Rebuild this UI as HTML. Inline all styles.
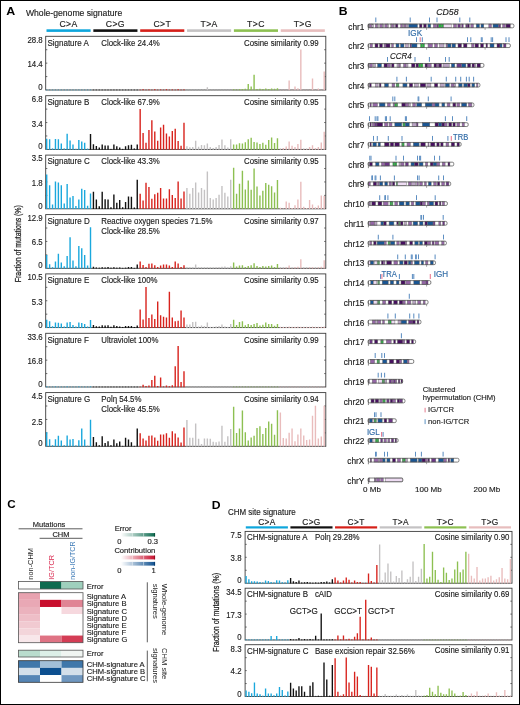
<!DOCTYPE html><html><head><meta charset="utf-8"><style>html,body{margin:0;padding:0;background:#fff;}#w{position:relative;width:520px;height:705px;overflow:hidden;background:#fff;}svg{display:block;position:absolute;left:0;top:0;filter:blur(0.3px);} text{font-family:"Liberation Sans", sans-serif;}.bd{position:absolute;left:0;top:0;width:518px;height:703px;border:1px solid #000;}</style></head><body><div id="w"><svg width="520" height="705" viewBox="0 0 520 705" font-family='"Liberation Sans", sans-serif'>
<rect x="0.00" y="0.00" width="520.00" height="705.00" fill="#fff" />
<text transform="translate(6.30,14.80) scale(1.17,1)" font-size="10.6" text-anchor="start" fill="#000" font-weight="bold" >A</text>
<text transform="translate(25.90,16.00) scale(0.94,1)" font-size="9.2" text-anchor="start" fill="#222" stroke="#222" stroke-width="0.15" font-weight="normal" >Whole-genome signature</text>
<rect x="46.50" y="29.30" width="44.10" height="2.60" fill="#0ea6dc" />
<text x="68.55" y="26.50" font-size="8.7" text-anchor="middle" fill="#222" stroke="#222" stroke-width="0.15" font-weight="normal" letter-spacing="0.35">C&gt;A</text>
<rect x="93.35" y="29.30" width="44.10" height="2.60" fill="#111111" />
<text x="115.40" y="26.50" font-size="8.7" text-anchor="middle" fill="#222" stroke="#222" stroke-width="0.15" font-weight="normal" letter-spacing="0.35">C&gt;G</text>
<rect x="140.20" y="29.30" width="44.10" height="2.60" fill="#d52019" />
<text x="162.25" y="26.50" font-size="8.7" text-anchor="middle" fill="#222" stroke="#222" stroke-width="0.15" font-weight="normal" letter-spacing="0.35">C&gt;T</text>
<rect x="187.05" y="29.30" width="44.10" height="2.60" fill="#c4c2c3" />
<text x="209.10" y="26.50" font-size="8.7" text-anchor="middle" fill="#222" stroke="#222" stroke-width="0.15" font-weight="normal" letter-spacing="0.35">T&gt;A</text>
<rect x="233.90" y="29.30" width="44.10" height="2.60" fill="#8dc052" />
<text x="255.95" y="26.50" font-size="8.7" text-anchor="middle" fill="#222" stroke="#222" stroke-width="0.15" font-weight="normal" letter-spacing="0.35">T&gt;C</text>
<rect x="280.75" y="29.30" width="44.10" height="2.60" fill="#e7bdbd" />
<text x="302.80" y="26.50" font-size="8.7" text-anchor="middle" fill="#222" stroke="#222" stroke-width="0.15" font-weight="normal" letter-spacing="0.35">T&gt;G</text>
<rect x="45.7" y="36.30" width="280.1" height="53.70" fill="none" stroke="#3c3c3c" stroke-width="0.9"/>
<path d="M45.7 49.72h1.6M325.8 49.72h-1.6M45.7 63.15h1.6M325.8 63.15h-1.6M45.7 76.58h1.6M325.8 76.58h-1.6" stroke="#444" stroke-width="0.8"/>
<path d="M46.70 90.00v-0.8M49.62 90.00v-0.8M52.54 90.00v-0.8M55.46 90.00v-0.8M58.38 90.00v-0.8M61.30 90.00v-0.8M64.23 90.00v-0.8M67.15 90.00v-0.8M70.07 90.00v-0.8M72.99 90.00v-0.8M75.91 90.00v-0.8M78.83 90.00v-0.8M81.75 90.00v-0.8M84.67 90.00v-0.8M87.59 90.00v-0.8M90.52 90.00v-0.8M93.44 90.00v-0.8M96.36 90.00v-0.8M99.28 90.00v-0.8M102.20 90.00v-0.8M105.12 90.00v-0.8M108.04 90.00v-0.8M110.96 90.00v-0.8M113.88 90.00v-0.8M116.80 90.00v-0.8M119.72 90.00v-0.8M122.65 90.00v-0.8M125.57 90.00v-0.8M128.49 90.00v-0.8M131.41 90.00v-0.8M134.33 90.00v-0.8M137.25 90.00v-0.8M140.17 90.00v-0.8M143.09 90.00v-0.8M146.01 90.00v-0.8M148.94 90.00v-0.8M151.86 90.00v-0.8M154.78 90.00v-0.8M157.70 90.00v-0.8M160.62 90.00v-0.8M163.54 90.00v-0.8M166.46 90.00v-0.8M169.38 90.00v-0.8M172.30 90.00v-0.8M175.22 90.00v-0.8M178.14 90.00v-0.8M181.07 90.00v-0.8M183.99 90.00v-0.8M186.91 90.00v-0.8M189.83 90.00v-0.8M192.75 90.00v-0.8M195.67 90.00v-0.8M198.59 90.00v-0.8M201.51 90.00v-0.8M204.43 90.00v-0.8M207.36 90.00v-0.8M210.28 90.00v-0.8M213.20 90.00v-0.8M216.12 90.00v-0.8M219.04 90.00v-0.8M221.96 90.00v-0.8M224.88 90.00v-0.8M227.80 90.00v-0.8M230.72 90.00v-0.8M233.64 90.00v-0.8M236.56 90.00v-0.8M239.49 90.00v-0.8M242.41 90.00v-0.8M245.33 90.00v-0.8M248.25 90.00v-0.8M251.17 90.00v-0.8M254.09 90.00v-0.8M257.01 90.00v-0.8M259.93 90.00v-0.8M262.85 90.00v-0.8M265.77 90.00v-0.8M268.70 90.00v-0.8M271.62 90.00v-0.8M274.54 90.00v-0.8M277.46 90.00v-0.8M280.38 90.00v-0.8M283.30 90.00v-0.8M286.22 90.00v-0.8M289.14 90.00v-0.8M292.06 90.00v-0.8M294.99 90.00v-0.8M297.91 90.00v-0.8M300.83 90.00v-0.8M303.75 90.00v-0.8M306.67 90.00v-0.8M309.59 90.00v-0.8M312.51 90.00v-0.8M315.43 90.00v-0.8M318.35 90.00v-0.8M321.27 90.00v-0.8M324.19 90.00v-0.8" stroke="#777" stroke-width="0.6"/>
<path d="M46.00 90.30h1.4v-0.60h-1.4zM48.92 90.30h1.4v-0.60h-1.4zM51.84 90.30h1.4v-0.60h-1.4zM54.76 90.30h1.4v-0.60h-1.4zM57.68 90.30h1.4v-0.60h-1.4zM60.60 90.30h1.4v-0.60h-1.4zM63.53 90.30h1.4v-0.60h-1.4zM66.45 90.30h1.4v-0.60h-1.4zM69.37 90.30h1.4v-0.60h-1.4zM72.29 90.30h1.4v-0.60h-1.4zM75.21 90.30h1.4v-0.60h-1.4zM78.13 90.30h1.4v-0.60h-1.4zM81.05 90.30h1.4v-0.60h-1.4zM83.97 90.30h1.4v-0.60h-1.4zM86.89 90.30h1.4v-0.60h-1.4zM89.81 90.30h1.4v-0.60h-1.4z" fill="#1aa8dd"/>
<path d="M92.74 90.30h1.4v-0.60h-1.4zM95.66 90.30h1.4v-0.60h-1.4zM98.58 90.30h1.4v-0.60h-1.4zM101.50 90.30h1.4v-0.60h-1.4zM104.42 90.30h1.4v-0.60h-1.4zM107.34 90.30h1.4v-0.60h-1.4zM110.26 90.30h1.4v-0.60h-1.4zM113.18 90.30h1.4v-0.60h-1.4zM116.10 90.30h1.4v-0.60h-1.4zM119.02 90.30h1.4v-0.60h-1.4zM121.95 90.30h1.4v-0.60h-1.4zM124.87 90.30h1.4v-0.60h-1.4zM127.79 90.30h1.4v-0.60h-1.4zM130.71 90.30h1.4v-0.60h-1.4zM133.63 90.30h1.4v-0.60h-1.4zM136.55 90.30h1.4v-0.60h-1.4z" fill="#111111"/>
<path d="M139.47 90.30h1.4v-0.60h-1.4zM142.39 90.30h1.4v-1.10h-1.4zM145.31 90.30h1.4v-0.60h-1.4zM148.24 90.30h1.4v-0.90h-1.4zM151.16 90.30h1.4v-0.60h-1.4zM154.08 90.30h1.4v-1.10h-1.4zM157.00 90.30h1.4v-0.60h-1.4zM159.92 90.30h1.4v-0.90h-1.4zM162.84 90.30h1.4v-0.60h-1.4zM165.76 90.30h1.4v-1.10h-1.4zM168.68 90.30h1.4v-0.60h-1.4zM171.60 90.30h1.4v-0.90h-1.4zM174.52 90.30h1.4v-0.60h-1.4zM177.44 90.30h1.4v-1.10h-1.4zM180.37 90.30h1.4v-0.60h-1.4zM183.29 90.30h1.4v-0.90h-1.4z" fill="#d8231d"/>
<path d="M186.21 90.30h1.4v-0.60h-1.4zM189.13 90.30h1.4v-0.60h-1.4zM192.05 90.30h1.4v-0.60h-1.4zM194.97 90.30h1.4v-0.60h-1.4zM197.89 90.30h1.4v-0.60h-1.4zM200.81 90.30h1.4v-0.60h-1.4zM203.73 90.30h1.4v-0.60h-1.4zM206.66 90.30h1.4v-3.10h-1.4zM209.58 90.30h1.4v-0.60h-1.4zM212.50 90.30h1.4v-0.60h-1.4zM215.42 90.30h1.4v-0.60h-1.4zM218.34 90.30h1.4v-0.60h-1.4zM221.26 90.30h1.4v-0.60h-1.4zM224.18 90.30h1.4v-0.60h-1.4zM227.10 90.30h1.4v-0.60h-1.4zM230.02 90.30h1.4v-0.60h-1.4z" fill="#c4c2c3"/>
<path d="M232.94 90.30h1.4v-1.10h-1.4zM235.87 90.30h1.4v-0.90h-1.4zM238.79 90.30h1.4v-1.10h-1.4zM241.71 90.30h1.4v-1.30h-1.4zM244.63 90.30h1.4v-1.50h-1.4zM247.55 90.30h1.4v-6.30h-1.4zM250.47 90.30h1.4v-3.70h-1.4zM253.39 90.30h1.4v-15.60h-1.4zM256.31 90.30h1.4v-1.30h-1.4zM259.23 90.30h1.4v-1.50h-1.4zM262.15 90.30h1.4v-1.30h-1.4zM265.07 90.30h1.4v-1.70h-1.4zM268.00 90.30h1.4v-1.30h-1.4zM270.92 90.30h1.4v-1.90h-1.4zM273.84 90.30h1.4v-1.50h-1.4zM276.76 90.30h1.4v-2.10h-1.4z" fill="#8dc052"/>
<path d="M279.68 90.30h1.4v-0.60h-1.4zM282.60 90.30h1.4v-0.60h-1.4zM285.52 90.30h1.4v-0.60h-1.4zM288.44 90.30h1.4v-9.90h-1.4zM291.36 90.30h1.4v-0.60h-1.4zM294.29 90.30h1.4v-3.90h-1.4zM297.21 90.30h1.4v-2.10h-1.4zM300.13 90.30h1.4v-40.90h-1.4zM303.05 90.30h1.4v-0.60h-1.4zM305.97 90.30h1.4v-0.60h-1.4zM308.89 90.30h1.4v-0.60h-1.4zM311.81 90.30h1.4v-11.80h-1.4zM314.73 90.30h1.4v-0.60h-1.4zM317.65 90.30h1.4v-1.80h-1.4zM320.57 90.30h1.4v-0.60h-1.4zM323.50 90.30h1.4v-18.90h-1.4z" fill="#e9bcbc"/>
<text transform="translate(42.70,42.60) scale(0.91,1)" font-size="8.6" text-anchor="end" fill="#222" stroke="#222" stroke-width="0.15" font-weight="normal" >28.8</text>
<text transform="translate(42.70,67.10) scale(0.91,1)" font-size="8.6" text-anchor="end" fill="#222" stroke="#222" stroke-width="0.15" font-weight="normal" >14.4</text>
<text transform="translate(42.70,90.00) scale(0.91,1)" font-size="8.6" text-anchor="end" fill="#222" stroke="#222" stroke-width="0.15" font-weight="normal" >0</text>
<text transform="translate(47.40,45.60) scale(0.945,1)" font-size="8.5" text-anchor="start" fill="#222" stroke="#222" stroke-width="0.15" font-weight="normal" >Signature A</text>
<text transform="translate(101.30,45.60) scale(0.925,1)" font-size="8.5" text-anchor="start" fill="#222" stroke="#222" stroke-width="0.15" font-weight="normal" >Clock-like 24.4%</text>
<text transform="translate(318.70,45.60) scale(0.927,1)" font-size="8.5" text-anchor="end" fill="#222" stroke="#222" stroke-width="0.15" font-weight="normal" >Cosine similarity 0.99</text>
<rect x="45.7" y="95.70" width="280.1" height="53.70" fill="none" stroke="#3c3c3c" stroke-width="0.9"/>
<path d="M45.7 109.12h1.6M325.8 109.12h-1.6M45.7 122.55h1.6M325.8 122.55h-1.6M45.7 135.98h1.6M325.8 135.98h-1.6" stroke="#444" stroke-width="0.8"/>
<path d="M46.70 149.40v-0.8M49.62 149.40v-0.8M52.54 149.40v-0.8M55.46 149.40v-0.8M58.38 149.40v-0.8M61.30 149.40v-0.8M64.23 149.40v-0.8M67.15 149.40v-0.8M70.07 149.40v-0.8M72.99 149.40v-0.8M75.91 149.40v-0.8M78.83 149.40v-0.8M81.75 149.40v-0.8M84.67 149.40v-0.8M87.59 149.40v-0.8M90.52 149.40v-0.8M93.44 149.40v-0.8M96.36 149.40v-0.8M99.28 149.40v-0.8M102.20 149.40v-0.8M105.12 149.40v-0.8M108.04 149.40v-0.8M110.96 149.40v-0.8M113.88 149.40v-0.8M116.80 149.40v-0.8M119.72 149.40v-0.8M122.65 149.40v-0.8M125.57 149.40v-0.8M128.49 149.40v-0.8M131.41 149.40v-0.8M134.33 149.40v-0.8M137.25 149.40v-0.8M140.17 149.40v-0.8M143.09 149.40v-0.8M146.01 149.40v-0.8M148.94 149.40v-0.8M151.86 149.40v-0.8M154.78 149.40v-0.8M157.70 149.40v-0.8M160.62 149.40v-0.8M163.54 149.40v-0.8M166.46 149.40v-0.8M169.38 149.40v-0.8M172.30 149.40v-0.8M175.22 149.40v-0.8M178.14 149.40v-0.8M181.07 149.40v-0.8M183.99 149.40v-0.8M186.91 149.40v-0.8M189.83 149.40v-0.8M192.75 149.40v-0.8M195.67 149.40v-0.8M198.59 149.40v-0.8M201.51 149.40v-0.8M204.43 149.40v-0.8M207.36 149.40v-0.8M210.28 149.40v-0.8M213.20 149.40v-0.8M216.12 149.40v-0.8M219.04 149.40v-0.8M221.96 149.40v-0.8M224.88 149.40v-0.8M227.80 149.40v-0.8M230.72 149.40v-0.8M233.64 149.40v-0.8M236.56 149.40v-0.8M239.49 149.40v-0.8M242.41 149.40v-0.8M245.33 149.40v-0.8M248.25 149.40v-0.8M251.17 149.40v-0.8M254.09 149.40v-0.8M257.01 149.40v-0.8M259.93 149.40v-0.8M262.85 149.40v-0.8M265.77 149.40v-0.8M268.70 149.40v-0.8M271.62 149.40v-0.8M274.54 149.40v-0.8M277.46 149.40v-0.8M280.38 149.40v-0.8M283.30 149.40v-0.8M286.22 149.40v-0.8M289.14 149.40v-0.8M292.06 149.40v-0.8M294.99 149.40v-0.8M297.91 149.40v-0.8M300.83 149.40v-0.8M303.75 149.40v-0.8M306.67 149.40v-0.8M309.59 149.40v-0.8M312.51 149.40v-0.8M315.43 149.40v-0.8M318.35 149.40v-0.8M321.27 149.40v-0.8M324.19 149.40v-0.8" stroke="#777" stroke-width="0.6"/>
<path d="M46.00 149.70h1.4v-11.00h-1.4zM48.92 149.70h1.4v-10.50h-1.4zM51.84 149.70h1.4v-1.30h-1.4zM54.76 149.70h1.4v-10.70h-1.4zM57.68 149.70h1.4v-10.50h-1.4zM60.60 149.70h1.4v-6.20h-1.4zM63.53 149.70h1.4v-1.30h-1.4zM66.45 149.70h1.4v-16.00h-1.4zM69.37 149.70h1.4v-9.20h-1.4zM72.29 149.70h1.4v-5.10h-1.4zM75.21 149.70h1.4v-0.70h-1.4zM78.13 149.70h1.4v-9.60h-1.4zM81.05 149.70h1.4v-8.20h-1.4zM83.97 149.70h1.4v-6.90h-1.4zM86.89 149.70h1.4v-1.00h-1.4z" fill="#1aa8dd"/>
<path d="M89.81 149.70h1.4v-15.70h-1.4zM92.74 149.70h1.4v-5.50h-1.4zM95.66 149.70h1.4v-3.70h-1.4zM98.58 149.70h1.4v-2.10h-1.4zM101.50 149.70h1.4v-5.10h-1.4zM104.42 149.70h1.4v-4.10h-1.4zM107.34 149.70h1.4v-4.10h-1.4zM110.26 149.70h1.4v-0.80h-1.4zM113.18 149.70h1.4v-5.10h-1.4zM116.10 149.70h1.4v-3.40h-1.4zM119.02 149.70h1.4v-2.10h-1.4zM121.95 149.70h1.4v-0.60h-1.4zM124.87 149.70h1.4v-3.40h-1.4zM127.79 149.70h1.4v-4.40h-1.4zM130.71 149.70h1.4v-4.90h-1.4zM133.63 149.70h1.4v-1.10h-1.4zM136.55 149.70h1.4v-5.30h-1.4z" fill="#111111"/>
<path d="M139.47 149.70h1.4v-40.70h-1.4zM142.39 149.70h1.4v-16.80h-1.4zM145.31 149.70h1.4v-6.90h-1.4zM148.24 149.70h1.4v-19.60h-1.4zM151.16 149.70h1.4v-29.40h-1.4zM154.08 149.70h1.4v-18.10h-1.4zM157.00 149.70h1.4v-8.90h-1.4zM159.92 149.70h1.4v-22.20h-1.4zM162.84 149.70h1.4v-24.90h-1.4zM165.76 149.70h1.4v-16.10h-1.4zM168.68 149.70h1.4v-13.30h-1.4zM171.60 149.70h1.4v-18.70h-1.4zM174.52 149.70h1.4v-20.90h-1.4zM177.44 149.70h1.4v-8.60h-1.4zM180.37 149.70h1.4v-3.90h-1.4zM183.29 149.70h1.4v-26.90h-1.4z" fill="#d8231d"/>
<path d="M186.21 149.70h1.4v-3.40h-1.4zM189.13 149.70h1.4v-2.50h-1.4zM192.05 149.70h1.4v-2.80h-1.4zM194.97 149.70h1.4v-8.90h-1.4zM197.89 149.70h1.4v-3.00h-1.4zM200.81 149.70h1.4v-4.80h-1.4zM203.73 149.70h1.4v-4.50h-1.4zM206.66 149.70h1.4v-6.20h-1.4zM209.58 149.70h1.4v-2.80h-1.4zM212.50 149.70h1.4v-1.70h-1.4zM215.42 149.70h1.4v-2.80h-1.4zM218.34 149.70h1.4v-4.80h-1.4zM221.26 149.70h1.4v-10.30h-1.4zM224.18 149.70h1.4v-4.50h-1.4zM227.10 149.70h1.4v-2.10h-1.4zM230.02 149.70h1.4v-10.50h-1.4z" fill="#c4c2c3"/>
<path d="M232.94 149.70h1.4v-5.10h-1.4zM235.87 149.70h1.4v-5.10h-1.4zM238.79 149.70h1.4v-6.40h-1.4zM241.71 149.70h1.4v-6.20h-1.4zM244.63 149.70h1.4v-7.50h-1.4zM247.55 149.70h1.4v-10.50h-1.4zM250.47 149.70h1.4v-11.90h-1.4zM253.39 149.70h1.4v-7.80h-1.4zM256.31 149.70h1.4v-7.20h-1.4zM259.23 149.70h1.4v-5.80h-1.4zM262.15 149.70h1.4v-6.90h-1.4zM265.07 149.70h1.4v-4.90h-1.4zM268.00 149.70h1.4v-9.70h-1.4zM270.92 149.70h1.4v-12.10h-1.4zM273.84 149.70h1.4v-6.70h-1.4zM276.76 149.70h1.4v-11.40h-1.4z" fill="#8dc052"/>
<path d="M279.68 149.70h1.4v-0.60h-1.4zM282.60 149.70h1.4v-1.70h-1.4zM285.52 149.70h1.4v-3.10h-1.4zM288.44 149.70h1.4v-8.10h-1.4zM291.36 149.70h1.4v-3.90h-1.4zM294.29 149.70h1.4v-2.80h-1.4zM297.21 149.70h1.4v-5.80h-1.4zM300.13 149.70h1.4v-10.00h-1.4zM303.05 149.70h1.4v-0.60h-1.4zM305.97 149.70h1.4v-0.70h-1.4zM308.89 149.70h1.4v-2.80h-1.4zM311.81 149.70h1.4v-4.50h-1.4zM314.73 149.70h1.4v-1.70h-1.4zM317.65 149.70h1.4v-2.80h-1.4zM320.57 149.70h1.4v-7.20h-1.4zM323.50 149.70h1.4v-18.00h-1.4z" fill="#e9bcbc"/>
<text transform="translate(42.70,102.00) scale(0.91,1)" font-size="8.6" text-anchor="end" fill="#222" stroke="#222" stroke-width="0.15" font-weight="normal" >6.8</text>
<text transform="translate(42.70,126.50) scale(0.91,1)" font-size="8.6" text-anchor="end" fill="#222" stroke="#222" stroke-width="0.15" font-weight="normal" >3.4</text>
<text transform="translate(42.70,149.40) scale(0.91,1)" font-size="8.6" text-anchor="end" fill="#222" stroke="#222" stroke-width="0.15" font-weight="normal" >0</text>
<text transform="translate(47.40,105.00) scale(0.945,1)" font-size="8.5" text-anchor="start" fill="#222" stroke="#222" stroke-width="0.15" font-weight="normal" >Signature B</text>
<text transform="translate(101.30,105.00) scale(0.925,1)" font-size="8.5" text-anchor="start" fill="#222" stroke="#222" stroke-width="0.15" font-weight="normal" >Clock-like 67.9%</text>
<text transform="translate(318.70,105.00) scale(0.927,1)" font-size="8.5" text-anchor="end" fill="#222" stroke="#222" stroke-width="0.15" font-weight="normal" >Cosine similarity 0.95</text>
<rect x="45.7" y="155.10" width="280.1" height="53.70" fill="none" stroke="#3c3c3c" stroke-width="0.9"/>
<path d="M45.7 168.53h1.6M325.8 168.53h-1.6M45.7 181.95h1.6M325.8 181.95h-1.6M45.7 195.38h1.6M325.8 195.38h-1.6" stroke="#444" stroke-width="0.8"/>
<path d="M46.70 208.80v-0.8M49.62 208.80v-0.8M52.54 208.80v-0.8M55.46 208.80v-0.8M58.38 208.80v-0.8M61.30 208.80v-0.8M64.23 208.80v-0.8M67.15 208.80v-0.8M70.07 208.80v-0.8M72.99 208.80v-0.8M75.91 208.80v-0.8M78.83 208.80v-0.8M81.75 208.80v-0.8M84.67 208.80v-0.8M87.59 208.80v-0.8M90.52 208.80v-0.8M93.44 208.80v-0.8M96.36 208.80v-0.8M99.28 208.80v-0.8M102.20 208.80v-0.8M105.12 208.80v-0.8M108.04 208.80v-0.8M110.96 208.80v-0.8M113.88 208.80v-0.8M116.80 208.80v-0.8M119.72 208.80v-0.8M122.65 208.80v-0.8M125.57 208.80v-0.8M128.49 208.80v-0.8M131.41 208.80v-0.8M134.33 208.80v-0.8M137.25 208.80v-0.8M140.17 208.80v-0.8M143.09 208.80v-0.8M146.01 208.80v-0.8M148.94 208.80v-0.8M151.86 208.80v-0.8M154.78 208.80v-0.8M157.70 208.80v-0.8M160.62 208.80v-0.8M163.54 208.80v-0.8M166.46 208.80v-0.8M169.38 208.80v-0.8M172.30 208.80v-0.8M175.22 208.80v-0.8M178.14 208.80v-0.8M181.07 208.80v-0.8M183.99 208.80v-0.8M186.91 208.80v-0.8M189.83 208.80v-0.8M192.75 208.80v-0.8M195.67 208.80v-0.8M198.59 208.80v-0.8M201.51 208.80v-0.8M204.43 208.80v-0.8M207.36 208.80v-0.8M210.28 208.80v-0.8M213.20 208.80v-0.8M216.12 208.80v-0.8M219.04 208.80v-0.8M221.96 208.80v-0.8M224.88 208.80v-0.8M227.80 208.80v-0.8M230.72 208.80v-0.8M233.64 208.80v-0.8M236.56 208.80v-0.8M239.49 208.80v-0.8M242.41 208.80v-0.8M245.33 208.80v-0.8M248.25 208.80v-0.8M251.17 208.80v-0.8M254.09 208.80v-0.8M257.01 208.80v-0.8M259.93 208.80v-0.8M262.85 208.80v-0.8M265.77 208.80v-0.8M268.70 208.80v-0.8M271.62 208.80v-0.8M274.54 208.80v-0.8M277.46 208.80v-0.8M280.38 208.80v-0.8M283.30 208.80v-0.8M286.22 208.80v-0.8M289.14 208.80v-0.8M292.06 208.80v-0.8M294.99 208.80v-0.8M297.91 208.80v-0.8M300.83 208.80v-0.8M303.75 208.80v-0.8M306.67 208.80v-0.8M309.59 208.80v-0.8M312.51 208.80v-0.8M315.43 208.80v-0.8M318.35 208.80v-0.8M321.27 208.80v-0.8M324.19 208.80v-0.8" stroke="#777" stroke-width="0.6"/>
<path d="M46.00 209.10h1.4v-34.50h-1.4zM48.92 209.10h1.4v-23.80h-1.4zM51.84 209.10h1.4v-4.70h-1.4zM54.76 209.10h1.4v-27.60h-1.4zM57.68 209.10h1.4v-26.50h-1.4zM60.60 209.10h1.4v-23.90h-1.4zM63.53 209.10h1.4v-5.50h-1.4zM66.45 209.10h1.4v-25.20h-1.4zM69.37 209.10h1.4v-11.60h-1.4zM72.29 209.10h1.4v-13.00h-1.4zM75.21 209.10h1.4v-3.00h-1.4zM78.13 209.10h1.4v-9.60h-1.4zM81.05 209.10h1.4v-20.40h-1.4zM83.97 209.10h1.4v-19.20h-1.4zM86.89 209.10h1.4v-3.30h-1.4zM89.81 209.10h1.4v-15.70h-1.4z" fill="#1aa8dd"/>
<path d="M92.74 209.10h1.4v-17.40h-1.4zM95.66 209.10h1.4v-9.60h-1.4zM98.58 209.10h1.4v-2.80h-1.4zM101.50 209.10h1.4v-17.40h-1.4zM104.42 209.10h1.4v-9.90h-1.4zM107.34 209.10h1.4v-9.60h-1.4zM110.26 209.10h1.4v-1.90h-1.4zM113.18 209.10h1.4v-14.60h-1.4zM116.10 209.10h1.4v-6.40h-1.4zM119.02 209.10h1.4v-9.20h-1.4zM121.95 209.10h1.4v-1.90h-1.4zM124.87 209.10h1.4v-7.10h-1.4zM127.79 209.10h1.4v-12.60h-1.4zM130.71 209.10h1.4v-12.30h-1.4zM133.63 209.10h1.4v-1.70h-1.4zM136.55 209.10h1.4v-29.40h-1.4z" fill="#111111"/>
<path d="M139.47 209.10h1.4v-15.30h-1.4zM142.39 209.10h1.4v-8.50h-1.4zM145.31 209.10h1.4v-26.30h-1.4zM148.24 209.10h1.4v-22.20h-1.4zM151.16 209.10h1.4v-10.30h-1.4zM154.08 209.10h1.4v-14.90h-1.4zM157.00 209.10h1.4v-16.40h-1.4zM159.92 209.10h1.4v-21.10h-1.4zM162.84 209.10h1.4v-10.50h-1.4zM165.76 209.10h1.4v-10.50h-1.4zM168.68 209.10h1.4v-19.80h-1.4zM171.60 209.10h1.4v-14.00h-1.4zM174.52 209.10h1.4v-11.00h-1.4zM177.44 209.10h1.4v-27.60h-1.4zM180.37 209.10h1.4v-10.50h-1.4zM183.29 209.10h1.4v-17.60h-1.4z" fill="#d8231d"/>
<path d="M186.21 209.10h1.4v-21.20h-1.4zM189.13 209.10h1.4v-15.30h-1.4zM192.05 209.10h1.4v-21.20h-1.4zM194.97 209.10h1.4v-26.50h-1.4zM197.89 209.10h1.4v-16.70h-1.4zM200.81 209.10h1.4v-21.20h-1.4zM203.73 209.10h1.4v-19.40h-1.4zM206.66 209.10h1.4v-37.50h-1.4zM209.58 209.10h1.4v-11.00h-1.4zM212.50 209.10h1.4v-9.50h-1.4zM215.42 209.10h1.4v-11.20h-1.4zM218.34 209.10h1.4v-14.40h-1.4zM221.26 209.10h1.4v-23.10h-1.4zM224.18 209.10h1.4v-16.40h-1.4zM227.10 209.10h1.4v-12.60h-1.4zM230.02 209.10h1.4v-29.30h-1.4z" fill="#c4c2c3"/>
<path d="M232.94 209.10h1.4v-41.30h-1.4zM235.87 209.10h1.4v-15.30h-1.4zM238.79 209.10h1.4v-25.30h-1.4zM241.71 209.10h1.4v-38.30h-1.4zM244.63 209.10h1.4v-19.70h-1.4zM247.55 209.10h1.4v-28.70h-1.4zM250.47 209.10h1.4v-19.40h-1.4zM253.39 209.10h1.4v-40.60h-1.4zM256.31 209.10h1.4v-22.60h-1.4zM259.23 209.10h1.4v-13.50h-1.4zM262.15 209.10h1.4v-18.30h-1.4zM265.07 209.10h1.4v-26.10h-1.4zM268.00 209.10h1.4v-24.30h-1.4zM270.92 209.10h1.4v-22.90h-1.4zM273.84 209.10h1.4v-16.60h-1.4zM276.76 209.10h1.4v-29.10h-1.4z" fill="#8dc052"/>
<path d="M279.68 209.10h1.4v-1.40h-1.4zM282.60 209.10h1.4v-0.70h-1.4zM285.52 209.10h1.4v-7.60h-1.4zM288.44 209.10h1.4v-6.30h-1.4zM291.36 209.10h1.4v-1.00h-1.4zM294.29 209.10h1.4v-3.90h-1.4zM297.21 209.10h1.4v-9.70h-1.4zM300.13 209.10h1.4v-27.30h-1.4zM303.05 209.10h1.4v-2.40h-1.4zM305.97 209.10h1.4v-1.00h-1.4zM308.89 209.10h1.4v-9.00h-1.4zM311.81 209.10h1.4v-4.60h-1.4zM314.73 209.10h1.4v-1.80h-1.4zM317.65 209.10h1.4v-3.50h-1.4zM320.57 209.10h1.4v-13.50h-1.4zM323.50 209.10h1.4v-13.20h-1.4z" fill="#e9bcbc"/>
<text transform="translate(42.70,161.40) scale(0.91,1)" font-size="8.6" text-anchor="end" fill="#222" stroke="#222" stroke-width="0.15" font-weight="normal" >3.5</text>
<text transform="translate(42.70,185.90) scale(0.91,1)" font-size="8.6" text-anchor="end" fill="#222" stroke="#222" stroke-width="0.15" font-weight="normal" >1.8</text>
<text transform="translate(42.70,208.80) scale(0.91,1)" font-size="8.6" text-anchor="end" fill="#222" stroke="#222" stroke-width="0.15" font-weight="normal" >0</text>
<text transform="translate(47.40,164.40) scale(0.945,1)" font-size="8.5" text-anchor="start" fill="#222" stroke="#222" stroke-width="0.15" font-weight="normal" >Signature C</text>
<text transform="translate(101.30,164.40) scale(0.925,1)" font-size="8.5" text-anchor="start" fill="#222" stroke="#222" stroke-width="0.15" font-weight="normal" >Clock-like 43.3%</text>
<text transform="translate(318.70,164.40) scale(0.927,1)" font-size="8.5" text-anchor="end" fill="#222" stroke="#222" stroke-width="0.15" font-weight="normal" >Cosine similarity 0.95</text>
<rect x="45.7" y="214.60" width="280.1" height="53.70" fill="none" stroke="#3c3c3c" stroke-width="0.9"/>
<path d="M45.7 228.03h1.6M325.8 228.03h-1.6M45.7 241.45h1.6M325.8 241.45h-1.6M45.7 254.88h1.6M325.8 254.88h-1.6" stroke="#444" stroke-width="0.8"/>
<path d="M46.70 268.30v-0.8M49.62 268.30v-0.8M52.54 268.30v-0.8M55.46 268.30v-0.8M58.38 268.30v-0.8M61.30 268.30v-0.8M64.23 268.30v-0.8M67.15 268.30v-0.8M70.07 268.30v-0.8M72.99 268.30v-0.8M75.91 268.30v-0.8M78.83 268.30v-0.8M81.75 268.30v-0.8M84.67 268.30v-0.8M87.59 268.30v-0.8M90.52 268.30v-0.8M93.44 268.30v-0.8M96.36 268.30v-0.8M99.28 268.30v-0.8M102.20 268.30v-0.8M105.12 268.30v-0.8M108.04 268.30v-0.8M110.96 268.30v-0.8M113.88 268.30v-0.8M116.80 268.30v-0.8M119.72 268.30v-0.8M122.65 268.30v-0.8M125.57 268.30v-0.8M128.49 268.30v-0.8M131.41 268.30v-0.8M134.33 268.30v-0.8M137.25 268.30v-0.8M140.17 268.30v-0.8M143.09 268.30v-0.8M146.01 268.30v-0.8M148.94 268.30v-0.8M151.86 268.30v-0.8M154.78 268.30v-0.8M157.70 268.30v-0.8M160.62 268.30v-0.8M163.54 268.30v-0.8M166.46 268.30v-0.8M169.38 268.30v-0.8M172.30 268.30v-0.8M175.22 268.30v-0.8M178.14 268.30v-0.8M181.07 268.30v-0.8M183.99 268.30v-0.8M186.91 268.30v-0.8M189.83 268.30v-0.8M192.75 268.30v-0.8M195.67 268.30v-0.8M198.59 268.30v-0.8M201.51 268.30v-0.8M204.43 268.30v-0.8M207.36 268.30v-0.8M210.28 268.30v-0.8M213.20 268.30v-0.8M216.12 268.30v-0.8M219.04 268.30v-0.8M221.96 268.30v-0.8M224.88 268.30v-0.8M227.80 268.30v-0.8M230.72 268.30v-0.8M233.64 268.30v-0.8M236.56 268.30v-0.8M239.49 268.30v-0.8M242.41 268.30v-0.8M245.33 268.30v-0.8M248.25 268.30v-0.8M251.17 268.30v-0.8M254.09 268.30v-0.8M257.01 268.30v-0.8M259.93 268.30v-0.8M262.85 268.30v-0.8M265.77 268.30v-0.8M268.70 268.30v-0.8M271.62 268.30v-0.8M274.54 268.30v-0.8M277.46 268.30v-0.8M280.38 268.30v-0.8M283.30 268.30v-0.8M286.22 268.30v-0.8M289.14 268.30v-0.8M292.06 268.30v-0.8M294.99 268.30v-0.8M297.91 268.30v-0.8M300.83 268.30v-0.8M303.75 268.30v-0.8M306.67 268.30v-0.8M309.59 268.30v-0.8M312.51 268.30v-0.8M315.43 268.30v-0.8M318.35 268.30v-0.8M321.27 268.30v-0.8M324.19 268.30v-0.8" stroke="#777" stroke-width="0.6"/>
<path d="M46.00 268.60h1.4v-13.60h-1.4zM48.92 268.60h1.4v-4.40h-1.4zM51.84 268.60h1.4v-1.30h-1.4zM54.76 268.60h1.4v-7.10h-1.4zM57.68 268.60h1.4v-14.90h-1.4zM60.60 268.60h1.4v-6.20h-1.4zM63.53 268.60h1.4v-2.30h-1.4zM66.45 268.60h1.4v-12.60h-1.4zM69.37 268.60h1.4v-31.30h-1.4zM72.29 268.60h1.4v-8.10h-1.4zM75.21 268.60h1.4v-2.30h-1.4zM78.13 268.60h1.4v-22.60h-1.4zM81.05 268.60h1.4v-20.40h-1.4zM83.97 268.60h1.4v-13.60h-1.4zM86.89 268.60h1.4v-3.00h-1.4zM89.81 268.60h1.4v-41.30h-1.4z" fill="#1aa8dd"/>
<path d="M92.74 268.60h1.4v-1.80h-1.4zM95.66 268.60h1.4v-1.10h-1.4zM98.58 268.60h1.4v-0.80h-1.4zM101.50 268.60h1.4v-1.30h-1.4zM104.42 268.60h1.4v-1.10h-1.4zM107.34 268.60h1.4v-1.50h-1.4zM110.26 268.60h1.4v-0.80h-1.4zM113.18 268.60h1.4v-1.30h-1.4zM116.10 268.60h1.4v-0.80h-1.4zM119.02 268.60h1.4v-1.10h-1.4zM121.95 268.60h1.4v-0.60h-1.4zM124.87 268.60h1.4v-0.80h-1.4zM127.79 268.60h1.4v-1.50h-1.4zM130.71 268.60h1.4v-1.50h-1.4zM133.63 268.60h1.4v-0.60h-1.4zM136.55 268.60h1.4v-4.00h-1.4z" fill="#111111"/>
<path d="M139.47 268.60h1.4v-7.10h-1.4zM142.39 268.60h1.4v-3.70h-1.4zM145.31 268.60h1.4v-1.70h-1.4zM148.24 268.60h1.4v-4.80h-1.4zM151.16 268.60h1.4v-5.10h-1.4zM154.08 268.60h1.4v-3.40h-1.4zM157.00 268.60h1.4v-1.70h-1.4zM159.92 268.60h1.4v-3.00h-1.4zM162.84 268.60h1.4v-4.00h-1.4zM165.76 268.60h1.4v-4.00h-1.4zM168.68 268.60h1.4v-3.00h-1.4zM171.60 268.60h1.4v-1.70h-1.4zM174.52 268.60h1.4v-7.10h-1.4zM177.44 268.60h1.4v-5.10h-1.4zM180.37 268.60h1.4v-1.70h-1.4zM183.29 268.60h1.4v-3.40h-1.4z" fill="#d8231d"/>
<path d="M186.21 268.60h1.4v-1.10h-1.4zM189.13 268.60h1.4v-0.90h-1.4zM192.05 268.60h1.4v-1.10h-1.4zM194.97 268.60h1.4v-4.00h-1.4zM197.89 268.60h1.4v-0.90h-1.4zM200.81 268.60h1.4v-1.10h-1.4zM203.73 268.60h1.4v-0.90h-1.4zM206.66 268.60h1.4v-1.10h-1.4zM209.58 268.60h1.4v-0.70h-1.4zM212.50 268.60h1.4v-0.70h-1.4zM215.42 268.60h1.4v-0.90h-1.4zM218.34 268.60h1.4v-1.10h-1.4zM221.26 268.60h1.4v-1.80h-1.4zM224.18 268.60h1.4v-2.10h-1.4zM227.10 268.60h1.4v-0.80h-1.4zM230.02 268.60h1.4v-2.30h-1.4z" fill="#c4c2c3"/>
<path d="M232.94 268.60h1.4v-6.20h-1.4zM235.87 268.60h1.4v-2.10h-1.4zM238.79 268.60h1.4v-3.00h-1.4zM241.71 268.60h1.4v-3.40h-1.4zM244.63 268.60h1.4v-1.70h-1.4zM247.55 268.60h1.4v-2.60h-1.4zM250.47 268.60h1.4v-3.40h-1.4zM253.39 268.60h1.4v-5.30h-1.4zM256.31 268.60h1.4v-2.50h-1.4zM259.23 268.60h1.4v-1.70h-1.4zM262.15 268.60h1.4v-2.50h-1.4zM265.07 268.60h1.4v-2.10h-1.4zM268.00 268.60h1.4v-2.50h-1.4zM270.92 268.60h1.4v-3.10h-1.4zM273.84 268.60h1.4v-1.70h-1.4zM276.76 268.60h1.4v-4.60h-1.4z" fill="#8dc052"/>
<path d="M279.68 268.60h1.4v-0.70h-1.4zM282.60 268.60h1.4v-0.70h-1.4zM285.52 268.60h1.4v-1.30h-1.4zM288.44 268.60h1.4v-3.10h-1.4zM291.36 268.60h1.4v-0.70h-1.4zM294.29 268.60h1.4v-1.30h-1.4zM297.21 268.60h1.4v-1.80h-1.4zM300.13 268.60h1.4v-9.40h-1.4zM303.05 268.60h1.4v-0.70h-1.4zM305.97 268.60h1.4v-0.70h-1.4zM308.89 268.60h1.4v-1.30h-1.4zM311.81 268.60h1.4v-1.30h-1.4zM314.73 268.60h1.4v-0.70h-1.4zM317.65 268.60h1.4v-1.30h-1.4zM320.57 268.60h1.4v-1.80h-1.4zM323.50 268.60h1.4v-8.30h-1.4z" fill="#e9bcbc"/>
<text transform="translate(42.70,220.90) scale(0.91,1)" font-size="8.6" text-anchor="end" fill="#222" stroke="#222" stroke-width="0.15" font-weight="normal" >12.9</text>
<text transform="translate(42.70,245.40) scale(0.91,1)" font-size="8.6" text-anchor="end" fill="#222" stroke="#222" stroke-width="0.15" font-weight="normal" >6.5</text>
<text transform="translate(42.70,268.30) scale(0.91,1)" font-size="8.6" text-anchor="end" fill="#222" stroke="#222" stroke-width="0.15" font-weight="normal" >0</text>
<text transform="translate(47.40,223.90) scale(0.945,1)" font-size="8.5" text-anchor="start" fill="#222" stroke="#222" stroke-width="0.15" font-weight="normal" >Signature D</text>
<text transform="translate(101.30,223.90) scale(0.925,1)" font-size="8.5" text-anchor="start" fill="#222" stroke="#222" stroke-width="0.15" font-weight="normal" >Reactive oxygen species 71.5%</text>
<text transform="translate(101.30,234.10) scale(0.925,1)" font-size="8.5" text-anchor="start" fill="#222" stroke="#222" stroke-width="0.15" font-weight="normal" >Clock-like 28.5%</text>
<text transform="translate(318.70,223.90) scale(0.927,1)" font-size="8.5" text-anchor="end" fill="#222" stroke="#222" stroke-width="0.15" font-weight="normal" >Cosine similarity 0.97</text>
<rect x="45.7" y="273.90" width="280.1" height="53.70" fill="none" stroke="#3c3c3c" stroke-width="0.9"/>
<path d="M45.7 287.32h1.6M325.8 287.32h-1.6M45.7 300.75h1.6M325.8 300.75h-1.6M45.7 314.17h1.6M325.8 314.17h-1.6" stroke="#444" stroke-width="0.8"/>
<path d="M46.70 327.60v-0.8M49.62 327.60v-0.8M52.54 327.60v-0.8M55.46 327.60v-0.8M58.38 327.60v-0.8M61.30 327.60v-0.8M64.23 327.60v-0.8M67.15 327.60v-0.8M70.07 327.60v-0.8M72.99 327.60v-0.8M75.91 327.60v-0.8M78.83 327.60v-0.8M81.75 327.60v-0.8M84.67 327.60v-0.8M87.59 327.60v-0.8M90.52 327.60v-0.8M93.44 327.60v-0.8M96.36 327.60v-0.8M99.28 327.60v-0.8M102.20 327.60v-0.8M105.12 327.60v-0.8M108.04 327.60v-0.8M110.96 327.60v-0.8M113.88 327.60v-0.8M116.80 327.60v-0.8M119.72 327.60v-0.8M122.65 327.60v-0.8M125.57 327.60v-0.8M128.49 327.60v-0.8M131.41 327.60v-0.8M134.33 327.60v-0.8M137.25 327.60v-0.8M140.17 327.60v-0.8M143.09 327.60v-0.8M146.01 327.60v-0.8M148.94 327.60v-0.8M151.86 327.60v-0.8M154.78 327.60v-0.8M157.70 327.60v-0.8M160.62 327.60v-0.8M163.54 327.60v-0.8M166.46 327.60v-0.8M169.38 327.60v-0.8M172.30 327.60v-0.8M175.22 327.60v-0.8M178.14 327.60v-0.8M181.07 327.60v-0.8M183.99 327.60v-0.8M186.91 327.60v-0.8M189.83 327.60v-0.8M192.75 327.60v-0.8M195.67 327.60v-0.8M198.59 327.60v-0.8M201.51 327.60v-0.8M204.43 327.60v-0.8M207.36 327.60v-0.8M210.28 327.60v-0.8M213.20 327.60v-0.8M216.12 327.60v-0.8M219.04 327.60v-0.8M221.96 327.60v-0.8M224.88 327.60v-0.8M227.80 327.60v-0.8M230.72 327.60v-0.8M233.64 327.60v-0.8M236.56 327.60v-0.8M239.49 327.60v-0.8M242.41 327.60v-0.8M245.33 327.60v-0.8M248.25 327.60v-0.8M251.17 327.60v-0.8M254.09 327.60v-0.8M257.01 327.60v-0.8M259.93 327.60v-0.8M262.85 327.60v-0.8M265.77 327.60v-0.8M268.70 327.60v-0.8M271.62 327.60v-0.8M274.54 327.60v-0.8M277.46 327.60v-0.8M280.38 327.60v-0.8M283.30 327.60v-0.8M286.22 327.60v-0.8M289.14 327.60v-0.8M292.06 327.60v-0.8M294.99 327.60v-0.8M297.91 327.60v-0.8M300.83 327.60v-0.8M303.75 327.60v-0.8M306.67 327.60v-0.8M309.59 327.60v-0.8M312.51 327.60v-0.8M315.43 327.60v-0.8M318.35 327.60v-0.8M321.27 327.60v-0.8M324.19 327.60v-0.8" stroke="#777" stroke-width="0.6"/>
<path d="M46.00 327.90h1.4v-8.10h-1.4zM48.92 327.90h1.4v-6.70h-1.4zM51.84 327.90h1.4v-1.70h-1.4zM54.76 327.90h1.4v-5.30h-1.4zM57.68 327.90h1.4v-5.10h-1.4zM60.60 327.90h1.4v-4.40h-1.4zM63.53 327.90h1.4v-1.30h-1.4zM66.45 327.90h1.4v-5.30h-1.4zM69.37 327.90h1.4v-5.80h-1.4zM72.29 327.90h1.4v-3.00h-1.4zM75.21 327.90h1.4v-1.30h-1.4zM78.13 327.90h1.4v-5.30h-1.4zM81.05 327.90h1.4v-4.80h-1.4zM83.97 327.90h1.4v-4.00h-1.4zM86.89 327.90h1.4v-1.30h-1.4zM89.81 327.90h1.4v-7.80h-1.4z" fill="#1aa8dd"/>
<path d="M92.74 327.90h1.4v-3.00h-1.4zM95.66 327.90h1.4v-1.70h-1.4zM98.58 327.90h1.4v-1.30h-1.4zM101.50 327.90h1.4v-2.60h-1.4zM104.42 327.90h1.4v-2.30h-1.4zM107.34 327.90h1.4v-2.60h-1.4zM110.26 327.90h1.4v-1.10h-1.4zM113.18 327.90h1.4v-2.60h-1.4zM116.10 327.90h1.4v-1.80h-1.4zM119.02 327.90h1.4v-1.30h-1.4zM121.95 327.90h1.4v-0.80h-1.4zM124.87 327.90h1.4v-1.80h-1.4zM127.79 327.90h1.4v-1.80h-1.4zM130.71 327.90h1.4v-1.80h-1.4zM133.63 327.90h1.4v-0.80h-1.4zM136.55 327.90h1.4v-2.30h-1.4z" fill="#111111"/>
<path d="M139.47 327.90h1.4v-18.50h-1.4zM142.39 327.90h1.4v-8.50h-1.4zM145.31 327.90h1.4v-41.00h-1.4zM148.24 327.90h1.4v-9.90h-1.4zM151.16 327.90h1.4v-13.30h-1.4zM154.08 327.90h1.4v-8.80h-1.4zM157.00 327.90h1.4v-26.30h-1.4zM159.92 327.90h1.4v-12.60h-1.4zM162.84 327.90h1.4v-11.20h-1.4zM165.76 327.90h1.4v-10.50h-1.4zM168.68 327.90h1.4v-36.20h-1.4zM171.60 327.90h1.4v-10.50h-1.4zM174.52 327.90h1.4v-6.70h-1.4zM177.44 327.90h1.4v-7.10h-1.4zM180.37 327.90h1.4v-17.40h-1.4zM183.29 327.90h1.4v-10.30h-1.4z" fill="#d8231d"/>
<path d="M186.21 327.90h1.4v-3.30h-1.4zM189.13 327.90h1.4v-3.30h-1.4zM192.05 327.90h1.4v-5.80h-1.4zM194.97 327.90h1.4v-6.20h-1.4zM197.89 327.90h1.4v-1.30h-1.4zM200.81 327.90h1.4v-2.30h-1.4zM203.73 327.90h1.4v-1.80h-1.4zM206.66 327.90h1.4v-5.30h-1.4zM209.58 327.90h1.4v-0.80h-1.4zM212.50 327.90h1.4v-0.80h-1.4zM215.42 327.90h1.4v-1.30h-1.4zM218.34 327.90h1.4v-1.80h-1.4zM221.26 327.90h1.4v-3.40h-1.4zM224.18 327.90h1.4v-1.30h-1.4zM227.10 327.90h1.4v-0.80h-1.4zM230.02 327.90h1.4v-4.00h-1.4z" fill="#c4c2c3"/>
<path d="M232.94 327.90h1.4v-8.10h-1.4zM235.87 327.90h1.4v-3.00h-1.4zM238.79 327.90h1.4v-5.80h-1.4zM241.71 327.90h1.4v-6.70h-1.4zM244.63 327.90h1.4v-2.60h-1.4zM247.55 327.90h1.4v-4.00h-1.4zM250.47 327.90h1.4v-3.00h-1.4zM253.39 327.90h1.4v-4.00h-1.4zM256.31 327.90h1.4v-4.90h-1.4zM259.23 327.90h1.4v-2.50h-1.4zM262.15 327.90h1.4v-3.10h-1.4zM265.07 327.90h1.4v-5.30h-1.4zM268.00 327.90h1.4v-3.90h-1.4zM270.92 327.90h1.4v-3.90h-1.4zM273.84 327.90h1.4v-2.10h-1.4zM276.76 327.90h1.4v-3.90h-1.4z" fill="#8dc052"/>
<path d="M279.68 327.90h1.4v-0.80h-1.4zM282.60 327.90h1.4v-0.90h-1.4zM285.52 327.90h1.4v-0.80h-1.4zM288.44 327.90h1.4v-1.10h-1.4zM291.36 327.90h1.4v-0.80h-1.4zM294.29 327.90h1.4v-0.90h-1.4zM297.21 327.90h1.4v-1.10h-1.4zM300.13 327.90h1.4v-0.90h-1.4zM303.05 327.90h1.4v-0.80h-1.4zM305.97 327.90h1.4v-0.90h-1.4zM308.89 327.90h1.4v-0.80h-1.4zM311.81 327.90h1.4v-1.10h-1.4zM314.73 327.90h1.4v-0.80h-1.4zM317.65 327.90h1.4v-0.90h-1.4zM320.57 327.90h1.4v-0.80h-1.4zM323.50 327.90h1.4v-1.10h-1.4z" fill="#e9bcbc"/>
<text transform="translate(42.70,280.20) scale(0.91,1)" font-size="8.6" text-anchor="end" fill="#222" stroke="#222" stroke-width="0.15" font-weight="normal" >10.5</text>
<text transform="translate(42.70,304.70) scale(0.91,1)" font-size="8.6" text-anchor="end" fill="#222" stroke="#222" stroke-width="0.15" font-weight="normal" >5.3</text>
<text transform="translate(42.70,327.60) scale(0.91,1)" font-size="8.6" text-anchor="end" fill="#222" stroke="#222" stroke-width="0.15" font-weight="normal" >0</text>
<text transform="translate(47.40,283.20) scale(0.945,1)" font-size="8.5" text-anchor="start" fill="#222" stroke="#222" stroke-width="0.15" font-weight="normal" >Signature E</text>
<text transform="translate(101.30,283.20) scale(0.925,1)" font-size="8.5" text-anchor="start" fill="#222" stroke="#222" stroke-width="0.15" font-weight="normal" >Clock-like 100%</text>
<text transform="translate(318.70,283.20) scale(0.927,1)" font-size="8.5" text-anchor="end" fill="#222" stroke="#222" stroke-width="0.15" font-weight="normal" >Cosine similarity 0.95</text>
<rect x="45.7" y="333.30" width="280.1" height="53.70" fill="none" stroke="#3c3c3c" stroke-width="0.9"/>
<path d="M45.7 346.73h1.6M325.8 346.73h-1.6M45.7 360.15h1.6M325.8 360.15h-1.6M45.7 373.58h1.6M325.8 373.58h-1.6" stroke="#444" stroke-width="0.8"/>
<path d="M46.70 387.00v-0.8M49.62 387.00v-0.8M52.54 387.00v-0.8M55.46 387.00v-0.8M58.38 387.00v-0.8M61.30 387.00v-0.8M64.23 387.00v-0.8M67.15 387.00v-0.8M70.07 387.00v-0.8M72.99 387.00v-0.8M75.91 387.00v-0.8M78.83 387.00v-0.8M81.75 387.00v-0.8M84.67 387.00v-0.8M87.59 387.00v-0.8M90.52 387.00v-0.8M93.44 387.00v-0.8M96.36 387.00v-0.8M99.28 387.00v-0.8M102.20 387.00v-0.8M105.12 387.00v-0.8M108.04 387.00v-0.8M110.96 387.00v-0.8M113.88 387.00v-0.8M116.80 387.00v-0.8M119.72 387.00v-0.8M122.65 387.00v-0.8M125.57 387.00v-0.8M128.49 387.00v-0.8M131.41 387.00v-0.8M134.33 387.00v-0.8M137.25 387.00v-0.8M140.17 387.00v-0.8M143.09 387.00v-0.8M146.01 387.00v-0.8M148.94 387.00v-0.8M151.86 387.00v-0.8M154.78 387.00v-0.8M157.70 387.00v-0.8M160.62 387.00v-0.8M163.54 387.00v-0.8M166.46 387.00v-0.8M169.38 387.00v-0.8M172.30 387.00v-0.8M175.22 387.00v-0.8M178.14 387.00v-0.8M181.07 387.00v-0.8M183.99 387.00v-0.8M186.91 387.00v-0.8M189.83 387.00v-0.8M192.75 387.00v-0.8M195.67 387.00v-0.8M198.59 387.00v-0.8M201.51 387.00v-0.8M204.43 387.00v-0.8M207.36 387.00v-0.8M210.28 387.00v-0.8M213.20 387.00v-0.8M216.12 387.00v-0.8M219.04 387.00v-0.8M221.96 387.00v-0.8M224.88 387.00v-0.8M227.80 387.00v-0.8M230.72 387.00v-0.8M233.64 387.00v-0.8M236.56 387.00v-0.8M239.49 387.00v-0.8M242.41 387.00v-0.8M245.33 387.00v-0.8M248.25 387.00v-0.8M251.17 387.00v-0.8M254.09 387.00v-0.8M257.01 387.00v-0.8M259.93 387.00v-0.8M262.85 387.00v-0.8M265.77 387.00v-0.8M268.70 387.00v-0.8M271.62 387.00v-0.8M274.54 387.00v-0.8M277.46 387.00v-0.8M280.38 387.00v-0.8M283.30 387.00v-0.8M286.22 387.00v-0.8M289.14 387.00v-0.8M292.06 387.00v-0.8M294.99 387.00v-0.8M297.91 387.00v-0.8M300.83 387.00v-0.8M303.75 387.00v-0.8M306.67 387.00v-0.8M309.59 387.00v-0.8M312.51 387.00v-0.8M315.43 387.00v-0.8M318.35 387.00v-0.8M321.27 387.00v-0.8M324.19 387.00v-0.8" stroke="#777" stroke-width="0.6"/>
<path d="M46.00 387.30h1.4v-0.90h-1.4zM48.92 387.30h1.4v-0.60h-1.4zM51.84 387.30h1.4v-0.60h-1.4zM54.76 387.30h1.4v-0.80h-1.4zM57.68 387.30h1.4v-0.60h-1.4zM60.60 387.30h1.4v-0.60h-1.4zM63.53 387.30h1.4v-0.60h-1.4zM66.45 387.30h1.4v-0.90h-1.4zM69.37 387.30h1.4v-0.60h-1.4zM72.29 387.30h1.4v-0.60h-1.4zM75.21 387.30h1.4v-0.60h-1.4zM78.13 387.30h1.4v-0.80h-1.4zM81.05 387.30h1.4v-0.60h-1.4zM83.97 387.30h1.4v-0.60h-1.4zM86.89 387.30h1.4v-0.60h-1.4zM89.81 387.30h1.4v-0.90h-1.4z" fill="#1aa8dd"/>
<path d="M92.74 387.30h1.4v-0.60h-1.4zM95.66 387.30h1.4v-0.60h-1.4zM98.58 387.30h1.4v-0.60h-1.4zM101.50 387.30h1.4v-0.60h-1.4zM104.42 387.30h1.4v-0.60h-1.4zM107.34 387.30h1.4v-0.60h-1.4zM110.26 387.30h1.4v-0.60h-1.4zM113.18 387.30h1.4v-0.60h-1.4zM116.10 387.30h1.4v-0.60h-1.4zM119.02 387.30h1.4v-0.60h-1.4zM121.95 387.30h1.4v-0.60h-1.4zM124.87 387.30h1.4v-0.60h-1.4zM127.79 387.30h1.4v-0.60h-1.4zM130.71 387.30h1.4v-0.60h-1.4zM133.63 387.30h1.4v-0.60h-1.4zM136.55 387.30h1.4v-0.60h-1.4z" fill="#111111"/>
<path d="M139.47 387.30h1.4v-0.60h-1.4zM142.39 387.30h1.4v-2.60h-1.4zM145.31 387.30h1.4v-1.30h-1.4zM148.24 387.30h1.4v-1.70h-1.4zM151.16 387.30h1.4v-7.40h-1.4zM154.08 387.30h1.4v-11.60h-1.4zM157.00 387.30h1.4v-1.30h-1.4zM159.92 387.30h1.4v-9.90h-1.4zM162.84 387.30h1.4v-0.70h-1.4zM165.76 387.30h1.4v-1.70h-1.4zM168.68 387.30h1.4v-1.00h-1.4zM171.60 387.30h1.4v-2.10h-1.4zM174.52 387.30h1.4v-21.10h-1.4zM177.44 387.30h1.4v-41.30h-1.4zM180.37 387.30h1.4v-5.30h-1.4zM183.29 387.30h1.4v-16.00h-1.4z" fill="#d8231d"/>
<path d="M186.21 387.30h1.4v-0.60h-1.4zM189.13 387.30h1.4v-0.60h-1.4zM192.05 387.30h1.4v-0.60h-1.4zM194.97 387.30h1.4v-0.60h-1.4zM197.89 387.30h1.4v-0.60h-1.4zM200.81 387.30h1.4v-0.60h-1.4zM203.73 387.30h1.4v-0.60h-1.4zM206.66 387.30h1.4v-0.60h-1.4zM209.58 387.30h1.4v-0.60h-1.4zM212.50 387.30h1.4v-0.60h-1.4zM215.42 387.30h1.4v-0.60h-1.4zM218.34 387.30h1.4v-0.60h-1.4zM221.26 387.30h1.4v-0.60h-1.4zM224.18 387.30h1.4v-0.60h-1.4zM227.10 387.30h1.4v-0.60h-1.4zM230.02 387.30h1.4v-0.60h-1.4z" fill="#c4c2c3"/>
<path d="M232.94 387.30h1.4v-0.60h-1.4zM235.87 387.30h1.4v-0.60h-1.4zM238.79 387.30h1.4v-0.60h-1.4zM241.71 387.30h1.4v-0.60h-1.4zM244.63 387.30h1.4v-0.60h-1.4zM247.55 387.30h1.4v-0.60h-1.4zM250.47 387.30h1.4v-0.60h-1.4zM253.39 387.30h1.4v-0.60h-1.4zM256.31 387.30h1.4v-0.60h-1.4zM259.23 387.30h1.4v-0.60h-1.4zM262.15 387.30h1.4v-0.60h-1.4zM265.07 387.30h1.4v-0.60h-1.4zM268.00 387.30h1.4v-0.60h-1.4zM270.92 387.30h1.4v-0.60h-1.4zM273.84 387.30h1.4v-0.60h-1.4zM276.76 387.30h1.4v-0.60h-1.4z" fill="#8dc052"/>
<path d="M279.68 387.30h1.4v-0.60h-1.4zM282.60 387.30h1.4v-0.60h-1.4zM285.52 387.30h1.4v-0.60h-1.4zM288.44 387.30h1.4v-0.60h-1.4zM291.36 387.30h1.4v-0.60h-1.4zM294.29 387.30h1.4v-0.60h-1.4zM297.21 387.30h1.4v-0.60h-1.4zM300.13 387.30h1.4v-0.60h-1.4zM303.05 387.30h1.4v-0.60h-1.4zM305.97 387.30h1.4v-0.60h-1.4zM308.89 387.30h1.4v-0.60h-1.4zM311.81 387.30h1.4v-0.60h-1.4zM314.73 387.30h1.4v-0.60h-1.4zM317.65 387.30h1.4v-0.60h-1.4zM320.57 387.30h1.4v-0.60h-1.4zM323.50 387.30h1.4v-0.60h-1.4z" fill="#e9bcbc"/>
<text transform="translate(42.70,339.60) scale(0.91,1)" font-size="8.6" text-anchor="end" fill="#222" stroke="#222" stroke-width="0.15" font-weight="normal" >33.6</text>
<text transform="translate(42.70,364.10) scale(0.91,1)" font-size="8.6" text-anchor="end" fill="#222" stroke="#222" stroke-width="0.15" font-weight="normal" >16.8</text>
<text transform="translate(42.70,387.00) scale(0.91,1)" font-size="8.6" text-anchor="end" fill="#222" stroke="#222" stroke-width="0.15" font-weight="normal" >0</text>
<text transform="translate(47.40,342.60) scale(0.945,1)" font-size="8.5" text-anchor="start" fill="#222" stroke="#222" stroke-width="0.15" font-weight="normal" >Signature F</text>
<text transform="translate(101.30,342.60) scale(0.925,1)" font-size="8.5" text-anchor="start" fill="#222" stroke="#222" stroke-width="0.15" font-weight="normal" >Ultraviolet 100%</text>
<text transform="translate(318.70,342.60) scale(0.927,1)" font-size="8.5" text-anchor="end" fill="#222" stroke="#222" stroke-width="0.15" font-weight="normal" >Cosine similarity 0.99</text>
<rect x="45.7" y="392.60" width="280.1" height="53.70" fill="none" stroke="#3c3c3c" stroke-width="0.9"/>
<path d="M45.7 406.03h1.6M325.8 406.03h-1.6M45.7 419.45h1.6M325.8 419.45h-1.6M45.7 432.88h1.6M325.8 432.88h-1.6" stroke="#444" stroke-width="0.8"/>
<path d="M46.70 446.30v-0.8M49.62 446.30v-0.8M52.54 446.30v-0.8M55.46 446.30v-0.8M58.38 446.30v-0.8M61.30 446.30v-0.8M64.23 446.30v-0.8M67.15 446.30v-0.8M70.07 446.30v-0.8M72.99 446.30v-0.8M75.91 446.30v-0.8M78.83 446.30v-0.8M81.75 446.30v-0.8M84.67 446.30v-0.8M87.59 446.30v-0.8M90.52 446.30v-0.8M93.44 446.30v-0.8M96.36 446.30v-0.8M99.28 446.30v-0.8M102.20 446.30v-0.8M105.12 446.30v-0.8M108.04 446.30v-0.8M110.96 446.30v-0.8M113.88 446.30v-0.8M116.80 446.30v-0.8M119.72 446.30v-0.8M122.65 446.30v-0.8M125.57 446.30v-0.8M128.49 446.30v-0.8M131.41 446.30v-0.8M134.33 446.30v-0.8M137.25 446.30v-0.8M140.17 446.30v-0.8M143.09 446.30v-0.8M146.01 446.30v-0.8M148.94 446.30v-0.8M151.86 446.30v-0.8M154.78 446.30v-0.8M157.70 446.30v-0.8M160.62 446.30v-0.8M163.54 446.30v-0.8M166.46 446.30v-0.8M169.38 446.30v-0.8M172.30 446.30v-0.8M175.22 446.30v-0.8M178.14 446.30v-0.8M181.07 446.30v-0.8M183.99 446.30v-0.8M186.91 446.30v-0.8M189.83 446.30v-0.8M192.75 446.30v-0.8M195.67 446.30v-0.8M198.59 446.30v-0.8M201.51 446.30v-0.8M204.43 446.30v-0.8M207.36 446.30v-0.8M210.28 446.30v-0.8M213.20 446.30v-0.8M216.12 446.30v-0.8M219.04 446.30v-0.8M221.96 446.30v-0.8M224.88 446.30v-0.8M227.80 446.30v-0.8M230.72 446.30v-0.8M233.64 446.30v-0.8M236.56 446.30v-0.8M239.49 446.30v-0.8M242.41 446.30v-0.8M245.33 446.30v-0.8M248.25 446.30v-0.8M251.17 446.30v-0.8M254.09 446.30v-0.8M257.01 446.30v-0.8M259.93 446.30v-0.8M262.85 446.30v-0.8M265.77 446.30v-0.8M268.70 446.30v-0.8M271.62 446.30v-0.8M274.54 446.30v-0.8M277.46 446.30v-0.8M280.38 446.30v-0.8M283.30 446.30v-0.8M286.22 446.30v-0.8M289.14 446.30v-0.8M292.06 446.30v-0.8M294.99 446.30v-0.8M297.91 446.30v-0.8M300.83 446.30v-0.8M303.75 446.30v-0.8M306.67 446.30v-0.8M309.59 446.30v-0.8M312.51 446.30v-0.8M315.43 446.30v-0.8M318.35 446.30v-0.8M321.27 446.30v-0.8M324.19 446.30v-0.8" stroke="#777" stroke-width="0.6"/>
<path d="M46.00 446.60h1.4v-14.40h-1.4zM48.92 446.60h1.4v-7.40h-1.4zM51.84 446.60h1.4v-1.30h-1.4zM54.76 446.60h1.4v-7.40h-1.4zM57.68 446.60h1.4v-10.80h-1.4zM60.60 446.60h1.4v-6.20h-1.4zM63.53 446.60h1.4v-1.30h-1.4zM66.45 446.60h1.4v-11.00h-1.4zM69.37 446.60h1.4v-7.10h-1.4zM72.29 446.60h1.4v-7.50h-1.4zM75.21 446.60h1.4v-1.00h-1.4zM78.13 446.60h1.4v-6.40h-1.4zM81.05 446.60h1.4v-18.10h-1.4zM83.97 446.60h1.4v-7.10h-1.4zM86.89 446.60h1.4v-0.70h-1.4zM89.81 446.60h1.4v-26.90h-1.4z" fill="#1aa8dd"/>
<path d="M92.74 446.60h1.4v-9.50h-1.4zM95.66 446.60h1.4v-4.40h-1.4zM98.58 446.60h1.4v-1.30h-1.4zM101.50 446.60h1.4v-10.30h-1.4zM104.42 446.60h1.4v-3.70h-1.4zM107.34 446.60h1.4v-5.30h-1.4zM110.26 446.60h1.4v-1.30h-1.4zM113.18 446.60h1.4v-7.10h-1.4zM116.10 446.60h1.4v-3.40h-1.4zM119.02 446.60h1.4v-5.10h-1.4zM121.95 446.60h1.4v-0.70h-1.4zM124.87 446.60h1.4v-8.90h-1.4zM127.79 446.60h1.4v-7.10h-1.4zM130.71 446.60h1.4v-4.40h-1.4zM133.63 446.60h1.4v-0.70h-1.4zM136.55 446.60h1.4v-18.10h-1.4z" fill="#111111"/>
<path d="M139.47 446.60h1.4v-13.30h-1.4zM142.39 446.60h1.4v-8.10h-1.4zM145.31 446.60h1.4v-6.20h-1.4zM148.24 446.60h1.4v-10.80h-1.4zM151.16 446.60h1.4v-11.20h-1.4zM154.08 446.60h1.4v-9.20h-1.4zM157.00 446.60h1.4v-5.80h-1.4zM159.92 446.60h1.4v-12.20h-1.4zM162.84 446.60h1.4v-12.20h-1.4zM165.76 446.60h1.4v-13.30h-1.4zM168.68 446.60h1.4v-8.90h-1.4zM171.60 446.60h1.4v-15.30h-1.4zM174.52 446.60h1.4v-13.00h-1.4zM177.44 446.60h1.4v-9.20h-1.4zM180.37 446.60h1.4v-4.00h-1.4zM183.29 446.60h1.4v-19.00h-1.4z" fill="#d8231d"/>
<path d="M186.21 446.60h1.4v-26.50h-1.4zM189.13 446.60h1.4v-8.90h-1.4zM192.05 446.60h1.4v-8.90h-1.4zM194.97 446.60h1.4v-23.10h-1.4zM197.89 446.60h1.4v-7.80h-1.4zM200.81 446.60h1.4v-2.60h-1.4zM203.73 446.60h1.4v-8.10h-1.4zM206.66 446.60h1.4v-8.10h-1.4zM209.58 446.60h1.4v-7.80h-1.4zM212.50 446.60h1.4v-4.80h-1.4zM215.42 446.60h1.4v-4.40h-1.4zM218.34 446.60h1.4v-5.10h-1.4zM221.26 446.60h1.4v-20.80h-1.4zM224.18 446.60h1.4v-4.80h-1.4zM227.10 446.60h1.4v-10.30h-1.4zM230.02 446.60h1.4v-17.60h-1.4z" fill="#c4c2c3"/>
<path d="M232.94 446.60h1.4v-39.90h-1.4zM235.87 446.60h1.4v-13.60h-1.4zM238.79 446.60h1.4v-18.10h-1.4zM241.71 446.60h1.4v-36.20h-1.4zM244.63 446.60h1.4v-14.40h-1.4zM247.55 446.60h1.4v-6.20h-1.4zM250.47 446.60h1.4v-9.20h-1.4zM253.39 446.60h1.4v-10.80h-1.4zM256.31 446.60h1.4v-18.70h-1.4zM259.23 446.60h1.4v-20.40h-1.4zM262.15 446.60h1.4v-12.50h-1.4zM265.07 446.60h1.4v-18.70h-1.4zM268.00 446.60h1.4v-25.00h-1.4zM270.92 446.60h1.4v-22.90h-1.4zM273.84 446.60h1.4v-11.80h-1.4zM276.76 446.60h1.4v-36.30h-1.4z" fill="#8dc052"/>
<path d="M279.68 446.60h1.4v-34.00h-1.4zM282.60 446.60h1.4v-8.60h-1.4zM285.52 446.60h1.4v-8.10h-1.4zM288.44 446.60h1.4v-13.90h-1.4zM291.36 446.60h1.4v-18.00h-1.4zM294.29 446.60h1.4v-5.30h-1.4zM297.21 446.60h1.4v-12.20h-1.4zM300.13 446.60h1.4v-18.00h-1.4zM303.05 446.60h1.4v-11.10h-1.4zM305.97 446.60h1.4v-6.70h-1.4zM308.89 446.60h1.4v-7.20h-1.4zM311.81 446.60h1.4v-30.80h-1.4zM314.73 446.60h1.4v-40.90h-1.4zM317.65 446.60h1.4v-8.10h-1.4zM320.57 446.60h1.4v-10.00h-1.4zM323.50 446.60h1.4v-40.90h-1.4z" fill="#e9bcbc"/>
<text transform="translate(42.70,398.90) scale(0.91,1)" font-size="8.6" text-anchor="end" fill="#222" stroke="#222" stroke-width="0.15" font-weight="normal" >4.5</text>
<text transform="translate(42.70,424.60) scale(0.91,1)" font-size="8.6" text-anchor="end" fill="#222" stroke="#222" stroke-width="0.15" font-weight="normal" >2.5</text>
<text transform="translate(42.70,446.30) scale(0.91,1)" font-size="8.6" text-anchor="end" fill="#222" stroke="#222" stroke-width="0.15" font-weight="normal" >0</text>
<text transform="translate(47.40,401.90) scale(0.945,1)" font-size="8.5" text-anchor="start" fill="#222" stroke="#222" stroke-width="0.15" font-weight="normal" >Signature G</text>
<text transform="translate(101.30,401.90) scale(0.925,1)" font-size="8.5" text-anchor="start" fill="#222" stroke="#222" stroke-width="0.15" font-weight="normal" >Polη 54.5%</text>
<text transform="translate(101.30,412.10) scale(0.925,1)" font-size="8.5" text-anchor="start" fill="#222" stroke="#222" stroke-width="0.15" font-weight="normal" >Clock-like 45.5%</text>
<text transform="translate(318.70,401.90) scale(0.927,1)" font-size="8.5" text-anchor="end" fill="#222" stroke="#222" stroke-width="0.15" font-weight="normal" >Cosine similarity 0.94</text>
<text transform="translate(21.4,243.7) rotate(-90)" font-size="9.6" text-anchor="middle" fill="#222" stroke="#222" stroke-width="0.25" textLength="77" lengthAdjust="spacingAndGlyphs">Fraction of mutations (%)</text>
<text transform="translate(338.80,15.00) scale(1.15,1)" font-size="10.6" text-anchor="start" fill="#000" font-weight="bold" >B</text>
<text x="364.40" y="29.50" font-size="8.3" text-anchor="end" fill="#222" stroke="#222" stroke-width="0.15" font-weight="normal" >chr1</text>
<rect x="368.10" y="24.00" width="145.81" height="3.8" rx="1.4" fill="#fff"/>
<rect x="368.10" y="24.00" width="1.50" height="3.80" fill="#b9a3c3" stroke="#707070" stroke-width="0.45"/>
<rect x="369.60" y="24.00" width="2.20" height="3.80" fill="#9466a6" stroke="#707070" stroke-width="0.45"/>
<rect x="371.80" y="24.00" width="1.70" height="3.80" fill="#b9a3c3" stroke="#707070" stroke-width="0.45"/>
<rect x="375.20" y="24.00" width="2.30" height="3.80" fill="#9466a6" stroke="#707070" stroke-width="0.45"/>
<rect x="377.50" y="24.00" width="0.80" height="3.80" fill="#b9a3c3" stroke="#707070" stroke-width="0.45"/>
<rect x="379.80" y="24.00" width="2.70" height="3.80" fill="#9466a6" stroke="#707070" stroke-width="0.45"/>
<rect x="382.50" y="24.00" width="1.20" height="3.80" fill="#b9a3c3" stroke="#707070" stroke-width="0.45"/>
<rect x="384.80" y="24.00" width="2.40" height="3.80" fill="#9466a6" stroke="#707070" stroke-width="0.45"/>
<rect x="387.20" y="24.00" width="1.30" height="3.80" fill="#b9a3c3" stroke="#707070" stroke-width="0.45"/>
<rect x="390.60" y="24.00" width="0.80" height="3.80" fill="#b9a3c3" stroke="#707070" stroke-width="0.45"/>
<rect x="391.40" y="24.00" width="2.30" height="3.80" fill="#9466a6" stroke="#707070" stroke-width="0.45"/>
<rect x="393.70" y="24.00" width="1.50" height="3.80" fill="#b9a3c3" stroke="#707070" stroke-width="0.45"/>
<rect x="395.60" y="24.00" width="2.30" height="3.80" fill="#46105f" stroke="#707070" stroke-width="0.45"/>
<rect x="400.60" y="24.00" width="1.90" height="3.80" fill="#9466a6" stroke="#707070" stroke-width="0.45"/>
<rect x="402.50" y="24.00" width="1.50" height="3.80" fill="#b9a3c3" stroke="#707070" stroke-width="0.45"/>
<rect x="404.00" y="24.00" width="2.00" height="3.80" fill="#9466a6" stroke="#707070" stroke-width="0.45"/>
<rect x="406.00" y="24.00" width="1.80" height="3.80" fill="#b9a3c3" stroke="#707070" stroke-width="0.45"/>
<rect x="408.60" y="24.00" width="8.90" height="3.80" fill="#1a5694" stroke="#707070" stroke-width="0.45"/>
<rect x="419.40" y="24.00" width="2.60" height="3.80" fill="#46105f" stroke="#707070" stroke-width="0.45"/>
<rect x="423.60" y="24.00" width="2.70" height="3.80" fill="#46105f" stroke="#707070" stroke-width="0.45"/>
<rect x="427.90" y="24.00" width="2.90" height="3.80" fill="#1a5694" stroke="#707070" stroke-width="0.45"/>
<rect x="433.30" y="24.00" width="2.90" height="3.80" fill="#9466a6" stroke="#707070" stroke-width="0.45"/>
<rect x="436.80" y="24.00" width="1.90" height="3.80" fill="#6b3685" stroke="#707070" stroke-width="0.45"/>
<rect x="438.70" y="24.00" width="2.50" height="3.80" fill="#22b53c" stroke="#707070" stroke-width="0.45"/>
<rect x="441.20" y="24.00" width="2.50" height="3.80" fill="#22b53c" stroke="#707070" stroke-width="0.45"/>
<rect x="443.70" y="24.00" width="7.50" height="3.80" fill="#eedcf3" stroke="#707070" stroke-width="0.45"/>
<rect x="453.50" y="24.00" width="3.10" height="3.80" fill="#9466a6" stroke="#707070" stroke-width="0.45"/>
<rect x="457.80" y="24.00" width="2.70" height="3.80" fill="#6b3685" stroke="#707070" stroke-width="0.45"/>
<rect x="461.60" y="24.00" width="1.60" height="3.80" fill="#6b3685" stroke="#707070" stroke-width="0.45"/>
<rect x="465.80" y="24.00" width="1.60" height="3.80" fill="#6b3685" stroke="#707070" stroke-width="0.45"/>
<rect x="467.40" y="24.00" width="1.90" height="3.80" fill="#46105f" stroke="#707070" stroke-width="0.45"/>
<rect x="470.80" y="24.00" width="2.70" height="3.80" fill="#9466a6" stroke="#707070" stroke-width="0.45"/>
<rect x="476.20" y="24.00" width="3.30" height="3.80" fill="#1a5694" stroke="#707070" stroke-width="0.45"/>
<rect x="481.00" y="24.00" width="2.80" height="3.80" fill="#1a5694" stroke="#707070" stroke-width="0.45"/>
<rect x="488.80" y="24.00" width="2.70" height="3.80" fill="#9466a6" stroke="#707070" stroke-width="0.45"/>
<rect x="493.00" y="24.00" width="5.80" height="3.80" fill="#1a5694" stroke="#707070" stroke-width="0.45"/>
<rect x="498.80" y="24.00" width="1.90" height="3.80" fill="#6b3685" stroke="#707070" stroke-width="0.45"/>
<rect x="502.60" y="24.00" width="2.70" height="3.80" fill="#9466a6" stroke="#707070" stroke-width="0.45"/>
<rect x="506.00" y="24.00" width="4.30" height="3.80" fill="#46105f" stroke="#707070" stroke-width="0.45"/>
<rect x="368.10" y="24.00" width="145.81" height="3.8" rx="1.4" fill="none" stroke="#4a4a4a" stroke-width="0.7"/>
<line x1="368.40" y1="24.00" x2="368.40" y2="30.00" stroke="#555" stroke-width="0.7" />
<line x1="375.80" y1="17.50" x2="375.80" y2="22.30" stroke="#5e8fc2" stroke-width="1.05" />
<line x1="410.20" y1="17.50" x2="410.20" y2="22.30" stroke="#5e8fc2" stroke-width="1.05" />
<line x1="429.50" y1="17.50" x2="429.50" y2="22.30" stroke="#5e8fc2" stroke-width="1.05" />
<line x1="437.00" y1="17.50" x2="437.00" y2="22.30" stroke="#5e8fc2" stroke-width="1.05" />
<line x1="459.80" y1="17.50" x2="459.80" y2="22.30" stroke="#5e8fc2" stroke-width="1.05" />
<line x1="469.80" y1="17.50" x2="469.80" y2="22.30" stroke="#5e8fc2" stroke-width="1.05" />
<line x1="426.60" y1="27.80" x2="426.60" y2="29.90" stroke="#666" stroke-width="0.6" />
<line x1="485.10" y1="27.80" x2="485.10" y2="29.90" stroke="#666" stroke-width="0.6" />
<text x="364.40" y="49.24" font-size="8.3" text-anchor="end" fill="#222" stroke="#222" stroke-width="0.15" font-weight="normal" >chr2</text>
<rect x="368.10" y="43.74" width="142.27" height="3.8" rx="1.4" fill="#fff"/>
<rect x="370.00" y="43.74" width="2.50" height="3.80" fill="#9466a6" stroke="#707070" stroke-width="0.45"/>
<rect x="375.00" y="43.74" width="3.00" height="3.80" fill="#46105f" stroke="#707070" stroke-width="0.45"/>
<rect x="379.50" y="43.74" width="3.00" height="3.80" fill="#46105f" stroke="#707070" stroke-width="0.45"/>
<rect x="384.00" y="43.74" width="2.00" height="3.80" fill="#9466a6" stroke="#707070" stroke-width="0.45"/>
<rect x="386.00" y="43.74" width="4.00" height="3.80" fill="#46105f" stroke="#707070" stroke-width="0.45"/>
<rect x="391.50" y="43.74" width="2.00" height="3.80" fill="#9466a6" stroke="#707070" stroke-width="0.45"/>
<rect x="396.00" y="43.74" width="3.00" height="3.80" fill="#1a5694" stroke="#707070" stroke-width="0.45"/>
<rect x="400.50" y="43.74" width="3.50" height="3.80" fill="#1a5694" stroke="#707070" stroke-width="0.45"/>
<rect x="405.50" y="43.74" width="3.00" height="3.80" fill="#b9a3c3" stroke="#707070" stroke-width="0.45"/>
<rect x="410.00" y="43.74" width="1.50" height="3.80" fill="#6b3685" stroke="#707070" stroke-width="0.45"/>
<rect x="411.50" y="43.74" width="5.50" height="3.80" fill="#1a5694" stroke="#707070" stroke-width="0.45"/>
<rect x="420.50" y="43.74" width="2.00" height="3.80" fill="#22b53c" stroke="#707070" stroke-width="0.45"/>
<rect x="422.50" y="43.74" width="2.00" height="3.80" fill="#22b53c" stroke="#707070" stroke-width="0.45"/>
<rect x="428.00" y="43.74" width="4.50" height="3.80" fill="#9466a6" stroke="#707070" stroke-width="0.45"/>
<rect x="434.50" y="43.74" width="3.00" height="3.80" fill="#9466a6" stroke="#707070" stroke-width="0.45"/>
<rect x="439.50" y="43.74" width="4.50" height="3.80" fill="#b9a3c3" stroke="#707070" stroke-width="0.45"/>
<rect x="446.00" y="43.74" width="1.50" height="3.80" fill="#9466a6" stroke="#707070" stroke-width="0.45"/>
<rect x="447.50" y="43.74" width="3.50" height="3.80" fill="#1a5694" stroke="#707070" stroke-width="0.45"/>
<rect x="452.00" y="43.74" width="3.50" height="3.80" fill="#1a5694" stroke="#707070" stroke-width="0.45"/>
<rect x="458.00" y="43.74" width="3.50" height="3.80" fill="#46105f" stroke="#707070" stroke-width="0.45"/>
<rect x="463.50" y="43.74" width="3.50" height="3.80" fill="#46105f" stroke="#707070" stroke-width="0.45"/>
<rect x="471.50" y="43.74" width="2.50" height="3.80" fill="#9466a6" stroke="#707070" stroke-width="0.45"/>
<rect x="475.00" y="43.74" width="3.50" height="3.80" fill="#46105f" stroke="#707070" stroke-width="0.45"/>
<rect x="480.50" y="43.74" width="3.00" height="3.80" fill="#46105f" stroke="#707070" stroke-width="0.45"/>
<rect x="486.00" y="43.74" width="1.50" height="3.80" fill="#46105f" stroke="#707070" stroke-width="0.45"/>
<rect x="490.00" y="43.74" width="4.00" height="3.80" fill="#1a5694" stroke="#707070" stroke-width="0.45"/>
<rect x="497.00" y="43.74" width="3.00" height="3.80" fill="#46105f" stroke="#707070" stroke-width="0.45"/>
<rect x="500.00" y="43.74" width="2.00" height="3.80" fill="#1a5694" stroke="#707070" stroke-width="0.45"/>
<rect x="503.50" y="43.74" width="2.50" height="3.80" fill="#6b3685" stroke="#707070" stroke-width="0.45"/>
<rect x="368.10" y="43.74" width="142.27" height="3.8" rx="1.4" fill="none" stroke="#4a4a4a" stroke-width="0.7"/>
<line x1="368.40" y1="43.74" x2="368.40" y2="49.74" stroke="#555" stroke-width="0.7" />
<line x1="416.50" y1="37.24" x2="416.50" y2="42.04" stroke="#5e8fc2" stroke-width="1.05" />
<line x1="420.20" y1="37.24" x2="420.20" y2="42.04" stroke="#e8758b" stroke-width="1.05" />
<line x1="422.30" y1="37.24" x2="422.30" y2="42.04" stroke="#5e8fc2" stroke-width="1.05" />
<line x1="467.50" y1="37.24" x2="467.50" y2="42.04" stroke="#5e8fc2" stroke-width="1.05" />
<line x1="470.80" y1="37.24" x2="470.80" y2="42.04" stroke="#5e8fc2" stroke-width="1.05" />
<line x1="481.30" y1="37.24" x2="481.30" y2="42.04" stroke="#5e8fc2" stroke-width="1.05" />
<line x1="482.20" y1="37.24" x2="482.20" y2="42.04" stroke="#5e8fc2" stroke-width="1.05" />
<line x1="491.20" y1="37.24" x2="491.20" y2="42.04" stroke="#5e8fc2" stroke-width="1.05" />
<line x1="492.60" y1="37.24" x2="492.60" y2="42.04" stroke="#5e8fc2" stroke-width="1.05" />
<line x1="506.00" y1="37.24" x2="506.00" y2="42.04" stroke="#5e8fc2" stroke-width="1.05" />
<line x1="509.00" y1="37.24" x2="509.00" y2="42.04" stroke="#5e8fc2" stroke-width="1.05" />
<line x1="426.60" y1="47.54" x2="426.60" y2="49.64" stroke="#666" stroke-width="0.6" />
<line x1="485.10" y1="47.54" x2="485.10" y2="49.64" stroke="#666" stroke-width="0.6" />
<text x="364.40" y="68.98" font-size="8.3" text-anchor="end" fill="#222" stroke="#222" stroke-width="0.15" font-weight="normal" >chr3</text>
<rect x="368.10" y="63.48" width="115.83" height="3.8" rx="1.4" fill="#fff"/>
<rect x="368.20" y="63.48" width="1.80" height="3.80" fill="#b9a3c3" stroke="#707070" stroke-width="0.45"/>
<rect x="370.00" y="63.48" width="2.50" height="3.80" fill="#9466a6" stroke="#707070" stroke-width="0.45"/>
<rect x="373.50" y="63.48" width="2.00" height="3.80" fill="#b9a3c3" stroke="#707070" stroke-width="0.45"/>
<rect x="377.50" y="63.48" width="4.00" height="3.80" fill="#1a5694" stroke="#707070" stroke-width="0.45"/>
<rect x="384.00" y="63.48" width="3.50" height="3.80" fill="#46105f" stroke="#707070" stroke-width="0.45"/>
<rect x="387.50" y="63.48" width="3.00" height="3.80" fill="#9466a6" stroke="#707070" stroke-width="0.45"/>
<rect x="391.50" y="63.48" width="2.50" height="3.80" fill="#46105f" stroke="#707070" stroke-width="0.45"/>
<rect x="397.00" y="63.48" width="2.00" height="3.80" fill="#b9a3c3" stroke="#707070" stroke-width="0.45"/>
<rect x="399.00" y="63.48" width="1.50" height="3.80" fill="#9466a6" stroke="#707070" stroke-width="0.45"/>
<rect x="403.50" y="63.48" width="2.50" height="3.80" fill="#9466a6" stroke="#707070" stroke-width="0.45"/>
<rect x="406.00" y="63.48" width="2.00" height="3.80" fill="#b9a3c3" stroke="#707070" stroke-width="0.45"/>
<rect x="411.50" y="63.48" width="3.50" height="3.80" fill="#46105f" stroke="#707070" stroke-width="0.45"/>
<rect x="416.00" y="63.48" width="2.80" height="3.80" fill="#46105f" stroke="#707070" stroke-width="0.45"/>
<rect x="418.80" y="63.48" width="2.05" height="3.80" fill="#22b53c" stroke="#707070" stroke-width="0.45"/>
<rect x="420.85" y="63.48" width="2.05" height="3.80" fill="#22b53c" stroke="#707070" stroke-width="0.45"/>
<rect x="425.00" y="63.48" width="2.80" height="3.80" fill="#46105f" stroke="#707070" stroke-width="0.45"/>
<rect x="427.80" y="63.48" width="3.40" height="3.80" fill="#9466a6" stroke="#707070" stroke-width="0.45"/>
<rect x="434.00" y="63.48" width="2.80" height="3.80" fill="#46105f" stroke="#707070" stroke-width="0.45"/>
<rect x="436.80" y="63.48" width="2.10" height="3.80" fill="#9466a6" stroke="#707070" stroke-width="0.45"/>
<rect x="438.90" y="63.48" width="2.70" height="3.80" fill="#46105f" stroke="#707070" stroke-width="0.45"/>
<rect x="443.00" y="63.48" width="6.20" height="3.80" fill="#b9a3c3" stroke="#707070" stroke-width="0.45"/>
<rect x="451.30" y="63.48" width="3.50" height="3.80" fill="#1a5694" stroke="#707070" stroke-width="0.45"/>
<rect x="456.90" y="63.48" width="4.80" height="3.80" fill="#6b3685" stroke="#707070" stroke-width="0.45"/>
<rect x="461.70" y="63.48" width="4.20" height="3.80" fill="#1a5694" stroke="#707070" stroke-width="0.45"/>
<rect x="467.50" y="63.48" width="3.20" height="3.80" fill="#46105f" stroke="#707070" stroke-width="0.45"/>
<rect x="472.00" y="63.48" width="2.20" height="3.80" fill="#46105f" stroke="#707070" stroke-width="0.45"/>
<rect x="474.20" y="63.48" width="1.30" height="3.80" fill="#9466a6" stroke="#707070" stroke-width="0.45"/>
<rect x="477.00" y="63.48" width="3.40" height="3.80" fill="#46105f" stroke="#707070" stroke-width="0.45"/>
<rect x="368.10" y="63.48" width="115.83" height="3.8" rx="1.4" fill="none" stroke="#4a4a4a" stroke-width="0.7"/>
<line x1="368.40" y1="63.48" x2="368.40" y2="69.48" stroke="#555" stroke-width="0.7" />
<line x1="387.50" y1="56.98" x2="387.50" y2="61.78" stroke="#5e8fc2" stroke-width="1.05" />
<line x1="415.00" y1="56.98" x2="415.00" y2="61.78" stroke="#5e8fc2" stroke-width="1.05" />
<line x1="429.40" y1="56.98" x2="429.40" y2="61.78" stroke="#5e8fc2" stroke-width="1.05" />
<line x1="445.50" y1="56.98" x2="445.50" y2="61.78" stroke="#5e8fc2" stroke-width="1.05" />
<line x1="449.20" y1="56.98" x2="449.20" y2="61.78" stroke="#5e8fc2" stroke-width="1.05" />
<line x1="426.60" y1="67.28" x2="426.60" y2="69.38" stroke="#666" stroke-width="0.6" />
<text x="364.40" y="88.72" font-size="8.3" text-anchor="end" fill="#222" stroke="#222" stroke-width="0.15" font-weight="normal" >chr4</text>
<rect x="368.10" y="83.22" width="111.82" height="3.8" rx="1.4" fill="#fff"/>
<rect x="369.50" y="83.22" width="1.70" height="3.80" fill="#46105f" stroke="#707070" stroke-width="0.45"/>
<rect x="375.20" y="83.22" width="2.90" height="3.80" fill="#b9a3c3" stroke="#707070" stroke-width="0.45"/>
<rect x="379.30" y="83.22" width="1.70" height="3.80" fill="#46105f" stroke="#707070" stroke-width="0.45"/>
<rect x="384.50" y="83.22" width="4.00" height="3.80" fill="#1a5694" stroke="#707070" stroke-width="0.45"/>
<rect x="392.00" y="83.22" width="2.80" height="3.80" fill="#9466a6" stroke="#707070" stroke-width="0.45"/>
<rect x="396.20" y="83.22" width="1.35" height="3.80" fill="#22b53c" stroke="#707070" stroke-width="0.45"/>
<rect x="397.55" y="83.22" width="1.35" height="3.80" fill="#22b53c" stroke="#707070" stroke-width="0.45"/>
<rect x="402.90" y="83.22" width="4.10" height="3.80" fill="#1a5694" stroke="#707070" stroke-width="0.45"/>
<rect x="409.30" y="83.22" width="3.40" height="3.80" fill="#46105f" stroke="#707070" stroke-width="0.45"/>
<rect x="414.40" y="83.22" width="4.10" height="3.80" fill="#b9a3c3" stroke="#707070" stroke-width="0.45"/>
<rect x="420.20" y="83.22" width="5.50" height="3.80" fill="#46105f" stroke="#707070" stroke-width="0.45"/>
<rect x="426.90" y="83.22" width="4.00" height="3.80" fill="#b9a3c3" stroke="#707070" stroke-width="0.45"/>
<rect x="434.40" y="83.22" width="3.40" height="3.80" fill="#46105f" stroke="#707070" stroke-width="0.45"/>
<rect x="440.10" y="83.22" width="4.10" height="3.80" fill="#b9a3c3" stroke="#707070" stroke-width="0.45"/>
<rect x="445.30" y="83.22" width="4.10" height="3.80" fill="#1a5694" stroke="#707070" stroke-width="0.45"/>
<rect x="451.10" y="83.22" width="2.90" height="3.80" fill="#9466a6" stroke="#707070" stroke-width="0.45"/>
<rect x="454.00" y="83.22" width="1.70" height="3.80" fill="#b9a3c3" stroke="#707070" stroke-width="0.45"/>
<rect x="458.60" y="83.22" width="3.50" height="3.80" fill="#1a5694" stroke="#707070" stroke-width="0.45"/>
<rect x="463.80" y="83.22" width="4.00" height="3.80" fill="#1a5694" stroke="#707070" stroke-width="0.45"/>
<rect x="467.80" y="83.22" width="2.30" height="3.80" fill="#46105f" stroke="#707070" stroke-width="0.45"/>
<rect x="471.90" y="83.22" width="2.80" height="3.80" fill="#1a5694" stroke="#707070" stroke-width="0.45"/>
<rect x="476.50" y="83.22" width="1.50" height="3.80" fill="#9466a6" stroke="#707070" stroke-width="0.45"/>
<rect x="368.10" y="83.22" width="111.82" height="3.8" rx="1.4" fill="none" stroke="#4a4a4a" stroke-width="0.7"/>
<line x1="368.40" y1="83.22" x2="368.40" y2="89.22" stroke="#555" stroke-width="0.7" />
<line x1="396.90" y1="76.72" x2="396.90" y2="81.52" stroke="#5e8fc2" stroke-width="1.05" />
<line x1="406.40" y1="76.72" x2="406.40" y2="81.52" stroke="#5e8fc2" stroke-width="1.05" />
<line x1="431.20" y1="76.72" x2="431.20" y2="81.52" stroke="#5e8fc2" stroke-width="1.05" />
<line x1="446.30" y1="76.72" x2="446.30" y2="81.52" stroke="#5e8fc2" stroke-width="1.05" />
<line x1="455.70" y1="76.72" x2="455.70" y2="81.52" stroke="#5e8fc2" stroke-width="1.05" />
<line x1="460.70" y1="76.72" x2="460.70" y2="81.52" stroke="#5e8fc2" stroke-width="1.05" />
<line x1="466.40" y1="76.72" x2="466.40" y2="81.52" stroke="#5e8fc2" stroke-width="1.05" />
<line x1="469.20" y1="76.72" x2="469.20" y2="81.52" stroke="#5e8fc2" stroke-width="1.05" />
<line x1="473.60" y1="76.72" x2="473.60" y2="81.52" stroke="#5e8fc2" stroke-width="1.05" />
<line x1="426.60" y1="87.02" x2="426.60" y2="89.12" stroke="#666" stroke-width="0.6" />
<text x="364.40" y="108.46" font-size="8.3" text-anchor="end" fill="#222" stroke="#222" stroke-width="0.15" font-weight="normal" >chr5</text>
<rect x="368.10" y="102.96" width="105.83" height="3.8" rx="1.4" fill="#fff"/>
<rect x="370.00" y="102.96" width="1.20" height="3.80" fill="#6b3685" stroke="#707070" stroke-width="0.45"/>
<rect x="372.90" y="102.96" width="4.60" height="3.80" fill="#9466a6" stroke="#707070" stroke-width="0.45"/>
<rect x="379.30" y="102.96" width="5.70" height="3.80" fill="#1a5694" stroke="#707070" stroke-width="0.45"/>
<rect x="387.30" y="102.96" width="2.90" height="3.80" fill="#9466a6" stroke="#707070" stroke-width="0.45"/>
<rect x="393.10" y="102.96" width="1.70" height="3.80" fill="#9466a6" stroke="#707070" stroke-width="0.45"/>
<rect x="394.80" y="102.96" width="1.45" height="3.80" fill="#22b53c" stroke="#707070" stroke-width="0.45"/>
<rect x="396.25" y="102.96" width="1.45" height="3.80" fill="#22b53c" stroke="#707070" stroke-width="0.45"/>
<rect x="401.80" y="102.96" width="4.00" height="3.80" fill="#46105f" stroke="#707070" stroke-width="0.45"/>
<rect x="405.80" y="102.96" width="2.90" height="3.80" fill="#9466a6" stroke="#707070" stroke-width="0.45"/>
<rect x="408.70" y="102.96" width="1.70" height="3.80" fill="#b9a3c3" stroke="#707070" stroke-width="0.45"/>
<rect x="412.70" y="102.96" width="2.90" height="3.80" fill="#9466a6" stroke="#707070" stroke-width="0.45"/>
<rect x="416.70" y="102.96" width="5.00" height="3.80" fill="#1a5694" stroke="#707070" stroke-width="0.45"/>
<rect x="425.20" y="102.96" width="6.90" height="3.80" fill="#1a5694" stroke="#707070" stroke-width="0.45"/>
<rect x="432.10" y="102.96" width="2.90" height="3.80" fill="#9466a6" stroke="#707070" stroke-width="0.45"/>
<rect x="435.00" y="102.96" width="4.00" height="3.80" fill="#1a5694" stroke="#707070" stroke-width="0.45"/>
<rect x="441.90" y="102.96" width="2.90" height="3.80" fill="#1a5694" stroke="#707070" stroke-width="0.45"/>
<rect x="447.10" y="102.96" width="2.90" height="3.80" fill="#9466a6" stroke="#707070" stroke-width="0.45"/>
<rect x="452.90" y="102.96" width="2.90" height="3.80" fill="#46105f" stroke="#707070" stroke-width="0.45"/>
<rect x="456.90" y="102.96" width="2.90" height="3.80" fill="#9466a6" stroke="#707070" stroke-width="0.45"/>
<rect x="461.50" y="102.96" width="5.20" height="3.80" fill="#1a5694" stroke="#707070" stroke-width="0.45"/>
<rect x="468.40" y="102.96" width="3.50" height="3.80" fill="#9466a6" stroke="#707070" stroke-width="0.45"/>
<rect x="368.10" y="102.96" width="105.83" height="3.8" rx="1.4" fill="none" stroke="#4a4a4a" stroke-width="0.7"/>
<line x1="368.40" y1="102.96" x2="368.40" y2="108.96" stroke="#555" stroke-width="0.7" />
<line x1="392.80" y1="96.46" x2="392.80" y2="101.26" stroke="#5e8fc2" stroke-width="1.05" />
<line x1="394.80" y1="96.46" x2="394.80" y2="101.26" stroke="#5e8fc2" stroke-width="1.05" />
<line x1="418.10" y1="96.46" x2="418.10" y2="101.26" stroke="#5e8fc2" stroke-width="1.05" />
<line x1="418.80" y1="96.46" x2="418.80" y2="101.26" stroke="#5e8fc2" stroke-width="1.05" />
<line x1="428.30" y1="96.46" x2="428.30" y2="101.26" stroke="#5e8fc2" stroke-width="1.05" />
<line x1="451.10" y1="96.46" x2="451.10" y2="101.26" stroke="#5e8fc2" stroke-width="1.05" />
<line x1="426.60" y1="106.76" x2="426.60" y2="108.86" stroke="#666" stroke-width="0.6" />
<text x="364.40" y="128.20" font-size="8.3" text-anchor="end" fill="#222" stroke="#222" stroke-width="0.15" font-weight="normal" >chr6</text>
<rect x="368.10" y="122.70" width="100.09" height="3.8" rx="1.4" fill="#fff"/>
<rect x="370.00" y="122.70" width="1.20" height="3.80" fill="#46105f" stroke="#707070" stroke-width="0.45"/>
<rect x="372.30" y="122.70" width="2.40" height="3.80" fill="#9466a6" stroke="#707070" stroke-width="0.45"/>
<rect x="374.70" y="122.70" width="2.30" height="3.80" fill="#6b3685" stroke="#707070" stroke-width="0.45"/>
<rect x="377.00" y="122.70" width="5.70" height="3.80" fill="#46105f" stroke="#707070" stroke-width="0.45"/>
<rect x="384.50" y="122.70" width="3.40" height="3.80" fill="#9466a6" stroke="#707070" stroke-width="0.45"/>
<rect x="389.10" y="122.70" width="2.90" height="3.80" fill="#9466a6" stroke="#707070" stroke-width="0.45"/>
<rect x="394.80" y="122.70" width="7.00" height="3.80" fill="#1a5694" stroke="#707070" stroke-width="0.45"/>
<rect x="402.90" y="122.70" width="1.15" height="3.80" fill="#22b53c" stroke="#707070" stroke-width="0.45"/>
<rect x="404.05" y="122.70" width="1.15" height="3.80" fill="#22b53c" stroke="#707070" stroke-width="0.45"/>
<rect x="405.20" y="122.70" width="4.10" height="3.80" fill="#1a5694" stroke="#707070" stroke-width="0.45"/>
<rect x="412.10" y="122.70" width="4.60" height="3.80" fill="#b9a3c3" stroke="#707070" stroke-width="0.45"/>
<rect x="416.70" y="122.70" width="1.30" height="3.80" fill="#6b3685" stroke="#707070" stroke-width="0.45"/>
<rect x="422.30" y="122.70" width="7.50" height="3.80" fill="#1a5694" stroke="#707070" stroke-width="0.45"/>
<rect x="435.00" y="122.70" width="3.50" height="3.80" fill="#46105f" stroke="#707070" stroke-width="0.45"/>
<rect x="438.50" y="122.70" width="3.40" height="3.80" fill="#1a5694" stroke="#707070" stroke-width="0.45"/>
<rect x="441.90" y="122.70" width="2.90" height="3.80" fill="#46105f" stroke="#707070" stroke-width="0.45"/>
<rect x="444.80" y="122.70" width="2.30" height="3.80" fill="#9466a6" stroke="#707070" stroke-width="0.45"/>
<rect x="448.80" y="122.70" width="2.90" height="3.80" fill="#46105f" stroke="#707070" stroke-width="0.45"/>
<rect x="452.90" y="122.70" width="2.30" height="3.80" fill="#46105f" stroke="#707070" stroke-width="0.45"/>
<rect x="456.90" y="122.70" width="2.90" height="3.80" fill="#9466a6" stroke="#707070" stroke-width="0.45"/>
<rect x="462.10" y="122.70" width="2.30" height="3.80" fill="#9466a6" stroke="#707070" stroke-width="0.45"/>
<rect x="368.10" y="122.70" width="100.09" height="3.8" rx="1.4" fill="none" stroke="#4a4a4a" stroke-width="0.7"/>
<line x1="368.40" y1="122.70" x2="368.40" y2="128.70" stroke="#555" stroke-width="0.7" />
<line x1="369.50" y1="116.20" x2="369.50" y2="121.00" stroke="#5e8fc2" stroke-width="1.05" />
<line x1="375.20" y1="116.20" x2="375.20" y2="121.00" stroke="#5e8fc2" stroke-width="1.05" />
<line x1="377.00" y1="116.20" x2="377.00" y2="121.00" stroke="#5e8fc2" stroke-width="1.05" />
<line x1="377.90" y1="116.20" x2="377.90" y2="121.00" stroke="#5e8fc2" stroke-width="1.05" />
<line x1="385.40" y1="116.20" x2="385.40" y2="121.00" stroke="#5e8fc2" stroke-width="1.05" />
<line x1="386.50" y1="116.20" x2="386.50" y2="121.00" stroke="#5e8fc2" stroke-width="1.05" />
<line x1="390.20" y1="116.20" x2="390.20" y2="121.00" stroke="#5e8fc2" stroke-width="1.05" />
<line x1="405.40" y1="116.20" x2="405.40" y2="121.00" stroke="#5e8fc2" stroke-width="1.05" />
<line x1="406.40" y1="116.20" x2="406.40" y2="121.00" stroke="#5e8fc2" stroke-width="1.05" />
<line x1="445.40" y1="116.20" x2="445.40" y2="121.00" stroke="#5e8fc2" stroke-width="1.05" />
<line x1="452.50" y1="116.20" x2="452.50" y2="121.00" stroke="#5e8fc2" stroke-width="1.05" />
<line x1="466.70" y1="116.20" x2="466.70" y2="121.00" stroke="#5e8fc2" stroke-width="1.05" />
<line x1="426.60" y1="126.50" x2="426.60" y2="128.60" stroke="#666" stroke-width="0.6" />
<text x="364.40" y="147.94" font-size="8.3" text-anchor="end" fill="#222" stroke="#222" stroke-width="0.15" font-weight="normal" >chr7</text>
<rect x="368.10" y="142.44" width="93.07" height="3.8" rx="1.4" fill="#fff"/>
<rect x="370.00" y="142.44" width="1.20" height="3.80" fill="#46105f" stroke="#707070" stroke-width="0.45"/>
<rect x="372.90" y="142.44" width="3.50" height="3.80" fill="#1a5694" stroke="#707070" stroke-width="0.45"/>
<rect x="378.10" y="142.44" width="2.30" height="3.80" fill="#1a5694" stroke="#707070" stroke-width="0.45"/>
<rect x="384.50" y="142.44" width="4.60" height="3.80" fill="#46105f" stroke="#707070" stroke-width="0.45"/>
<rect x="390.20" y="142.44" width="3.50" height="3.80" fill="#46105f" stroke="#707070" stroke-width="0.45"/>
<rect x="394.80" y="142.44" width="4.60" height="3.80" fill="#46105f" stroke="#707070" stroke-width="0.45"/>
<rect x="401.80" y="142.44" width="1.15" height="3.80" fill="#22b53c" stroke="#707070" stroke-width="0.45"/>
<rect x="402.95" y="142.44" width="1.15" height="3.80" fill="#22b53c" stroke="#707070" stroke-width="0.45"/>
<rect x="407.00" y="142.44" width="3.40" height="3.80" fill="#9466a6" stroke="#707070" stroke-width="0.45"/>
<rect x="413.30" y="142.44" width="5.80" height="3.80" fill="#1a5694" stroke="#707070" stroke-width="0.45"/>
<rect x="420.80" y="142.44" width="4.50" height="3.80" fill="#46105f" stroke="#707070" stroke-width="0.45"/>
<rect x="428.00" y="142.44" width="1.00" height="3.80" fill="#9466a6" stroke="#707070" stroke-width="0.45"/>
<rect x="430.60" y="142.44" width="4.30" height="3.80" fill="#46105f" stroke="#707070" stroke-width="0.45"/>
<rect x="436.80" y="142.44" width="2.40" height="3.80" fill="#46105f" stroke="#707070" stroke-width="0.45"/>
<rect x="440.70" y="142.44" width="2.40" height="3.80" fill="#46105f" stroke="#707070" stroke-width="0.45"/>
<rect x="446.00" y="142.44" width="2.80" height="3.80" fill="#9466a6" stroke="#707070" stroke-width="0.45"/>
<rect x="451.20" y="142.44" width="3.40" height="3.80" fill="#46105f" stroke="#707070" stroke-width="0.45"/>
<rect x="457.00" y="142.44" width="2.40" height="3.80" fill="#46105f" stroke="#707070" stroke-width="0.45"/>
<rect x="368.10" y="142.44" width="93.07" height="3.8" rx="1.4" fill="none" stroke="#4a4a4a" stroke-width="0.7"/>
<line x1="368.40" y1="142.44" x2="368.40" y2="148.44" stroke="#555" stroke-width="0.7" />
<line x1="373.50" y1="135.94" x2="373.50" y2="140.74" stroke="#5e8fc2" stroke-width="1.05" />
<line x1="377.30" y1="135.94" x2="377.30" y2="140.74" stroke="#5e8fc2" stroke-width="1.05" />
<line x1="388.30" y1="135.94" x2="388.30" y2="140.74" stroke="#5e8fc2" stroke-width="1.05" />
<line x1="402.00" y1="135.94" x2="402.00" y2="140.74" stroke="#5e8fc2" stroke-width="1.05" />
<line x1="432.50" y1="135.94" x2="432.50" y2="140.74" stroke="#5e8fc2" stroke-width="1.05" />
<line x1="447.90" y1="135.94" x2="447.90" y2="140.74" stroke="#5e8fc2" stroke-width="1.05" />
<line x1="451.30" y1="135.94" x2="451.30" y2="140.74" stroke="#e8758b" stroke-width="1.05" />
<line x1="426.60" y1="146.24" x2="426.60" y2="148.34" stroke="#666" stroke-width="0.6" />
<text x="364.40" y="167.68" font-size="8.3" text-anchor="end" fill="#222" stroke="#222" stroke-width="0.15" font-weight="normal" >chr8</text>
<rect x="368.10" y="162.18" width="85.64" height="3.8" rx="1.4" fill="#fff"/>
<rect x="369.40" y="162.18" width="2.90" height="3.80" fill="#46105f" stroke="#707070" stroke-width="0.45"/>
<rect x="375.60" y="162.18" width="3.40" height="3.80" fill="#1a5694" stroke="#707070" stroke-width="0.45"/>
<rect x="381.40" y="162.18" width="3.40" height="3.80" fill="#9466a6" stroke="#707070" stroke-width="0.45"/>
<rect x="384.80" y="162.18" width="4.80" height="3.80" fill="#6b3685" stroke="#707070" stroke-width="0.45"/>
<rect x="392.90" y="162.18" width="1.95" height="3.80" fill="#22b53c" stroke="#707070" stroke-width="0.45"/>
<rect x="394.85" y="162.18" width="1.95" height="3.80" fill="#22b53c" stroke="#707070" stroke-width="0.45"/>
<rect x="399.00" y="162.18" width="2.10" height="3.80" fill="#b9a3c3" stroke="#707070" stroke-width="0.45"/>
<rect x="401.10" y="162.18" width="2.90" height="3.80" fill="#9466a6" stroke="#707070" stroke-width="0.45"/>
<rect x="405.40" y="162.18" width="2.90" height="3.80" fill="#6b3685" stroke="#707070" stroke-width="0.45"/>
<rect x="411.00" y="162.18" width="3.30" height="3.80" fill="#1a5694" stroke="#707070" stroke-width="0.45"/>
<rect x="414.30" y="162.18" width="3.90" height="3.80" fill="#46105f" stroke="#707070" stroke-width="0.45"/>
<rect x="419.10" y="162.18" width="3.90" height="3.80" fill="#1a5694" stroke="#707070" stroke-width="0.45"/>
<rect x="425.40" y="162.18" width="2.40" height="3.80" fill="#9466a6" stroke="#707070" stroke-width="0.45"/>
<rect x="430.20" y="162.18" width="2.90" height="3.80" fill="#46105f" stroke="#707070" stroke-width="0.45"/>
<rect x="433.10" y="162.18" width="3.80" height="3.80" fill="#1a5694" stroke="#707070" stroke-width="0.45"/>
<rect x="436.90" y="162.18" width="2.90" height="3.80" fill="#9466a6" stroke="#707070" stroke-width="0.45"/>
<rect x="442.20" y="162.18" width="2.90" height="3.80" fill="#9466a6" stroke="#707070" stroke-width="0.45"/>
<rect x="448.00" y="162.18" width="1.90" height="3.80" fill="#46105f" stroke="#707070" stroke-width="0.45"/>
<rect x="368.10" y="162.18" width="85.64" height="3.8" rx="1.4" fill="none" stroke="#4a4a4a" stroke-width="0.7"/>
<line x1="368.40" y1="162.18" x2="368.40" y2="168.18" stroke="#555" stroke-width="0.7" />
<line x1="369.80" y1="155.68" x2="369.80" y2="160.48" stroke="#5e8fc2" stroke-width="1.05" />
<line x1="371.00" y1="155.68" x2="371.00" y2="160.48" stroke="#5e8fc2" stroke-width="1.05" />
<line x1="396.00" y1="155.68" x2="396.00" y2="160.48" stroke="#5e8fc2" stroke-width="1.05" />
<line x1="403.50" y1="155.68" x2="403.50" y2="160.48" stroke="#5e8fc2" stroke-width="1.05" />
<line x1="417.50" y1="155.68" x2="417.50" y2="160.48" stroke="#5e8fc2" stroke-width="1.05" />
<line x1="419.60" y1="155.68" x2="419.60" y2="160.48" stroke="#5e8fc2" stroke-width="1.05" />
<line x1="420.60" y1="155.68" x2="420.60" y2="160.48" stroke="#5e8fc2" stroke-width="1.05" />
<line x1="434.50" y1="155.68" x2="434.50" y2="160.48" stroke="#5e8fc2" stroke-width="1.05" />
<line x1="439.60" y1="155.68" x2="439.60" y2="160.48" stroke="#5e8fc2" stroke-width="1.05" />
<line x1="426.60" y1="165.98" x2="426.60" y2="168.08" stroke="#666" stroke-width="0.6" />
<text x="364.40" y="187.42" font-size="8.3" text-anchor="end" fill="#222" stroke="#222" stroke-width="0.15" font-weight="normal" >chr9</text>
<rect x="368.10" y="181.92" width="82.60" height="3.8" rx="1.4" fill="#fff"/>
<rect x="368.10" y="181.92" width="2.20" height="3.80" fill="#9466a6" stroke="#707070" stroke-width="0.45"/>
<rect x="373.20" y="181.92" width="3.40" height="3.80" fill="#46105f" stroke="#707070" stroke-width="0.45"/>
<rect x="377.50" y="181.92" width="1.50" height="3.80" fill="#9466a6" stroke="#707070" stroke-width="0.45"/>
<rect x="379.50" y="181.92" width="3.30" height="3.80" fill="#1a5694" stroke="#707070" stroke-width="0.45"/>
<rect x="384.80" y="181.92" width="2.80" height="3.80" fill="#1a5694" stroke="#707070" stroke-width="0.45"/>
<rect x="389.10" y="181.92" width="2.40" height="3.80" fill="#9466a6" stroke="#707070" stroke-width="0.45"/>
<rect x="392.40" y="181.92" width="2.40" height="3.80" fill="#46105f" stroke="#707070" stroke-width="0.45"/>
<rect x="396.30" y="181.92" width="0.70" height="3.80" fill="#22b53c" stroke="#707070" stroke-width="0.45"/>
<rect x="397.00" y="181.92" width="0.70" height="3.80" fill="#22b53c" stroke="#707070" stroke-width="0.45"/>
<rect x="397.70" y="181.92" width="8.70" height="3.80" fill="#eedcf3" stroke="#707070" stroke-width="0.45"/>
<rect x="408.30" y="181.92" width="2.90" height="3.80" fill="#9466a6" stroke="#707070" stroke-width="0.45"/>
<rect x="411.20" y="181.92" width="4.60" height="3.80" fill="#b9a3c3" stroke="#707070" stroke-width="0.45"/>
<rect x="416.70" y="181.92" width="1.80" height="3.80" fill="#9466a6" stroke="#707070" stroke-width="0.45"/>
<rect x="419.60" y="181.92" width="2.90" height="3.80" fill="#9466a6" stroke="#707070" stroke-width="0.45"/>
<rect x="424.40" y="181.92" width="1.90" height="3.80" fill="#9466a6" stroke="#707070" stroke-width="0.45"/>
<rect x="428.30" y="181.92" width="2.90" height="3.80" fill="#1a5694" stroke="#707070" stroke-width="0.45"/>
<rect x="433.60" y="181.92" width="2.80" height="3.80" fill="#9466a6" stroke="#707070" stroke-width="0.45"/>
<rect x="437.40" y="181.92" width="2.40" height="3.80" fill="#46105f" stroke="#707070" stroke-width="0.45"/>
<rect x="441.70" y="181.92" width="2.90" height="3.80" fill="#9466a6" stroke="#707070" stroke-width="0.45"/>
<rect x="446.10" y="181.92" width="2.80" height="3.80" fill="#6b3685" stroke="#707070" stroke-width="0.45"/>
<rect x="368.10" y="181.92" width="82.60" height="3.8" rx="1.4" fill="none" stroke="#4a4a4a" stroke-width="0.7"/>
<line x1="368.40" y1="181.92" x2="368.40" y2="187.92" stroke="#555" stroke-width="0.7" />
<line x1="371.80" y1="175.42" x2="371.80" y2="180.22" stroke="#5e8fc2" stroke-width="1.05" />
<line x1="372.50" y1="175.42" x2="372.50" y2="180.22" stroke="#5e8fc2" stroke-width="1.05" />
<line x1="375.10" y1="175.42" x2="375.10" y2="180.22" stroke="#5e8fc2" stroke-width="1.05" />
<line x1="375.90" y1="175.42" x2="375.90" y2="180.22" stroke="#5e8fc2" stroke-width="1.05" />
<line x1="380.40" y1="175.42" x2="380.40" y2="180.22" stroke="#5e8fc2" stroke-width="1.05" />
<line x1="394.40" y1="175.42" x2="394.40" y2="180.22" stroke="#5e8fc2" stroke-width="1.05" />
<line x1="417.50" y1="175.42" x2="417.50" y2="180.22" stroke="#5e8fc2" stroke-width="1.05" />
<line x1="419.10" y1="175.42" x2="419.10" y2="180.22" stroke="#5e8fc2" stroke-width="1.05" />
<line x1="438.70" y1="175.42" x2="438.70" y2="180.22" stroke="#5e8fc2" stroke-width="1.05" />
<line x1="443.50" y1="175.42" x2="443.50" y2="180.22" stroke="#5e8fc2" stroke-width="1.05" />
<line x1="426.60" y1="185.72" x2="426.60" y2="187.82" stroke="#666" stroke-width="0.6" />
<text x="364.40" y="207.16" font-size="8.3" text-anchor="end" fill="#222" stroke="#222" stroke-width="0.15" font-weight="normal" >chr10</text>
<rect x="368.10" y="201.66" width="79.27" height="3.8" rx="1.4" fill="#fff"/>
<rect x="369.40" y="201.66" width="0.90" height="3.80" fill="#6b3685" stroke="#707070" stroke-width="0.45"/>
<rect x="371.80" y="201.66" width="3.80" height="3.80" fill="#46105f" stroke="#707070" stroke-width="0.45"/>
<rect x="378.00" y="201.66" width="3.90" height="3.80" fill="#46105f" stroke="#707070" stroke-width="0.45"/>
<rect x="383.30" y="201.66" width="4.80" height="3.80" fill="#9466a6" stroke="#707070" stroke-width="0.45"/>
<rect x="390.00" y="201.66" width="1.45" height="3.80" fill="#22b53c" stroke="#707070" stroke-width="0.45"/>
<rect x="391.45" y="201.66" width="1.45" height="3.80" fill="#22b53c" stroke="#707070" stroke-width="0.45"/>
<rect x="394.80" y="201.66" width="2.90" height="3.80" fill="#9466a6" stroke="#707070" stroke-width="0.45"/>
<rect x="399.20" y="201.66" width="4.80" height="3.80" fill="#1a5694" stroke="#707070" stroke-width="0.45"/>
<rect x="405.90" y="201.66" width="3.40" height="3.80" fill="#1a5694" stroke="#707070" stroke-width="0.45"/>
<rect x="411.20" y="201.66" width="2.60" height="3.80" fill="#9466a6" stroke="#707070" stroke-width="0.45"/>
<rect x="415.80" y="201.66" width="4.30" height="3.80" fill="#1a5694" stroke="#707070" stroke-width="0.45"/>
<rect x="420.10" y="201.66" width="2.40" height="3.80" fill="#46105f" stroke="#707070" stroke-width="0.45"/>
<rect x="422.50" y="201.66" width="2.90" height="3.80" fill="#9466a6" stroke="#707070" stroke-width="0.45"/>
<rect x="427.30" y="201.66" width="1.90" height="3.80" fill="#9466a6" stroke="#707070" stroke-width="0.45"/>
<rect x="429.20" y="201.66" width="4.40" height="3.80" fill="#1a5694" stroke="#707070" stroke-width="0.45"/>
<rect x="435.00" y="201.66" width="2.90" height="3.80" fill="#46105f" stroke="#707070" stroke-width="0.45"/>
<rect x="439.40" y="201.66" width="1.50" height="3.80" fill="#46105f" stroke="#707070" stroke-width="0.45"/>
<rect x="442.20" y="201.66" width="2.40" height="3.80" fill="#9466a6" stroke="#707070" stroke-width="0.45"/>
<rect x="368.10" y="201.66" width="79.27" height="3.8" rx="1.4" fill="none" stroke="#4a4a4a" stroke-width="0.7"/>
<line x1="368.40" y1="201.66" x2="368.40" y2="207.66" stroke="#555" stroke-width="0.7" />
<line x1="379.70" y1="195.16" x2="379.70" y2="199.96" stroke="#5e8fc2" stroke-width="1.05" />
<line x1="384.80" y1="195.16" x2="384.80" y2="199.96" stroke="#5e8fc2" stroke-width="1.05" />
<line x1="385.50" y1="195.16" x2="385.50" y2="199.96" stroke="#5e8fc2" stroke-width="1.05" />
<line x1="387.90" y1="195.16" x2="387.90" y2="199.96" stroke="#5e8fc2" stroke-width="1.05" />
<line x1="416.50" y1="195.16" x2="416.50" y2="199.96" stroke="#5e8fc2" stroke-width="1.05" />
<line x1="435.20" y1="195.16" x2="435.20" y2="199.96" stroke="#5e8fc2" stroke-width="1.05" />
<line x1="426.60" y1="205.46" x2="426.60" y2="207.56" stroke="#666" stroke-width="0.6" />
<text x="364.40" y="226.90" font-size="8.3" text-anchor="end" fill="#222" stroke="#222" stroke-width="0.15" font-weight="normal" >chr11</text>
<rect x="368.10" y="221.40" width="78.97" height="3.8" rx="1.4" fill="#fff"/>
<rect x="368.50" y="221.40" width="1.80" height="3.80" fill="#b9a3c3" stroke="#707070" stroke-width="0.45"/>
<rect x="370.30" y="221.40" width="4.40" height="3.80" fill="#9466a6" stroke="#707070" stroke-width="0.45"/>
<rect x="374.70" y="221.40" width="2.30" height="3.80" fill="#b9a3c3" stroke="#707070" stroke-width="0.45"/>
<rect x="380.90" y="221.40" width="2.90" height="3.80" fill="#1a5694" stroke="#707070" stroke-width="0.45"/>
<rect x="383.80" y="221.40" width="2.40" height="3.80" fill="#46105f" stroke="#707070" stroke-width="0.45"/>
<rect x="389.10" y="221.40" width="4.80" height="3.80" fill="#1a5694" stroke="#707070" stroke-width="0.45"/>
<rect x="396.80" y="221.40" width="1.90" height="3.80" fill="#46105f" stroke="#707070" stroke-width="0.45"/>
<rect x="398.70" y="221.40" width="0.95" height="3.80" fill="#22b53c" stroke="#707070" stroke-width="0.45"/>
<rect x="399.65" y="221.40" width="0.95" height="3.80" fill="#22b53c" stroke="#707070" stroke-width="0.45"/>
<rect x="400.60" y="221.40" width="2.40" height="3.80" fill="#46105f" stroke="#707070" stroke-width="0.45"/>
<rect x="404.50" y="221.40" width="2.00" height="3.80" fill="#b9a3c3" stroke="#707070" stroke-width="0.45"/>
<rect x="408.30" y="221.40" width="3.40" height="3.80" fill="#9466a6" stroke="#707070" stroke-width="0.45"/>
<rect x="413.10" y="221.40" width="4.60" height="3.80" fill="#1a5694" stroke="#707070" stroke-width="0.45"/>
<rect x="419.60" y="221.40" width="3.40" height="3.80" fill="#1a5694" stroke="#707070" stroke-width="0.45"/>
<rect x="424.90" y="221.40" width="2.40" height="3.80" fill="#46105f" stroke="#707070" stroke-width="0.45"/>
<rect x="427.30" y="221.40" width="5.80" height="3.80" fill="#1a5694" stroke="#707070" stroke-width="0.45"/>
<rect x="433.10" y="221.40" width="1.90" height="3.80" fill="#6b3685" stroke="#707070" stroke-width="0.45"/>
<rect x="438.80" y="221.40" width="2.00" height="3.80" fill="#9466a6" stroke="#707070" stroke-width="0.45"/>
<rect x="442.70" y="221.40" width="1.90" height="3.80" fill="#6b3685" stroke="#707070" stroke-width="0.45"/>
<rect x="368.10" y="221.40" width="78.97" height="3.8" rx="1.4" fill="none" stroke="#4a4a4a" stroke-width="0.7"/>
<line x1="368.40" y1="221.40" x2="368.40" y2="227.40" stroke="#555" stroke-width="0.7" />
<line x1="420.90" y1="214.90" x2="420.90" y2="219.70" stroke="#5e8fc2" stroke-width="1.05" />
<line x1="421.60" y1="214.90" x2="421.60" y2="219.70" stroke="#5e8fc2" stroke-width="1.05" />
<line x1="423.50" y1="214.90" x2="423.50" y2="219.70" stroke="#5e8fc2" stroke-width="1.05" />
<line x1="443.20" y1="214.90" x2="443.20" y2="219.70" stroke="#5e8fc2" stroke-width="1.05" />
<line x1="426.60" y1="225.20" x2="426.60" y2="227.30" stroke="#666" stroke-width="0.6" />
<text x="364.40" y="246.64" font-size="8.3" text-anchor="end" fill="#222" stroke="#222" stroke-width="0.15" font-weight="normal" >chr12</text>
<rect x="368.10" y="241.14" width="78.30" height="3.8" rx="1.4" fill="#fff"/>
<rect x="369.80" y="241.14" width="2.00" height="3.80" fill="#9466a6" stroke="#707070" stroke-width="0.45"/>
<rect x="373.70" y="241.14" width="2.40" height="3.80" fill="#46105f" stroke="#707070" stroke-width="0.45"/>
<rect x="377.10" y="241.14" width="7.20" height="3.80" fill="#1a5694" stroke="#707070" stroke-width="0.45"/>
<rect x="384.30" y="241.14" width="1.90" height="3.80" fill="#9466a6" stroke="#707070" stroke-width="0.45"/>
<rect x="388.10" y="241.14" width="1.20" height="3.80" fill="#22b53c" stroke="#707070" stroke-width="0.45"/>
<rect x="389.30" y="241.14" width="1.20" height="3.80" fill="#22b53c" stroke="#707070" stroke-width="0.45"/>
<rect x="390.50" y="241.14" width="4.30" height="3.80" fill="#1a5694" stroke="#707070" stroke-width="0.45"/>
<rect x="396.80" y="241.14" width="2.40" height="3.80" fill="#9466a6" stroke="#707070" stroke-width="0.45"/>
<rect x="400.60" y="241.14" width="4.80" height="3.80" fill="#46105f" stroke="#707070" stroke-width="0.45"/>
<rect x="405.40" y="241.14" width="1.40" height="3.80" fill="#9466a6" stroke="#707070" stroke-width="0.45"/>
<rect x="409.80" y="241.14" width="2.80" height="3.80" fill="#46105f" stroke="#707070" stroke-width="0.45"/>
<rect x="414.80" y="241.14" width="3.40" height="3.80" fill="#1a5694" stroke="#707070" stroke-width="0.45"/>
<rect x="419.60" y="241.14" width="2.90" height="3.80" fill="#1a5694" stroke="#707070" stroke-width="0.45"/>
<rect x="424.40" y="241.14" width="2.90" height="3.80" fill="#46105f" stroke="#707070" stroke-width="0.45"/>
<rect x="427.30" y="241.14" width="3.40" height="3.80" fill="#9466a6" stroke="#707070" stroke-width="0.45"/>
<rect x="432.10" y="241.14" width="1.90" height="3.80" fill="#6b3685" stroke="#707070" stroke-width="0.45"/>
<rect x="435.00" y="241.14" width="3.80" height="3.80" fill="#9466a6" stroke="#707070" stroke-width="0.45"/>
<rect x="441.70" y="241.14" width="2.40" height="3.80" fill="#9466a6" stroke="#707070" stroke-width="0.45"/>
<rect x="368.10" y="241.14" width="78.30" height="3.8" rx="1.4" fill="none" stroke="#4a4a4a" stroke-width="0.7"/>
<line x1="368.40" y1="241.14" x2="368.40" y2="247.14" stroke="#555" stroke-width="0.7" />
<line x1="378.30" y1="234.64" x2="378.30" y2="239.44" stroke="#5e8fc2" stroke-width="1.05" />
<line x1="392.90" y1="234.64" x2="392.90" y2="239.44" stroke="#5e8fc2" stroke-width="1.05" />
<line x1="443.50" y1="234.64" x2="443.50" y2="239.44" stroke="#5e8fc2" stroke-width="1.05" />
<line x1="426.60" y1="244.94" x2="426.60" y2="247.04" stroke="#666" stroke-width="0.6" />
<text x="364.40" y="266.38" font-size="8.3" text-anchor="end" fill="#222" stroke="#222" stroke-width="0.15" font-weight="normal" >chr13</text>
<rect x="368.10" y="260.88" width="67.39" height="3.8" rx="1.4" fill="#fff"/>
<rect x="368.10" y="260.88" width="2.20" height="3.80" fill="#eedcf3" stroke="#707070" stroke-width="0.45"/>
<rect x="370.30" y="260.88" width="3.40" height="3.80" fill="#1a5694" stroke="#707070" stroke-width="0.45"/>
<rect x="374.70" y="260.88" width="2.40" height="3.80" fill="#eedcf3" stroke="#707070" stroke-width="0.45"/>
<rect x="377.50" y="260.88" width="1.00" height="3.80" fill="#22b53c" stroke="#707070" stroke-width="0.45"/>
<rect x="378.50" y="260.88" width="1.00" height="3.80" fill="#22b53c" stroke="#707070" stroke-width="0.45"/>
<rect x="381.40" y="260.88" width="1.90" height="3.80" fill="#46105f" stroke="#707070" stroke-width="0.45"/>
<rect x="383.30" y="260.88" width="1.70" height="3.80" fill="#9466a6" stroke="#707070" stroke-width="0.45"/>
<rect x="386.70" y="260.88" width="4.80" height="3.80" fill="#46105f" stroke="#707070" stroke-width="0.45"/>
<rect x="393.90" y="260.88" width="3.80" height="3.80" fill="#9466a6" stroke="#707070" stroke-width="0.45"/>
<rect x="399.70" y="260.88" width="3.30" height="3.80" fill="#1a5694" stroke="#707070" stroke-width="0.45"/>
<rect x="404.10" y="260.88" width="3.20" height="3.80" fill="#46105f" stroke="#707070" stroke-width="0.45"/>
<rect x="408.30" y="260.88" width="2.70" height="3.80" fill="#1a5694" stroke="#707070" stroke-width="0.45"/>
<rect x="411.00" y="260.88" width="1.50" height="3.80" fill="#9466a6" stroke="#707070" stroke-width="0.45"/>
<rect x="414.40" y="260.88" width="4.80" height="3.80" fill="#1a5694" stroke="#707070" stroke-width="0.45"/>
<rect x="421.20" y="260.88" width="2.40" height="3.80" fill="#1a5694" stroke="#707070" stroke-width="0.45"/>
<rect x="425.50" y="260.88" width="2.40" height="3.80" fill="#9466a6" stroke="#707070" stroke-width="0.45"/>
<rect x="430.30" y="260.88" width="2.90" height="3.80" fill="#1a5694" stroke="#707070" stroke-width="0.45"/>
<rect x="368.10" y="260.88" width="67.39" height="3.8" rx="1.4" fill="none" stroke="#4a4a4a" stroke-width="0.7"/>
<line x1="368.40" y1="260.88" x2="368.40" y2="266.88" stroke="#555" stroke-width="0.7" />
<line x1="397.70" y1="254.38" x2="397.70" y2="259.18" stroke="#5e8fc2" stroke-width="1.05" />
<line x1="405.30" y1="254.38" x2="405.30" y2="259.18" stroke="#5e8fc2" stroke-width="1.05" />
<line x1="411.30" y1="254.38" x2="411.30" y2="259.18" stroke="#5e8fc2" stroke-width="1.05" />
<line x1="412.20" y1="254.38" x2="412.20" y2="259.18" stroke="#5e8fc2" stroke-width="1.05" />
<line x1="415.60" y1="254.38" x2="415.60" y2="259.18" stroke="#5e8fc2" stroke-width="1.05" />
<line x1="416.30" y1="254.38" x2="416.30" y2="259.18" stroke="#5e8fc2" stroke-width="1.05" />
<line x1="418.50" y1="254.38" x2="418.50" y2="259.18" stroke="#5e8fc2" stroke-width="1.05" />
<line x1="435.10" y1="254.38" x2="435.10" y2="259.18" stroke="#5e8fc2" stroke-width="1.05" />
<line x1="426.60" y1="264.68" x2="426.60" y2="266.78" stroke="#666" stroke-width="0.6" />
<text x="364.40" y="286.12" font-size="8.3" text-anchor="end" fill="#222" stroke="#222" stroke-width="0.15" font-weight="normal" >chr14</text>
<rect x="368.10" y="280.62" width="62.77" height="3.8" rx="1.4" fill="#fff"/>
<rect x="370.70" y="280.62" width="2.70" height="3.80" fill="#1a5694" stroke="#707070" stroke-width="0.45"/>
<rect x="373.40" y="280.62" width="3.40" height="3.80" fill="#eedcf3" stroke="#707070" stroke-width="0.45"/>
<rect x="377.80" y="280.62" width="0.85" height="3.80" fill="#22b53c" stroke="#707070" stroke-width="0.45"/>
<rect x="378.65" y="280.62" width="0.85" height="3.80" fill="#22b53c" stroke="#707070" stroke-width="0.45"/>
<rect x="382.20" y="280.62" width="6.00" height="3.80" fill="#1a5694" stroke="#707070" stroke-width="0.45"/>
<rect x="390.20" y="280.62" width="3.40" height="3.80" fill="#1a5694" stroke="#707070" stroke-width="0.45"/>
<rect x="396.30" y="280.62" width="2.70" height="3.80" fill="#1a5694" stroke="#707070" stroke-width="0.45"/>
<rect x="401.00" y="280.62" width="4.00" height="3.80" fill="#46105f" stroke="#707070" stroke-width="0.45"/>
<rect x="405.70" y="280.62" width="4.70" height="3.80" fill="#9466a6" stroke="#707070" stroke-width="0.45"/>
<rect x="413.80" y="280.62" width="6.00" height="3.80" fill="#1a5694" stroke="#707070" stroke-width="0.45"/>
<rect x="421.90" y="280.62" width="4.00" height="3.80" fill="#9466a6" stroke="#707070" stroke-width="0.45"/>
<rect x="426.00" y="280.62" width="2.00" height="3.80" fill="#6b3685" stroke="#707070" stroke-width="0.45"/>
<rect x="368.10" y="280.62" width="62.77" height="3.8" rx="1.4" fill="none" stroke="#4a4a4a" stroke-width="0.7"/>
<line x1="368.40" y1="280.62" x2="368.40" y2="286.62" stroke="#555" stroke-width="0.7" />
<line x1="380.50" y1="274.12" x2="380.50" y2="278.92" stroke="#5e8fc2" stroke-width="1.05" />
<line x1="381.90" y1="274.12" x2="381.90" y2="278.92" stroke="#e8758b" stroke-width="1.05" />
<line x1="399.40" y1="274.12" x2="399.40" y2="278.92" stroke="#5e8fc2" stroke-width="1.05" />
<line x1="412.40" y1="274.12" x2="412.40" y2="278.92" stroke="#5e8fc2" stroke-width="1.05" />
<line x1="413.80" y1="274.12" x2="413.80" y2="278.92" stroke="#5e8fc2" stroke-width="1.05" />
<line x1="430.30" y1="274.12" x2="430.30" y2="278.92" stroke="#e8758b" stroke-width="1.05" />
<line x1="426.60" y1="284.42" x2="426.60" y2="286.52" stroke="#666" stroke-width="0.6" />
<text x="364.40" y="305.86" font-size="8.3" text-anchor="end" fill="#222" stroke="#222" stroke-width="0.15" font-weight="normal" >chr15</text>
<rect x="368.10" y="300.36" width="59.96" height="3.8" rx="1.4" fill="#fff"/>
<rect x="370.30" y="300.36" width="3.30" height="3.80" fill="#1a5694" stroke="#707070" stroke-width="0.45"/>
<rect x="373.60" y="300.36" width="3.50" height="3.80" fill="#eedcf3" stroke="#707070" stroke-width="0.45"/>
<rect x="377.70" y="300.36" width="1.05" height="3.80" fill="#22b53c" stroke="#707070" stroke-width="0.45"/>
<rect x="378.75" y="300.36" width="1.05" height="3.80" fill="#22b53c" stroke="#707070" stroke-width="0.45"/>
<rect x="382.60" y="300.36" width="3.10" height="3.80" fill="#9466a6" stroke="#707070" stroke-width="0.45"/>
<rect x="388.20" y="300.36" width="3.60" height="3.80" fill="#46105f" stroke="#707070" stroke-width="0.45"/>
<rect x="393.70" y="300.36" width="3.70" height="3.80" fill="#46105f" stroke="#707070" stroke-width="0.45"/>
<rect x="399.20" y="300.36" width="3.70" height="3.80" fill="#46105f" stroke="#707070" stroke-width="0.45"/>
<rect x="402.90" y="300.36" width="2.30" height="3.80" fill="#9466a6" stroke="#707070" stroke-width="0.45"/>
<rect x="407.20" y="300.36" width="3.70" height="3.80" fill="#9466a6" stroke="#707070" stroke-width="0.45"/>
<rect x="412.80" y="300.36" width="3.00" height="3.80" fill="#b9a3c3" stroke="#707070" stroke-width="0.45"/>
<rect x="417.70" y="300.36" width="3.10" height="3.80" fill="#9466a6" stroke="#707070" stroke-width="0.45"/>
<rect x="423.20" y="300.36" width="1.90" height="3.80" fill="#9466a6" stroke="#707070" stroke-width="0.45"/>
<rect x="368.10" y="300.36" width="59.96" height="3.8" rx="1.4" fill="none" stroke="#4a4a4a" stroke-width="0.7"/>
<line x1="368.40" y1="300.36" x2="368.40" y2="306.36" stroke="#555" stroke-width="0.7" />
<line x1="409.30" y1="293.86" x2="409.30" y2="298.66" stroke="#5e8fc2" stroke-width="1.05" />
<line x1="426.60" y1="304.16" x2="426.60" y2="306.26" stroke="#666" stroke-width="0.6" />
<text x="364.40" y="325.60" font-size="8.3" text-anchor="end" fill="#222" stroke="#222" stroke-width="0.15" font-weight="normal" >chr16</text>
<rect x="368.10" y="320.10" width="52.85" height="3.8" rx="1.4" fill="#fff"/>
<rect x="372.20" y="320.10" width="3.00" height="3.80" fill="#9466a6" stroke="#707070" stroke-width="0.45"/>
<rect x="375.20" y="320.10" width="2.50" height="3.80" fill="#b9a3c3" stroke="#707070" stroke-width="0.45"/>
<rect x="377.70" y="320.10" width="3.10" height="3.80" fill="#9466a6" stroke="#707070" stroke-width="0.45"/>
<rect x="382.60" y="320.10" width="1.90" height="3.80" fill="#9466a6" stroke="#707070" stroke-width="0.45"/>
<rect x="388.20" y="320.10" width="1.50" height="3.80" fill="#22b53c" stroke="#707070" stroke-width="0.45"/>
<rect x="389.70" y="320.10" width="1.50" height="3.80" fill="#22b53c" stroke="#707070" stroke-width="0.45"/>
<rect x="391.20" y="320.10" width="3.70" height="3.80" fill="#eedcf3" stroke="#707070" stroke-width="0.45"/>
<rect x="398.00" y="320.10" width="3.10" height="3.80" fill="#b9a3c3" stroke="#707070" stroke-width="0.45"/>
<rect x="401.10" y="320.10" width="5.50" height="3.80" fill="#1a5694" stroke="#707070" stroke-width="0.45"/>
<rect x="408.50" y="320.10" width="3.70" height="3.80" fill="#6b3685" stroke="#707070" stroke-width="0.45"/>
<rect x="412.20" y="320.10" width="3.00" height="3.80" fill="#46105f" stroke="#707070" stroke-width="0.45"/>
<rect x="417.10" y="320.10" width="1.80" height="3.80" fill="#46105f" stroke="#707070" stroke-width="0.45"/>
<rect x="368.10" y="320.10" width="52.85" height="3.8" rx="1.4" fill="none" stroke="#4a4a4a" stroke-width="0.7"/>
<line x1="368.40" y1="320.10" x2="368.40" y2="326.10" stroke="#555" stroke-width="0.7" />
<line x1="387.90" y1="313.60" x2="387.90" y2="318.40" stroke="#5e8fc2" stroke-width="1.05" />
<line x1="395.30" y1="313.60" x2="395.30" y2="318.40" stroke="#5e8fc2" stroke-width="1.05" />
<line x1="409.70" y1="313.60" x2="409.70" y2="318.40" stroke="#5e8fc2" stroke-width="1.05" />
<line x1="413.80" y1="313.60" x2="413.80" y2="318.40" stroke="#5e8fc2" stroke-width="1.05" />
<line x1="418.90" y1="313.60" x2="418.90" y2="318.40" stroke="#5e8fc2" stroke-width="1.05" />
<text x="364.40" y="345.34" font-size="8.3" text-anchor="end" fill="#222" stroke="#222" stroke-width="0.15" font-weight="normal" >chr17</text>
<rect x="368.10" y="339.84" width="47.50" height="3.8" rx="1.4" fill="#fff"/>
<rect x="369.70" y="339.84" width="2.50" height="3.80" fill="#6b3685" stroke="#707070" stroke-width="0.45"/>
<rect x="374.60" y="339.84" width="3.10" height="3.80" fill="#46105f" stroke="#707070" stroke-width="0.45"/>
<rect x="380.80" y="339.84" width="1.20" height="3.80" fill="#22b53c" stroke="#707070" stroke-width="0.45"/>
<rect x="382.00" y="339.84" width="1.20" height="3.80" fill="#22b53c" stroke="#707070" stroke-width="0.45"/>
<rect x="386.30" y="339.84" width="4.90" height="3.80" fill="#9466a6" stroke="#707070" stroke-width="0.45"/>
<rect x="393.70" y="339.84" width="1.80" height="3.80" fill="#46105f" stroke="#707070" stroke-width="0.45"/>
<rect x="397.40" y="339.84" width="5.50" height="3.80" fill="#46105f" stroke="#707070" stroke-width="0.45"/>
<rect x="402.90" y="339.84" width="1.90" height="3.80" fill="#9466a6" stroke="#707070" stroke-width="0.45"/>
<rect x="406.60" y="339.84" width="3.10" height="3.80" fill="#46105f" stroke="#707070" stroke-width="0.45"/>
<rect x="411.50" y="339.84" width="1.90" height="3.80" fill="#46105f" stroke="#707070" stroke-width="0.45"/>
<rect x="368.10" y="339.84" width="47.50" height="3.8" rx="1.4" fill="none" stroke="#4a4a4a" stroke-width="0.7"/>
<line x1="368.40" y1="339.84" x2="368.40" y2="345.84" stroke="#555" stroke-width="0.7" />
<line x1="401.40" y1="333.34" x2="401.40" y2="338.14" stroke="#5e8fc2" stroke-width="1.05" />
<text x="364.40" y="365.08" font-size="8.3" text-anchor="end" fill="#222" stroke="#222" stroke-width="0.15" font-weight="normal" >chr18</text>
<rect x="368.10" y="359.58" width="45.69" height="3.8" rx="1.4" fill="#fff"/>
<rect x="370.30" y="359.58" width="4.30" height="3.80" fill="#9466a6" stroke="#707070" stroke-width="0.45"/>
<rect x="377.10" y="359.58" width="1.20" height="3.80" fill="#22b53c" stroke="#707070" stroke-width="0.45"/>
<rect x="378.30" y="359.58" width="1.20" height="3.80" fill="#22b53c" stroke="#707070" stroke-width="0.45"/>
<rect x="382.60" y="359.58" width="4.30" height="3.80" fill="#1a5694" stroke="#707070" stroke-width="0.45"/>
<rect x="389.40" y="359.58" width="4.30" height="3.80" fill="#46105f" stroke="#707070" stroke-width="0.45"/>
<rect x="396.20" y="359.58" width="3.60" height="3.80" fill="#46105f" stroke="#707070" stroke-width="0.45"/>
<rect x="399.80" y="359.58" width="1.90" height="3.80" fill="#9466a6" stroke="#707070" stroke-width="0.45"/>
<rect x="403.50" y="359.58" width="3.70" height="3.80" fill="#1a5694" stroke="#707070" stroke-width="0.45"/>
<rect x="407.20" y="359.58" width="1.80" height="3.80" fill="#9466a6" stroke="#707070" stroke-width="0.45"/>
<rect x="368.10" y="359.58" width="45.69" height="3.8" rx="1.4" fill="none" stroke="#4a4a4a" stroke-width="0.7"/>
<line x1="368.40" y1="359.58" x2="368.40" y2="365.58" stroke="#555" stroke-width="0.7" />
<line x1="375.20" y1="353.08" x2="375.20" y2="357.88" stroke="#5e8fc2" stroke-width="1.05" />
<line x1="381.80" y1="353.08" x2="381.80" y2="357.88" stroke="#5e8fc2" stroke-width="1.05" />
<line x1="384.50" y1="353.08" x2="384.50" y2="357.88" stroke="#5e8fc2" stroke-width="1.05" />
<text x="364.40" y="384.82" font-size="8.3" text-anchor="end" fill="#222" stroke="#222" stroke-width="0.15" font-weight="normal" >chr19</text>
<rect x="368.10" y="379.32" width="34.57" height="3.8" rx="1.4" fill="#fff"/>
<rect x="368.20" y="379.32" width="1.30" height="3.80" fill="#b9a3c3" stroke="#707070" stroke-width="0.45"/>
<rect x="372.20" y="379.32" width="4.20" height="3.80" fill="#9466a6" stroke="#707070" stroke-width="0.45"/>
<rect x="378.50" y="379.32" width="3.70" height="3.80" fill="#eedcf3" stroke="#707070" stroke-width="0.45"/>
<rect x="382.20" y="379.32" width="1.30" height="3.80" fill="#22b53c" stroke="#707070" stroke-width="0.45"/>
<rect x="383.50" y="379.32" width="1.30" height="3.80" fill="#22b53c" stroke="#707070" stroke-width="0.45"/>
<rect x="384.80" y="379.32" width="2.00" height="3.80" fill="#b9a3c3" stroke="#707070" stroke-width="0.45"/>
<rect x="389.10" y="379.32" width="2.30" height="3.80" fill="#6b3685" stroke="#707070" stroke-width="0.45"/>
<rect x="391.40" y="379.32" width="2.30" height="3.80" fill="#9466a6" stroke="#707070" stroke-width="0.45"/>
<rect x="393.70" y="379.32" width="1.90" height="3.80" fill="#6b3685" stroke="#707070" stroke-width="0.45"/>
<rect x="395.60" y="379.32" width="1.20" height="3.80" fill="#9466a6" stroke="#707070" stroke-width="0.45"/>
<rect x="398.30" y="379.32" width="1.50" height="3.80" fill="#46105f" stroke="#707070" stroke-width="0.45"/>
<rect x="401.00" y="379.32" width="1.50" height="3.80" fill="#46105f" stroke="#707070" stroke-width="0.45"/>
<rect x="368.10" y="379.32" width="34.57" height="3.8" rx="1.4" fill="none" stroke="#4a4a4a" stroke-width="0.7"/>
<line x1="368.40" y1="379.32" x2="368.40" y2="385.32" stroke="#555" stroke-width="0.7" />
<line x1="378.20" y1="372.82" x2="378.20" y2="377.62" stroke="#5e8fc2" stroke-width="1.05" />
<line x1="381.40" y1="372.82" x2="381.40" y2="377.62" stroke="#5e8fc2" stroke-width="1.05" />
<line x1="384.60" y1="372.82" x2="384.60" y2="377.62" stroke="#5e8fc2" stroke-width="1.05" />
<text x="364.40" y="404.56" font-size="8.3" text-anchor="end" fill="#222" stroke="#222" stroke-width="0.15" font-weight="normal" >chr20</text>
<rect x="368.10" y="399.06" width="36.85" height="3.8" rx="1.4" fill="#fff"/>
<rect x="371.00" y="399.06" width="3.10" height="3.80" fill="#46105f" stroke="#707070" stroke-width="0.45"/>
<rect x="375.20" y="399.06" width="3.50" height="3.80" fill="#46105f" stroke="#707070" stroke-width="0.45"/>
<rect x="379.80" y="399.06" width="2.40" height="3.80" fill="#9466a6" stroke="#707070" stroke-width="0.45"/>
<rect x="382.80" y="399.06" width="1.20" height="3.80" fill="#22b53c" stroke="#707070" stroke-width="0.45"/>
<rect x="384.00" y="399.06" width="1.20" height="3.80" fill="#22b53c" stroke="#707070" stroke-width="0.45"/>
<rect x="386.80" y="399.06" width="2.30" height="3.80" fill="#6b3685" stroke="#707070" stroke-width="0.45"/>
<rect x="390.20" y="399.06" width="2.70" height="3.80" fill="#46105f" stroke="#707070" stroke-width="0.45"/>
<rect x="392.90" y="399.06" width="2.70" height="3.80" fill="#9466a6" stroke="#707070" stroke-width="0.45"/>
<rect x="397.20" y="399.06" width="2.60" height="3.80" fill="#46105f" stroke="#707070" stroke-width="0.45"/>
<rect x="399.80" y="399.06" width="2.70" height="3.80" fill="#6b3685" stroke="#707070" stroke-width="0.45"/>
<rect x="368.10" y="399.06" width="36.85" height="3.8" rx="1.4" fill="none" stroke="#4a4a4a" stroke-width="0.7"/>
<line x1="368.40" y1="399.06" x2="368.40" y2="405.06" stroke="#555" stroke-width="0.7" />
<text x="364.40" y="424.30" font-size="8.3" text-anchor="end" fill="#222" stroke="#222" stroke-width="0.15" font-weight="normal" >chr21</text>
<rect x="368.10" y="418.80" width="28.14" height="3.8" rx="1.4" fill="#fff"/>
<rect x="368.20" y="418.80" width="1.30" height="3.80" fill="#eedcf3" stroke="#707070" stroke-width="0.45"/>
<rect x="369.50" y="418.80" width="3.00" height="3.80" fill="#1a5694" stroke="#707070" stroke-width="0.45"/>
<rect x="372.50" y="418.80" width="1.60" height="3.80" fill="#eedcf3" stroke="#707070" stroke-width="0.45"/>
<rect x="374.10" y="418.80" width="1.15" height="3.80" fill="#22b53c" stroke="#707070" stroke-width="0.45"/>
<rect x="375.25" y="418.80" width="1.15" height="3.80" fill="#22b53c" stroke="#707070" stroke-width="0.45"/>
<rect x="377.90" y="418.80" width="4.30" height="3.80" fill="#1a5694" stroke="#707070" stroke-width="0.45"/>
<rect x="384.10" y="418.80" width="2.70" height="3.80" fill="#46105f" stroke="#707070" stroke-width="0.45"/>
<rect x="388.70" y="418.80" width="3.80" height="3.80" fill="#6b3685" stroke="#707070" stroke-width="0.45"/>
<rect x="368.10" y="418.80" width="28.14" height="3.8" rx="1.4" fill="none" stroke="#4a4a4a" stroke-width="0.7"/>
<line x1="368.40" y1="418.80" x2="368.40" y2="424.80" stroke="#555" stroke-width="0.7" />
<line x1="374.50" y1="412.30" x2="374.50" y2="417.10" stroke="#5e8fc2" stroke-width="1.05" />
<line x1="376.00" y1="412.30" x2="376.00" y2="417.10" stroke="#5e8fc2" stroke-width="1.05" />
<line x1="381.00" y1="412.30" x2="381.00" y2="417.10" stroke="#5e8fc2" stroke-width="1.05" />
<text x="364.40" y="444.04" font-size="8.3" text-anchor="end" fill="#222" stroke="#222" stroke-width="0.15" font-weight="normal" >chr22</text>
<rect x="368.10" y="438.54" width="30.01" height="3.8" rx="1.4" fill="#fff"/>
<rect x="369.60" y="438.54" width="2.90" height="3.80" fill="#1a5694" stroke="#707070" stroke-width="0.45"/>
<rect x="372.50" y="438.54" width="1.50" height="3.80" fill="#eedcf3" stroke="#707070" stroke-width="0.45"/>
<rect x="375.40" y="438.54" width="1.70" height="3.80" fill="#22b53c" stroke="#707070" stroke-width="0.45"/>
<rect x="377.10" y="438.54" width="1.70" height="3.80" fill="#22b53c" stroke="#707070" stroke-width="0.45"/>
<rect x="380.70" y="438.54" width="1.90" height="3.80" fill="#6b3685" stroke="#707070" stroke-width="0.45"/>
<rect x="384.00" y="438.54" width="2.40" height="3.80" fill="#9466a6" stroke="#707070" stroke-width="0.45"/>
<rect x="387.90" y="438.54" width="1.90" height="3.80" fill="#9466a6" stroke="#707070" stroke-width="0.45"/>
<rect x="391.30" y="438.54" width="2.40" height="3.80" fill="#6b3685" stroke="#707070" stroke-width="0.45"/>
<rect x="395.10" y="438.54" width="1.40" height="3.80" fill="#46105f" stroke="#707070" stroke-width="0.45"/>
<rect x="368.10" y="438.54" width="30.01" height="3.8" rx="1.4" fill="none" stroke="#4a4a4a" stroke-width="0.7"/>
<line x1="368.40" y1="438.54" x2="368.40" y2="444.54" stroke="#555" stroke-width="0.7" />
<line x1="381.60" y1="432.04" x2="381.60" y2="436.84" stroke="#e8758b" stroke-width="1.05" />
<line x1="383.10" y1="432.04" x2="383.10" y2="436.84" stroke="#5e8fc2" stroke-width="1.05" />
<text x="364.40" y="463.78" font-size="8.3" text-anchor="end" fill="#222" stroke="#222" stroke-width="0.15" font-weight="normal" >chrX</text>
<rect x="368.10" y="458.28" width="90.85" height="3.8" rx="1.4" fill="#fff"/>
<rect x="370.30" y="458.28" width="1.20" height="3.80" fill="#46105f" stroke="#707070" stroke-width="0.45"/>
<rect x="374.00" y="458.28" width="4.30" height="3.80" fill="#9466a6" stroke="#707070" stroke-width="0.45"/>
<rect x="378.30" y="458.28" width="1.70" height="3.80" fill="#b9a3c3" stroke="#707070" stroke-width="0.45"/>
<rect x="380.00" y="458.28" width="2.60" height="3.80" fill="#9466a6" stroke="#707070" stroke-width="0.45"/>
<rect x="382.60" y="458.28" width="2.50" height="3.80" fill="#1a5694" stroke="#707070" stroke-width="0.45"/>
<rect x="386.90" y="458.28" width="3.10" height="3.80" fill="#1a5694" stroke="#707070" stroke-width="0.45"/>
<rect x="392.50" y="458.28" width="3.00" height="3.80" fill="#46105f" stroke="#707070" stroke-width="0.45"/>
<rect x="397.40" y="458.28" width="3.10" height="3.80" fill="#9466a6" stroke="#707070" stroke-width="0.45"/>
<rect x="402.30" y="458.28" width="1.55" height="3.80" fill="#22b53c" stroke="#707070" stroke-width="0.45"/>
<rect x="403.85" y="458.28" width="1.55" height="3.80" fill="#22b53c" stroke="#707070" stroke-width="0.45"/>
<rect x="405.40" y="458.28" width="2.10" height="3.80" fill="#b9a3c3" stroke="#707070" stroke-width="0.45"/>
<rect x="410.30" y="458.28" width="6.80" height="3.80" fill="#1a5694" stroke="#707070" stroke-width="0.45"/>
<rect x="418.30" y="458.28" width="3.70" height="3.80" fill="#1a5694" stroke="#707070" stroke-width="0.45"/>
<rect x="422.00" y="458.28" width="3.70" height="3.80" fill="#46105f" stroke="#707070" stroke-width="0.45"/>
<rect x="425.70" y="458.28" width="1.80" height="3.80" fill="#9466a6" stroke="#707070" stroke-width="0.45"/>
<rect x="428.00" y="458.28" width="1.50" height="3.80" fill="#46105f" stroke="#707070" stroke-width="0.45"/>
<rect x="431.50" y="458.28" width="4.30" height="3.80" fill="#6b3685" stroke="#707070" stroke-width="0.45"/>
<rect x="438.50" y="458.28" width="5.30" height="3.80" fill="#1a5694" stroke="#707070" stroke-width="0.45"/>
<rect x="443.80" y="458.28" width="2.70" height="3.80" fill="#9466a6" stroke="#707070" stroke-width="0.45"/>
<rect x="448.10" y="458.28" width="1.50" height="3.80" fill="#46105f" stroke="#707070" stroke-width="0.45"/>
<rect x="450.80" y="458.28" width="3.00" height="3.80" fill="#1a5694" stroke="#707070" stroke-width="0.45"/>
<rect x="368.10" y="458.28" width="90.85" height="3.8" rx="1.4" fill="none" stroke="#4a4a4a" stroke-width="0.7"/>
<line x1="368.40" y1="458.28" x2="368.40" y2="464.28" stroke="#555" stroke-width="0.7" />
<line x1="375.50" y1="451.78" x2="375.50" y2="456.58" stroke="#5e8fc2" stroke-width="1.05" />
<line x1="376.30" y1="451.78" x2="376.30" y2="456.58" stroke="#5e8fc2" stroke-width="1.05" />
<line x1="384.50" y1="451.78" x2="384.50" y2="456.58" stroke="#5e8fc2" stroke-width="1.05" />
<line x1="387.50" y1="451.78" x2="387.50" y2="456.58" stroke="#5e8fc2" stroke-width="1.05" />
<line x1="415.50" y1="451.78" x2="415.50" y2="456.58" stroke="#5e8fc2" stroke-width="1.05" />
<line x1="421.40" y1="451.78" x2="421.40" y2="456.58" stroke="#5e8fc2" stroke-width="1.05" />
<line x1="443.10" y1="451.78" x2="443.10" y2="456.58" stroke="#5e8fc2" stroke-width="1.05" />
<line x1="426.60" y1="462.08" x2="426.60" y2="464.18" stroke="#666" stroke-width="0.6" />
<text x="364.40" y="483.52" font-size="8.3" text-anchor="end" fill="#222" stroke="#222" stroke-width="0.15" font-weight="normal" >chrY</text>
<rect x="368.10" y="478.02" width="34.75" height="3.8" rx="1.4" fill="#fff"/>
<rect x="368.20" y="478.02" width="1.60" height="3.80" fill="#b9a3c3" stroke="#707070" stroke-width="0.45"/>
<rect x="374.50" y="478.02" width="1.10" height="3.80" fill="#46105f" stroke="#707070" stroke-width="0.45"/>
<rect x="376.40" y="478.02" width="3.40" height="3.80" fill="#9466a6" stroke="#707070" stroke-width="0.45"/>
<rect x="380.60" y="478.02" width="2.70" height="3.80" fill="#9466a6" stroke="#707070" stroke-width="0.45"/>
<rect x="385.20" y="478.02" width="17.00" height="3.80" fill="#eedcf3" stroke="#707070" stroke-width="0.45"/>
<rect x="368.10" y="478.02" width="34.75" height="3.8" rx="1.4" fill="none" stroke="#4a4a4a" stroke-width="0.7"/>
<line x1="368.40" y1="478.02" x2="368.40" y2="484.02" stroke="#555" stroke-width="0.7" />
<text x="436.30" y="15.40" font-size="8.7" text-anchor="start" fill="#222" stroke="#222" stroke-width="0.15" font-weight="normal" font-style="italic">CD58</text>
<text transform="translate(390.10,59.40) scale(0.9,1)" font-size="8.8" text-anchor="start" fill="#222" stroke="#222" stroke-width="0.15" font-weight="normal" font-style="italic">CCR4</text>
<text transform="translate(408.10,35.90) scale(0.95,1)" font-size="8.6" text-anchor="start" fill="#2f6aa6" stroke="#2f6aa6" stroke-width="0.15" font-weight="normal" >IGK</text>
<text transform="translate(453.10,140.10) scale(0.86,1)" font-size="8.8" text-anchor="start" fill="#2f6aa6" stroke="#2f6aa6" stroke-width="0.15" font-weight="normal" >TRB</text>
<text transform="translate(381.50,277.25) scale(0.87,1)" font-size="8.8" text-anchor="start" fill="#2f6aa6" stroke="#2f6aa6" stroke-width="0.15" font-weight="normal" >TRA</text>
<text transform="translate(433.80,277.20) scale(0.92,1)" font-size="8.8" text-anchor="start" fill="#2f6aa6" stroke="#2f6aa6" stroke-width="0.15" font-weight="normal" >IGH</text>
<text transform="translate(366.90,435.40) scale(0.9,1)" font-size="8.9" text-anchor="start" fill="#2f6aa6" stroke="#2f6aa6" stroke-width="0.15" font-weight="normal" >IGL</text>
<text transform="translate(422.80,391.80) scale(0.94,1)" font-size="8.1" text-anchor="start" fill="#222" stroke="#222" stroke-width="0.15" font-weight="normal" >Clustered</text>
<text transform="translate(422.80,399.90) scale(0.94,1)" font-size="8.1" text-anchor="start" fill="#222" stroke="#222" stroke-width="0.15" font-weight="normal" >hypermutation (CHM)</text>
<line x1="425.10" y1="407.80" x2="425.10" y2="412.40" stroke="#e06a80" stroke-width="0.9" />
<text transform="translate(428.10,411.90) scale(0.94,1)" font-size="8.1" text-anchor="start" fill="#222" stroke="#222" stroke-width="0.15" font-weight="normal" >IG/TCR</text>
<line x1="425.10" y1="419.20" x2="425.10" y2="424.10" stroke="#4a84bb" stroke-width="0.9" />
<text transform="translate(428.10,423.80) scale(0.94,1)" font-size="8.1" text-anchor="start" fill="#222" stroke="#222" stroke-width="0.15" font-weight="normal" >non-IG/TCR</text>
<text x="372.00" y="491.80" font-size="8.0" text-anchor="middle" fill="#222" stroke="#222" stroke-width="0.15" font-weight="normal" >0 Mb</text>
<text x="428.40" y="491.80" font-size="8.0" text-anchor="middle" fill="#222" stroke="#222" stroke-width="0.15" font-weight="normal" >100 Mb</text>
<text x="486.90" y="491.80" font-size="8.0" text-anchor="middle" fill="#222" stroke="#222" stroke-width="0.15" font-weight="normal" >200 Mb</text>
<text transform="translate(7.20,508.30) scale(1.1,1)" font-size="10.6" text-anchor="start" fill="#000" font-weight="bold" >C</text>
<text x="32.80" y="527.10" font-size="7.5" text-anchor="start" fill="#222" stroke="#222" stroke-width="0.15" font-weight="normal" >Mutations</text>
<line x1="18.60" y1="528.80" x2="82.50" y2="528.80" stroke="#333" stroke-width="0.8" />
<text x="52.40" y="536.90" font-size="7.5" text-anchor="start" fill="#222" stroke="#222" stroke-width="0.15" font-weight="normal" >CHM</text>
<line x1="39.60" y1="538.30" x2="82.50" y2="538.30" stroke="#333" stroke-width="0.8" />
<text transform="translate(32.6,579.7) rotate(-90)" font-size="7.4" fill="#222">non-CHM</text>
<text transform="translate(53.9,579.7) rotate(-90)" font-size="7.3" fill="#d9284e">IG/TCR</text>
<text transform="translate(74.9,579.7) rotate(-90)" font-size="7.1" fill="#3a78b5">non-IG/TCR</text>
<rect x="18.40" y="581.50" width="21.60" height="7.50" fill="#ffffff" />
<rect x="40.00" y="581.50" width="21.50" height="7.50" fill="#0e6b50" />
<rect x="61.50" y="581.50" width="21.50" height="7.50" fill="#9fd0bd" />
<rect x="18.4" y="581.5" width="64.6" height="7.5" fill="none" stroke="#555" stroke-width="0.8"/>
<rect x="18.40" y="592.70" width="21.60" height="7.14" fill="#e8a3b0" />
<rect x="40.00" y="592.70" width="21.50" height="7.14" fill="#ffffff" />
<rect x="61.50" y="592.70" width="21.50" height="7.14" fill="#ffffff" />
<rect x="18.40" y="599.84" width="21.60" height="7.14" fill="#e9a8b5" />
<rect x="40.00" y="599.84" width="21.50" height="7.14" fill="#c8102e" />
<rect x="61.50" y="599.84" width="21.50" height="7.14" fill="#e08494" />
<rect x="18.40" y="606.99" width="21.60" height="7.14" fill="#ebb2bd" />
<rect x="40.00" y="606.99" width="21.50" height="7.14" fill="#ffffff" />
<rect x="61.50" y="606.99" width="21.50" height="7.14" fill="#f6d8de" />
<rect x="18.40" y="614.13" width="21.60" height="7.14" fill="#eebec7" />
<rect x="40.00" y="614.13" width="21.50" height="7.14" fill="#ffffff" />
<rect x="61.50" y="614.13" width="21.50" height="7.14" fill="#ffffff" />
<rect x="18.40" y="621.27" width="21.60" height="7.14" fill="#f1cad1" />
<rect x="40.00" y="621.27" width="21.50" height="7.14" fill="#ffffff" />
<rect x="61.50" y="621.27" width="21.50" height="7.14" fill="#ffffff" />
<rect x="18.40" y="628.42" width="21.60" height="7.14" fill="#f3d5da" />
<rect x="40.00" y="628.42" width="21.50" height="7.14" fill="#ffffff" />
<rect x="61.50" y="628.42" width="21.50" height="7.14" fill="#ffffff" />
<rect x="18.40" y="635.56" width="21.60" height="7.14" fill="#f8e7ea" />
<rect x="40.00" y="635.56" width="21.50" height="7.14" fill="#df7384" />
<rect x="61.50" y="635.56" width="21.50" height="7.14" fill="#d43d55" />
<rect x="18.4" y="592.7" width="64.6" height="50.0" fill="none" stroke="#555" stroke-width="0.8"/>
<rect x="18.40" y="650.20" width="21.60" height="6.80" fill="#b9dccd" />
<rect x="40.00" y="650.20" width="21.50" height="6.80" fill="#dcefe8" />
<rect x="61.50" y="650.20" width="21.50" height="6.80" fill="#f0f5f2" />
<rect x="18.4" y="650.2" width="64.6" height="6.8" fill="none" stroke="#555" stroke-width="0.8"/>
<rect x="18.40" y="660.70" width="21.60" height="7.20" fill="#3f77aa" />
<rect x="40.00" y="660.70" width="21.50" height="7.20" fill="#a2bfd8" />
<rect x="61.50" y="660.70" width="21.50" height="7.20" fill="#3f77aa" />
<rect x="18.40" y="667.90" width="21.60" height="7.20" fill="#d3dfea" />
<rect x="40.00" y="667.90" width="21.50" height="7.20" fill="#0d5090" />
<rect x="61.50" y="667.90" width="21.50" height="7.20" fill="#d3dfea" />
<rect x="18.40" y="675.10" width="21.60" height="7.20" fill="#5585b5" />
<rect x="40.00" y="675.10" width="21.50" height="7.20" fill="#ffffff" />
<rect x="61.50" y="675.10" width="21.50" height="7.20" fill="#6f97c0" />
<rect x="18.4" y="660.7" width="64.6" height="21.6" fill="none" stroke="#333" stroke-width="0.8"/>
<text transform="translate(86.70,588.50) scale(0.94,1)" font-size="8.1" text-anchor="start" fill="#222" stroke="#222" stroke-width="0.15" font-weight="normal" >Error</text>
<text transform="translate(86.70,599.30) scale(0.94,1)" font-size="8.1" text-anchor="start" fill="#222" stroke="#222" stroke-width="0.15" font-weight="normal" >Signature A</text>
<text transform="translate(86.70,606.45) scale(0.94,1)" font-size="8.1" text-anchor="start" fill="#222" stroke="#222" stroke-width="0.15" font-weight="normal" >Signature B</text>
<text transform="translate(86.70,613.60) scale(0.94,1)" font-size="8.1" text-anchor="start" fill="#222" stroke="#222" stroke-width="0.15" font-weight="normal" >Signature C</text>
<text transform="translate(86.70,620.75) scale(0.94,1)" font-size="8.1" text-anchor="start" fill="#222" stroke="#222" stroke-width="0.15" font-weight="normal" >Signature D</text>
<text transform="translate(86.70,627.90) scale(0.94,1)" font-size="8.1" text-anchor="start" fill="#222" stroke="#222" stroke-width="0.15" font-weight="normal" >Signature E</text>
<text transform="translate(86.70,635.05) scale(0.94,1)" font-size="8.1" text-anchor="start" fill="#222" stroke="#222" stroke-width="0.15" font-weight="normal" >Signature F</text>
<text transform="translate(86.70,642.20) scale(0.94,1)" font-size="8.1" text-anchor="start" fill="#222" stroke="#222" stroke-width="0.15" font-weight="normal" >Signature G</text>
<text transform="translate(86.70,656.10) scale(0.94,1)" font-size="8.1" text-anchor="start" fill="#222" stroke="#222" stroke-width="0.15" font-weight="normal" >Error</text>
<text transform="translate(86.70,667.00) scale(0.94,1)" font-size="8.1" text-anchor="start" fill="#222" stroke="#222" stroke-width="0.15" font-weight="normal" >CHM-signature A</text>
<text transform="translate(86.70,674.15) scale(0.94,1)" font-size="8.1" text-anchor="start" fill="#222" stroke="#222" stroke-width="0.15" font-weight="normal" >CHM-signature B</text>
<text transform="translate(86.70,681.30) scale(0.94,1)" font-size="8.1" text-anchor="start" fill="#222" stroke="#222" stroke-width="0.15" font-weight="normal" >CHM-signature C</text>
<line x1="147.30" y1="582.30" x2="147.30" y2="642.30" stroke="#333" stroke-width="0.8" />
<line x1="147.30" y1="650.60" x2="147.30" y2="681.30" stroke="#333" stroke-width="0.8" />
<text transform="translate(162.0,583.7) rotate(90)" font-size="7.6" fill="#222">Whole-genome</text>
<text transform="translate(153.4,583.7) rotate(90)" font-size="7.6" fill="#222">signatures</text>
<text transform="translate(162.0,648.0) rotate(90)" font-size="7.6" fill="#222">CHM site</text>
<text transform="translate(153.4,648.0) rotate(90)" font-size="7.6" fill="#222">signatures</text>
<defs><linearGradient id="gT" x1="0" x2="1"><stop offset="0" stop-color="#ffffff"/><stop offset="1" stop-color="#0b6a4e"/></linearGradient><linearGradient id="gR" x1="0" x2="1"><stop offset="0" stop-color="#ffffff"/><stop offset="1" stop-color="#c8102e"/></linearGradient><linearGradient id="gB" x1="0" x2="1"><stop offset="0" stop-color="#ffffff"/><stop offset="1" stop-color="#0d4f8f"/></linearGradient></defs>
<text x="114.75" y="530.60" font-size="7.6" text-anchor="start" fill="#222" stroke="#222" stroke-width="0.15" font-weight="normal" >Error</text>
<rect x="121.00" y="533.10" width="34.00" height="3.40" fill="url(#gT)" />
<text x="119.40" y="543.50" font-size="7.6" text-anchor="middle" fill="#222" stroke="#222" stroke-width="0.15" font-weight="normal" >0</text>
<text x="158.10" y="543.50" font-size="7.6" text-anchor="end" fill="#222" stroke="#222" stroke-width="0.15" font-weight="normal" >0.3</text>
<text x="114.40" y="552.80" font-size="7.6" text-anchor="start" fill="#222" stroke="#222" stroke-width="0.15" font-weight="normal" >Contribution</text>
<rect x="121.00" y="555.60" width="34.00" height="3.80" fill="url(#gR)" />
<rect x="121.00" y="561.90" width="34.00" height="3.70" fill="url(#gB)" />
<line x1="132.30" y1="533.10" x2="132.30" y2="536.50" stroke="#fff" stroke-width="0.5" />
<line x1="132.30" y1="555.60" x2="132.30" y2="559.40" stroke="#fff" stroke-width="0.5" />
<line x1="132.30" y1="561.90" x2="132.30" y2="565.60" stroke="#fff" stroke-width="0.5" />
<line x1="143.60" y1="533.10" x2="143.60" y2="536.50" stroke="#fff" stroke-width="0.5" />
<line x1="143.60" y1="555.60" x2="143.60" y2="559.40" stroke="#fff" stroke-width="0.5" />
<line x1="143.60" y1="561.90" x2="143.60" y2="565.60" stroke="#fff" stroke-width="0.5" />
<rect x="154.20" y="533.10" width="0.90" height="3.40" fill="#074a36" />
<rect x="154.20" y="555.60" width="0.90" height="3.80" fill="#8a0a20" />
<rect x="154.20" y="561.90" width="0.90" height="3.70" fill="#083a6a" />
<text x="119.40" y="572.50" font-size="7.6" text-anchor="middle" fill="#222" stroke="#222" stroke-width="0.15" font-weight="normal" >0</text>
<text x="153.50" y="572.50" font-size="7.6" text-anchor="middle" fill="#222" stroke="#222" stroke-width="0.15" font-weight="normal" >1</text>
<text transform="translate(211.80,508.70) scale(1.15,1)" font-size="10.6" text-anchor="start" fill="#000" font-weight="bold" >D</text>
<text transform="translate(227.90,515.20) scale(0.94,1)" font-size="8.5" text-anchor="start" fill="#222" stroke="#222" stroke-width="0.15" font-weight="normal" >CHM site signature</text>
<rect x="245.80" y="526.30" width="42.10" height="2.20" fill="#0ea6dc" />
<text x="266.85" y="524.60" font-size="8.4" text-anchor="middle" fill="#222" stroke="#222" stroke-width="0.15" font-weight="normal" letter-spacing="0.3">C&gt;A</text>
<rect x="290.42" y="526.30" width="42.10" height="2.20" fill="#111111" />
<text x="311.47" y="524.60" font-size="8.4" text-anchor="middle" fill="#222" stroke="#222" stroke-width="0.15" font-weight="normal" letter-spacing="0.3">C&gt;G</text>
<rect x="335.04" y="526.30" width="42.10" height="2.20" fill="#d52019" />
<text x="356.09" y="524.60" font-size="8.4" text-anchor="middle" fill="#222" stroke="#222" stroke-width="0.15" font-weight="normal" letter-spacing="0.3">C&gt;T</text>
<rect x="379.66" y="526.30" width="42.10" height="2.20" fill="#c4c2c3" />
<text x="400.71" y="524.60" font-size="8.4" text-anchor="middle" fill="#222" stroke="#222" stroke-width="0.15" font-weight="normal" letter-spacing="0.3">T&gt;A</text>
<rect x="424.28" y="526.30" width="42.10" height="2.20" fill="#8dc052" />
<text x="445.33" y="524.60" font-size="8.4" text-anchor="middle" fill="#222" stroke="#222" stroke-width="0.15" font-weight="normal" letter-spacing="0.3">T&gt;C</text>
<rect x="468.90" y="526.30" width="42.10" height="2.20" fill="#e7bdbd" />
<text x="489.95" y="524.60" font-size="8.4" text-anchor="middle" fill="#222" stroke="#222" stroke-width="0.15" font-weight="normal" letter-spacing="0.3">T&gt;G</text>
<rect x="245.1" y="531.40" width="266.9" height="51.80" fill="none" stroke="#3c3c3c" stroke-width="0.9"/>
<path d="M245.1 544.35h1.6M512 544.35h-1.6M245.1 557.30h1.6M512 557.30h-1.6M245.1 570.25h1.6M512 570.25h-1.6" stroke="#444" stroke-width="0.8"/>
<path d="M246.10 583.20v-0.8M248.88 583.20v-0.8M251.66 583.20v-0.8M254.45 583.20v-0.8M257.23 583.20v-0.8M260.01 583.20v-0.8M262.79 583.20v-0.8M265.57 583.20v-0.8M268.36 583.20v-0.8M271.14 583.20v-0.8M273.92 583.20v-0.8M276.70 583.20v-0.8M279.48 583.20v-0.8M282.27 583.20v-0.8M285.05 583.20v-0.8M287.83 583.20v-0.8M290.61 583.20v-0.8M293.39 583.20v-0.8M296.18 583.20v-0.8M298.96 583.20v-0.8M301.74 583.20v-0.8M304.52 583.20v-0.8M307.30 583.20v-0.8M310.09 583.20v-0.8M312.87 583.20v-0.8M315.65 583.20v-0.8M318.43 583.20v-0.8M321.21 583.20v-0.8M324.00 583.20v-0.8M326.78 583.20v-0.8M329.56 583.20v-0.8M332.34 583.20v-0.8M335.12 583.20v-0.8M337.91 583.20v-0.8M340.69 583.20v-0.8M343.47 583.20v-0.8M346.25 583.20v-0.8M349.03 583.20v-0.8M351.82 583.20v-0.8M354.60 583.20v-0.8M357.38 583.20v-0.8M360.16 583.20v-0.8M362.94 583.20v-0.8M365.73 583.20v-0.8M368.51 583.20v-0.8M371.29 583.20v-0.8M374.07 583.20v-0.8M376.85 583.20v-0.8M379.64 583.20v-0.8M382.42 583.20v-0.8M385.20 583.20v-0.8M387.98 583.20v-0.8M390.76 583.20v-0.8M393.55 583.20v-0.8M396.33 583.20v-0.8M399.11 583.20v-0.8M401.89 583.20v-0.8M404.67 583.20v-0.8M407.46 583.20v-0.8M410.24 583.20v-0.8M413.02 583.20v-0.8M415.80 583.20v-0.8M418.58 583.20v-0.8M421.37 583.20v-0.8M424.15 583.20v-0.8M426.93 583.20v-0.8M429.71 583.20v-0.8M432.49 583.20v-0.8M435.28 583.20v-0.8M438.06 583.20v-0.8M440.84 583.20v-0.8M443.62 583.20v-0.8M446.40 583.20v-0.8M449.19 583.20v-0.8M451.97 583.20v-0.8M454.75 583.20v-0.8M457.53 583.20v-0.8M460.31 583.20v-0.8M463.10 583.20v-0.8M465.88 583.20v-0.8M468.66 583.20v-0.8M471.44 583.20v-0.8M474.22 583.20v-0.8M477.01 583.20v-0.8M479.79 583.20v-0.8M482.57 583.20v-0.8M485.35 583.20v-0.8M488.13 583.20v-0.8M490.92 583.20v-0.8M493.70 583.20v-0.8M496.48 583.20v-0.8M499.26 583.20v-0.8M502.04 583.20v-0.8M504.83 583.20v-0.8M507.61 583.20v-0.8M510.39 583.20v-0.8" stroke="#777" stroke-width="0.6"/>
<path d="M245.42 583.50h1.36v-7.50h-1.36zM248.20 583.50h1.36v-4.20h-1.36zM250.98 583.50h1.36v-2.30h-1.36zM253.77 583.50h1.36v-2.30h-1.36zM256.55 583.50h1.36v-2.00h-1.36zM259.33 583.50h1.36v-1.60h-1.36zM262.11 583.50h1.36v-1.00h-1.36zM264.89 583.50h1.36v-2.90h-1.36zM267.68 583.50h1.36v-2.50h-1.36zM270.46 583.50h1.36v-1.60h-1.36zM273.24 583.50h1.36v-1.00h-1.36zM276.02 583.50h1.36v-3.30h-1.36zM278.80 583.50h1.36v-2.90h-1.36zM281.59 583.50h1.36v-1.20h-1.36zM284.37 583.50h1.36v-1.00h-1.36zM287.15 583.50h1.36v-3.30h-1.36z" fill="#1aa8dd"/>
<path d="M289.93 583.50h1.36v-5.50h-1.36zM292.71 583.50h1.36v-2.30h-1.36zM295.50 583.50h1.36v-1.60h-1.36zM298.28 583.50h1.36v-2.90h-1.36zM301.06 583.50h1.36v-1.00h-1.36zM303.84 583.50h1.36v-1.20h-1.36zM306.62 583.50h1.36v-1.60h-1.36zM309.41 583.50h1.36v-1.00h-1.36zM312.19 583.50h1.36v-0.80h-1.36zM314.97 583.50h1.36v-1.10h-1.36zM317.75 583.50h1.36v-0.80h-1.36zM320.53 583.50h1.36v-1.60h-1.36zM323.32 583.50h1.36v-1.60h-1.36zM326.10 583.50h1.36v-2.00h-1.36zM328.88 583.50h1.36v-1.00h-1.36zM331.66 583.50h1.36v-4.20h-1.36z" fill="#111111"/>
<path d="M334.44 583.50h1.36v-5.90h-1.36zM337.23 583.50h1.36v-2.90h-1.36zM340.01 583.50h1.36v-1.00h-1.36zM342.79 583.50h1.36v-2.90h-1.36zM345.57 583.50h1.36v-5.90h-1.36zM348.35 583.50h1.36v-3.80h-1.36zM351.14 583.50h1.36v-1.00h-1.36zM353.92 583.50h1.36v-2.90h-1.36zM356.70 583.50h1.36v-1.60h-1.36zM359.48 583.50h1.36v-1.60h-1.36zM362.26 583.50h1.36v-0.50h-1.36zM365.05 583.50h1.36v-0.50h-1.36zM367.83 583.50h1.36v-10.10h-1.36zM370.61 583.50h1.36v-2.50h-1.36zM373.39 583.50h1.36v-1.00h-1.36zM376.17 583.50h1.36v-18.60h-1.36z" fill="#d8231d"/>
<path d="M378.96 583.50h1.36v-38.90h-1.36zM381.74 583.50h1.36v-3.30h-1.36zM384.52 583.50h1.36v-11.10h-1.36zM387.30 583.50h1.36v-19.90h-1.36zM390.08 583.50h1.36v-12.10h-1.36zM392.87 583.50h1.36v-2.00h-1.36zM395.65 583.50h1.36v-7.50h-1.36zM398.43 583.50h1.36v-5.50h-1.36zM401.21 583.50h1.36v-13.00h-1.36zM403.99 583.50h1.36v-0.70h-1.36zM406.78 583.50h1.36v-4.20h-1.36zM409.56 583.50h1.36v-6.80h-1.36zM412.34 583.50h1.36v-22.10h-1.36zM415.12 583.50h1.36v-2.50h-1.36zM417.90 583.50h1.36v-6.80h-1.36zM420.69 583.50h1.36v-14.70h-1.36z" fill="#c4c2c3"/>
<path d="M423.47 583.50h1.36v-39.50h-1.36zM426.25 583.50h1.36v-5.10h-1.36zM429.03 583.50h1.36v-6.80h-1.36zM431.81 583.50h1.36v-31.70h-1.36zM434.60 583.50h1.36v-13.40h-1.36zM437.38 583.50h1.36v-3.80h-1.36zM440.16 583.50h1.36v-1.60h-1.36zM442.94 583.50h1.36v-16.00h-1.36zM445.72 583.50h1.36v-10.80h-1.36zM448.51 583.50h1.36v-3.60h-1.36zM451.29 583.50h1.36v-5.10h-1.36zM454.07 583.50h1.36v-14.00h-1.36zM456.85 583.50h1.36v-21.90h-1.36zM459.63 583.50h1.36v-11.20h-1.36zM462.42 583.50h1.36v-14.00h-1.36zM465.20 583.50h1.36v-31.70h-1.36z" fill="#8dc052"/>
<path d="M467.98 583.50h1.36v-29.70h-1.36zM470.76 583.50h1.36v-7.80h-1.36zM473.54 583.50h1.36v-5.10h-1.36zM476.33 583.50h1.36v-16.60h-1.36zM479.11 583.50h1.36v-2.90h-1.36zM481.89 583.50h1.36v-4.90h-1.36zM484.67 583.50h1.36v-5.10h-1.36zM487.45 583.50h1.36v-6.20h-1.36zM490.24 583.50h1.36v-7.80h-1.36zM493.02 583.50h1.36v-2.90h-1.36zM495.80 583.50h1.36v-4.20h-1.36zM498.58 583.50h1.36v-6.20h-1.36zM501.36 583.50h1.36v-15.60h-1.36zM504.15 583.50h1.36v-5.10h-1.36zM506.93 583.50h1.36v-4.20h-1.36zM509.71 583.50h1.36v-24.50h-1.36z" fill="#e9bcbc"/>
<text transform="translate(241.50,538.20) scale(0.91,1)" font-size="8.6" text-anchor="end" fill="#222" stroke="#222" stroke-width="0.15" font-weight="normal" >7.5</text>
<text transform="translate(241.50,561.10) scale(0.91,1)" font-size="8.6" text-anchor="end" fill="#222" stroke="#222" stroke-width="0.15" font-weight="normal" >3.8</text>
<text transform="translate(241.50,583.20) scale(0.91,1)" font-size="8.6" text-anchor="end" fill="#222" stroke="#222" stroke-width="0.15" font-weight="normal" >0</text>
<text transform="translate(246.90,540.40) scale(0.94,1)" font-size="8.5" text-anchor="start" fill="#222" stroke="#222" stroke-width="0.15" font-weight="normal" >CHM-signature A</text>
<text transform="translate(314.90,540.40) scale(0.93,1)" font-size="8.5" text-anchor="start" fill="#222" stroke="#222" stroke-width="0.15" font-weight="normal" >Polη 29.28%</text>
<text transform="translate(509.40,540.00) scale(0.927,1)" font-size="8.5" text-anchor="end" fill="#222" stroke="#222" stroke-width="0.15" font-weight="normal" >Cosine similarity 0.90</text>
<rect x="245.1" y="588.20" width="266.9" height="51.80" fill="none" stroke="#3c3c3c" stroke-width="0.9"/>
<path d="M245.1 601.15h1.6M512 601.15h-1.6M245.1 614.10h1.6M512 614.10h-1.6M245.1 627.05h1.6M512 627.05h-1.6" stroke="#444" stroke-width="0.8"/>
<path d="M246.10 640.00v-0.8M248.88 640.00v-0.8M251.66 640.00v-0.8M254.45 640.00v-0.8M257.23 640.00v-0.8M260.01 640.00v-0.8M262.79 640.00v-0.8M265.57 640.00v-0.8M268.36 640.00v-0.8M271.14 640.00v-0.8M273.92 640.00v-0.8M276.70 640.00v-0.8M279.48 640.00v-0.8M282.27 640.00v-0.8M285.05 640.00v-0.8M287.83 640.00v-0.8M290.61 640.00v-0.8M293.39 640.00v-0.8M296.18 640.00v-0.8M298.96 640.00v-0.8M301.74 640.00v-0.8M304.52 640.00v-0.8M307.30 640.00v-0.8M310.09 640.00v-0.8M312.87 640.00v-0.8M315.65 640.00v-0.8M318.43 640.00v-0.8M321.21 640.00v-0.8M324.00 640.00v-0.8M326.78 640.00v-0.8M329.56 640.00v-0.8M332.34 640.00v-0.8M335.12 640.00v-0.8M337.91 640.00v-0.8M340.69 640.00v-0.8M343.47 640.00v-0.8M346.25 640.00v-0.8M349.03 640.00v-0.8M351.82 640.00v-0.8M354.60 640.00v-0.8M357.38 640.00v-0.8M360.16 640.00v-0.8M362.94 640.00v-0.8M365.73 640.00v-0.8M368.51 640.00v-0.8M371.29 640.00v-0.8M374.07 640.00v-0.8M376.85 640.00v-0.8M379.64 640.00v-0.8M382.42 640.00v-0.8M385.20 640.00v-0.8M387.98 640.00v-0.8M390.76 640.00v-0.8M393.55 640.00v-0.8M396.33 640.00v-0.8M399.11 640.00v-0.8M401.89 640.00v-0.8M404.67 640.00v-0.8M407.46 640.00v-0.8M410.24 640.00v-0.8M413.02 640.00v-0.8M415.80 640.00v-0.8M418.58 640.00v-0.8M421.37 640.00v-0.8M424.15 640.00v-0.8M426.93 640.00v-0.8M429.71 640.00v-0.8M432.49 640.00v-0.8M435.28 640.00v-0.8M438.06 640.00v-0.8M440.84 640.00v-0.8M443.62 640.00v-0.8M446.40 640.00v-0.8M449.19 640.00v-0.8M451.97 640.00v-0.8M454.75 640.00v-0.8M457.53 640.00v-0.8M460.31 640.00v-0.8M463.10 640.00v-0.8M465.88 640.00v-0.8M468.66 640.00v-0.8M471.44 640.00v-0.8M474.22 640.00v-0.8M477.01 640.00v-0.8M479.79 640.00v-0.8M482.57 640.00v-0.8M485.35 640.00v-0.8M488.13 640.00v-0.8M490.92 640.00v-0.8M493.70 640.00v-0.8M496.48 640.00v-0.8M499.26 640.00v-0.8M502.04 640.00v-0.8M504.83 640.00v-0.8M507.61 640.00v-0.8M510.39 640.00v-0.8" stroke="#777" stroke-width="0.6"/>
<path d="M245.42 640.30h1.36v-0.70h-1.36zM248.20 640.30h1.36v-0.70h-1.36zM250.98 640.30h1.36v-0.70h-1.36zM253.77 640.30h1.36v-0.70h-1.36zM256.55 640.30h1.36v-0.70h-1.36zM259.33 640.30h1.36v-0.70h-1.36zM262.11 640.30h1.36v-0.70h-1.36zM264.89 640.30h1.36v-0.70h-1.36zM267.68 640.30h1.36v-0.70h-1.36zM270.46 640.30h1.36v-4.30h-1.36zM273.24 640.30h1.36v-0.70h-1.36zM276.02 640.30h1.36v-4.30h-1.36zM278.80 640.30h1.36v-0.70h-1.36zM281.59 640.30h1.36v-0.70h-1.36zM284.37 640.30h1.36v-0.70h-1.36zM287.15 640.30h1.36v-0.70h-1.36z" fill="#1aa8dd"/>
<path d="M289.93 640.30h1.36v-1.30h-1.36zM292.71 640.30h1.36v-0.70h-1.36zM295.50 640.30h1.36v-0.70h-1.36zM298.28 640.30h1.36v-2.30h-1.36zM301.06 640.30h1.36v-0.70h-1.36zM303.84 640.30h1.36v-1.30h-1.36zM306.62 640.30h1.36v-0.70h-1.36zM309.41 640.30h1.36v-1.30h-1.36zM312.19 640.30h1.36v-0.70h-1.36zM314.97 640.30h1.36v-4.60h-1.36zM317.75 640.30h1.36v-0.70h-1.36zM320.53 640.30h1.36v-26.80h-1.36zM323.32 640.30h1.36v-0.70h-1.36zM326.10 640.30h1.36v-0.70h-1.36zM328.88 640.30h1.36v-0.70h-1.36zM331.66 640.30h1.36v-1.00h-1.36z" fill="#111111"/>
<path d="M334.44 640.30h1.36v-0.70h-1.36zM337.23 640.30h1.36v-4.90h-1.36zM340.01 640.30h1.36v-0.70h-1.36zM342.79 640.30h1.36v-4.90h-1.36zM345.57 640.30h1.36v-0.70h-1.36zM348.35 640.30h1.36v-1.60h-1.36zM351.14 640.30h1.36v-0.70h-1.36zM353.92 640.30h1.36v-3.60h-1.36zM356.70 640.30h1.36v-7.00h-1.36zM359.48 640.30h1.36v-23.60h-1.36zM362.26 640.30h1.36v-0.70h-1.36zM365.05 640.30h1.36v-40.50h-1.36zM367.83 640.30h1.36v-0.70h-1.36zM370.61 640.30h1.36v-2.70h-1.36zM373.39 640.30h1.36v-0.70h-1.36zM376.17 640.30h1.36v-0.70h-1.36z" fill="#d8231d"/>
<path d="M378.96 640.30h1.36v-0.55h-1.36zM381.74 640.30h1.36v-0.55h-1.36zM384.52 640.30h1.36v-0.55h-1.36zM387.30 640.30h1.36v-0.55h-1.36zM390.08 640.30h1.36v-0.55h-1.36zM392.87 640.30h1.36v-0.55h-1.36zM395.65 640.30h1.36v-0.55h-1.36zM398.43 640.30h1.36v-0.55h-1.36zM401.21 640.30h1.36v-0.55h-1.36zM403.99 640.30h1.36v-0.55h-1.36zM406.78 640.30h1.36v-0.55h-1.36zM409.56 640.30h1.36v-0.55h-1.36zM412.34 640.30h1.36v-0.55h-1.36zM415.12 640.30h1.36v-0.55h-1.36zM417.90 640.30h1.36v-0.55h-1.36zM420.69 640.30h1.36v-0.55h-1.36z" fill="#c4c2c3"/>
<path d="M423.47 640.30h1.36v-0.55h-1.36zM426.25 640.30h1.36v-0.55h-1.36zM429.03 640.30h1.36v-0.55h-1.36zM431.81 640.30h1.36v-0.55h-1.36zM434.60 640.30h1.36v-0.55h-1.36zM437.38 640.30h1.36v-0.55h-1.36zM440.16 640.30h1.36v-0.55h-1.36zM442.94 640.30h1.36v-0.55h-1.36zM445.72 640.30h1.36v-0.55h-1.36zM448.51 640.30h1.36v-0.55h-1.36zM451.29 640.30h1.36v-0.55h-1.36zM454.07 640.30h1.36v-0.55h-1.36zM456.85 640.30h1.36v-0.55h-1.36zM459.63 640.30h1.36v-0.55h-1.36zM462.42 640.30h1.36v-0.55h-1.36zM465.20 640.30h1.36v-0.55h-1.36z" fill="#8dc052"/>
<path d="M467.98 640.30h1.36v-0.55h-1.36zM470.76 640.30h1.36v-0.55h-1.36zM473.54 640.30h1.36v-0.55h-1.36zM476.33 640.30h1.36v-0.55h-1.36zM479.11 640.30h1.36v-0.55h-1.36zM481.89 640.30h1.36v-0.55h-1.36zM484.67 640.30h1.36v-0.55h-1.36zM487.45 640.30h1.36v-0.55h-1.36zM490.24 640.30h1.36v-0.55h-1.36zM493.02 640.30h1.36v-0.55h-1.36zM495.80 640.30h1.36v-0.55h-1.36zM498.58 640.30h1.36v-0.55h-1.36zM501.36 640.30h1.36v-0.55h-1.36zM504.15 640.30h1.36v-0.55h-1.36zM506.93 640.30h1.36v-0.55h-1.36zM509.71 640.30h1.36v-0.55h-1.36z" fill="#e9bcbc"/>
<text transform="translate(241.50,595.00) scale(0.91,1)" font-size="8.6" text-anchor="end" fill="#222" stroke="#222" stroke-width="0.15" font-weight="normal" >34.5</text>
<text transform="translate(241.50,617.90) scale(0.91,1)" font-size="8.6" text-anchor="end" fill="#222" stroke="#222" stroke-width="0.15" font-weight="normal" >17.3</text>
<text transform="translate(241.50,640.00) scale(0.91,1)" font-size="8.6" text-anchor="end" fill="#222" stroke="#222" stroke-width="0.15" font-weight="normal" >0</text>
<text transform="translate(246.90,597.20) scale(0.94,1)" font-size="8.5" text-anchor="start" fill="#222" stroke="#222" stroke-width="0.15" font-weight="normal" >CHM-signature B</text>
<text transform="translate(314.90,597.20) scale(0.93,1)" font-size="8.5" text-anchor="start" fill="#222" stroke="#222" stroke-width="0.15" font-weight="normal" >cAID</text>
<text transform="translate(509.40,596.80) scale(0.927,1)" font-size="8.5" text-anchor="end" fill="#222" stroke="#222" stroke-width="0.15" font-weight="normal" >Cosine similarity 0.69</text>
<rect x="245.1" y="644.70" width="266.9" height="51.80" fill="none" stroke="#3c3c3c" stroke-width="0.9"/>
<path d="M245.1 657.65h1.6M512 657.65h-1.6M245.1 670.60h1.6M512 670.60h-1.6M245.1 683.55h1.6M512 683.55h-1.6" stroke="#444" stroke-width="0.8"/>
<path d="M246.10 696.50v-0.8M248.88 696.50v-0.8M251.66 696.50v-0.8M254.45 696.50v-0.8M257.23 696.50v-0.8M260.01 696.50v-0.8M262.79 696.50v-0.8M265.57 696.50v-0.8M268.36 696.50v-0.8M271.14 696.50v-0.8M273.92 696.50v-0.8M276.70 696.50v-0.8M279.48 696.50v-0.8M282.27 696.50v-0.8M285.05 696.50v-0.8M287.83 696.50v-0.8M290.61 696.50v-0.8M293.39 696.50v-0.8M296.18 696.50v-0.8M298.96 696.50v-0.8M301.74 696.50v-0.8M304.52 696.50v-0.8M307.30 696.50v-0.8M310.09 696.50v-0.8M312.87 696.50v-0.8M315.65 696.50v-0.8M318.43 696.50v-0.8M321.21 696.50v-0.8M324.00 696.50v-0.8M326.78 696.50v-0.8M329.56 696.50v-0.8M332.34 696.50v-0.8M335.12 696.50v-0.8M337.91 696.50v-0.8M340.69 696.50v-0.8M343.47 696.50v-0.8M346.25 696.50v-0.8M349.03 696.50v-0.8M351.82 696.50v-0.8M354.60 696.50v-0.8M357.38 696.50v-0.8M360.16 696.50v-0.8M362.94 696.50v-0.8M365.73 696.50v-0.8M368.51 696.50v-0.8M371.29 696.50v-0.8M374.07 696.50v-0.8M376.85 696.50v-0.8M379.64 696.50v-0.8M382.42 696.50v-0.8M385.20 696.50v-0.8M387.98 696.50v-0.8M390.76 696.50v-0.8M393.55 696.50v-0.8M396.33 696.50v-0.8M399.11 696.50v-0.8M401.89 696.50v-0.8M404.67 696.50v-0.8M407.46 696.50v-0.8M410.24 696.50v-0.8M413.02 696.50v-0.8M415.80 696.50v-0.8M418.58 696.50v-0.8M421.37 696.50v-0.8M424.15 696.50v-0.8M426.93 696.50v-0.8M429.71 696.50v-0.8M432.49 696.50v-0.8M435.28 696.50v-0.8M438.06 696.50v-0.8M440.84 696.50v-0.8M443.62 696.50v-0.8M446.40 696.50v-0.8M449.19 696.50v-0.8M451.97 696.50v-0.8M454.75 696.50v-0.8M457.53 696.50v-0.8M460.31 696.50v-0.8M463.10 696.50v-0.8M465.88 696.50v-0.8M468.66 696.50v-0.8M471.44 696.50v-0.8M474.22 696.50v-0.8M477.01 696.50v-0.8M479.79 696.50v-0.8M482.57 696.50v-0.8M485.35 696.50v-0.8M488.13 696.50v-0.8M490.92 696.50v-0.8M493.70 696.50v-0.8M496.48 696.50v-0.8M499.26 696.50v-0.8M502.04 696.50v-0.8M504.83 696.50v-0.8M507.61 696.50v-0.8M510.39 696.50v-0.8" stroke="#777" stroke-width="0.6"/>
<path d="M245.42 696.80h1.36v-6.20h-1.36zM248.20 696.80h1.36v-5.10h-1.36zM250.98 696.80h1.36v-3.60h-1.36zM253.77 696.80h1.36v-14.30h-1.36zM256.55 696.80h1.36v-3.20h-1.36zM259.33 696.80h1.36v-2.50h-1.36zM262.11 696.80h1.36v-1.00h-1.36zM264.89 696.80h1.36v-8.40h-1.36zM267.68 696.80h1.36v-3.20h-1.36zM270.46 696.80h1.36v-3.20h-1.36zM273.24 696.80h1.36v-1.50h-1.36zM276.02 696.80h1.36v-3.20h-1.36zM278.80 696.80h1.36v-9.70h-1.36zM281.59 696.80h1.36v-6.70h-1.36zM284.37 696.80h1.36v-1.20h-1.36zM287.15 696.80h1.36v-5.40h-1.36z" fill="#1aa8dd"/>
<path d="M289.93 696.80h1.36v-14.00h-1.36zM292.71 696.80h1.36v-8.40h-1.36zM295.50 696.80h1.36v-6.20h-1.36zM298.28 696.80h1.36v-10.60h-1.36zM301.06 696.80h1.36v-10.60h-1.36zM303.84 696.80h1.36v-5.10h-1.36zM306.62 696.80h1.36v-0.80h-1.36zM309.41 696.80h1.36v-11.00h-1.36zM312.19 696.80h1.36v-14.50h-1.36zM314.97 696.80h1.36v-0.60h-1.36zM317.75 696.80h1.36v-1.00h-1.36zM320.53 696.80h1.36v-0.60h-1.36zM323.32 696.80h1.36v-34.20h-1.36zM326.10 696.80h1.36v-17.20h-1.36zM328.88 696.80h1.36v-1.00h-1.36zM331.66 696.80h1.36v-31.90h-1.36z" fill="#111111"/>
<path d="M334.44 696.80h1.36v-38.50h-1.36zM337.23 696.80h1.36v-5.10h-1.36zM340.01 696.80h1.36v-1.00h-1.36zM342.79 696.80h1.36v-2.50h-1.36zM345.57 696.80h1.36v-39.40h-1.36zM348.35 696.80h1.36v-14.30h-1.36zM351.14 696.80h1.36v-5.10h-1.36zM353.92 696.80h1.36v-25.00h-1.36zM356.70 696.80h1.36v-20.20h-1.36zM359.48 696.80h1.36v-1.90h-1.36zM362.26 696.80h1.36v-0.60h-1.36zM365.05 696.80h1.36v-0.60h-1.36zM367.83 696.80h1.36v-31.90h-1.36zM370.61 696.80h1.36v-30.00h-1.36zM373.39 696.80h1.36v-3.20h-1.36zM376.17 696.80h1.36v-29.30h-1.36z" fill="#d8231d"/>
<path d="M378.96 696.80h1.36v-0.60h-1.36zM381.74 696.80h1.36v-0.90h-1.36zM384.52 696.80h1.36v-2.80h-1.36zM387.30 696.80h1.36v-0.70h-1.36zM390.08 696.80h1.36v-0.70h-1.36zM392.87 696.80h1.36v-0.70h-1.36zM395.65 696.80h1.36v-2.30h-1.36zM398.43 696.80h1.36v-0.70h-1.36zM401.21 696.80h1.36v-1.80h-1.36zM403.99 696.80h1.36v-0.70h-1.36zM406.78 696.80h1.36v-2.30h-1.36zM409.56 696.80h1.36v-0.70h-1.36zM412.34 696.80h1.36v-0.70h-1.36zM415.12 696.80h1.36v-6.70h-1.36zM417.90 696.80h1.36v-1.30h-1.36zM420.69 696.80h1.36v-0.70h-1.36z" fill="#c4c2c3"/>
<path d="M423.47 696.80h1.36v-1.00h-1.36zM426.25 696.80h1.36v-1.90h-1.36zM429.03 696.80h1.36v-9.10h-1.36zM431.81 696.80h1.36v-5.10h-1.36zM434.60 696.80h1.36v-2.50h-1.36zM437.38 696.80h1.36v-11.00h-1.36zM440.16 696.80h1.36v-4.10h-1.36zM442.94 696.80h1.36v-2.50h-1.36zM445.72 696.80h1.36v-2.50h-1.36zM448.51 696.80h1.36v-8.40h-1.36zM451.29 696.80h1.36v-6.20h-1.36zM454.07 696.80h1.36v-3.20h-1.36zM456.85 696.80h1.36v-0.60h-1.36zM459.63 696.80h1.36v-1.00h-1.36zM462.42 696.80h1.36v-4.90h-1.36zM465.20 696.80h1.36v-1.90h-1.36z" fill="#8dc052"/>
<path d="M467.98 696.80h1.36v-1.00h-1.36zM470.76 696.80h1.36v-3.20h-1.36zM473.54 696.80h1.36v-1.90h-1.36zM476.33 696.80h1.36v-5.40h-1.36zM479.11 696.80h1.36v-0.60h-1.36zM481.89 696.80h1.36v-0.60h-1.36zM484.67 696.80h1.36v-1.50h-1.36zM487.45 696.80h1.36v-3.20h-1.36zM490.24 696.80h1.36v-0.60h-1.36zM493.02 696.80h1.36v-0.60h-1.36zM495.80 696.80h1.36v-4.50h-1.36zM498.58 696.80h1.36v-1.00h-1.36zM501.36 696.80h1.36v-0.60h-1.36zM504.15 696.80h1.36v-6.70h-1.36zM506.93 696.80h1.36v-1.00h-1.36zM509.71 696.80h1.36v-1.00h-1.36z" fill="#e9bcbc"/>
<text transform="translate(241.50,651.50) scale(0.91,1)" font-size="8.6" text-anchor="end" fill="#222" stroke="#222" stroke-width="0.15" font-weight="normal" >8.3</text>
<text transform="translate(241.50,674.40) scale(0.91,1)" font-size="8.6" text-anchor="end" fill="#222" stroke="#222" stroke-width="0.15" font-weight="normal" >4.2</text>
<text transform="translate(241.50,696.50) scale(0.91,1)" font-size="8.6" text-anchor="end" fill="#222" stroke="#222" stroke-width="0.15" font-weight="normal" >0</text>
<text transform="translate(246.90,653.70) scale(0.94,1)" font-size="8.5" text-anchor="start" fill="#222" stroke="#222" stroke-width="0.15" font-weight="normal" >CHM-signature C</text>
<text transform="translate(314.90,653.70) scale(0.93,1)" font-size="8.5" text-anchor="start" fill="#222" stroke="#222" stroke-width="0.15" font-weight="normal" >Base excision repair 32.56%</text>
<text transform="translate(509.40,653.30) scale(0.927,1)" font-size="8.5" text-anchor="end" fill="#222" stroke="#222" stroke-width="0.15" font-weight="normal" >Cosine similarity 0.91</text>
<text transform="translate(289.80,613.50) scale(0.95,1)" font-size="8.5" text-anchor="start" fill="#222" stroke="#222" stroke-width="0.15" font-weight="normal" >GCT&gt;G</text>
<text transform="translate(334.30,613.50) scale(0.95,1)" font-size="8.5" text-anchor="start" fill="#222" stroke="#222" stroke-width="0.15" font-weight="normal" >GCC&gt;T</text>
<text transform="translate(367.90,613.50) scale(0.95,1)" font-size="8.5" text-anchor="start" fill="#222" stroke="#222" stroke-width="0.15" font-weight="normal" >GCT&gt;T</text>
<text transform="translate(219.4,612.3) rotate(-90)" font-size="9.6" text-anchor="middle" fill="#222" stroke="#222" stroke-width="0.25" textLength="79" lengthAdjust="spacingAndGlyphs">Fraction of mutations (%)</text>
</svg>
<div class="bd"></div></div></body></html>
